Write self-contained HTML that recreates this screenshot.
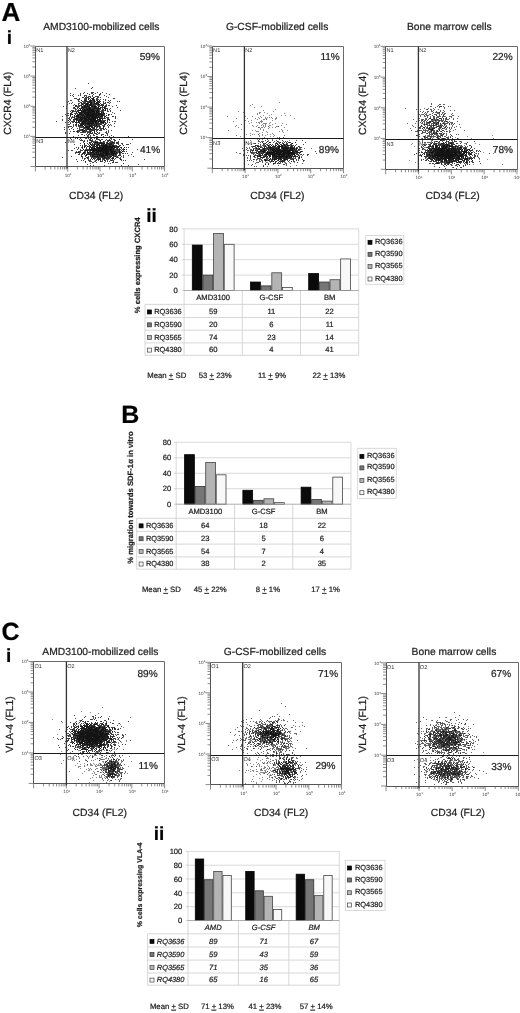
<!DOCTYPE html>
<html><head><meta charset="utf-8"><style>
html,body{margin:0;padding:0;background:#fff;}
body{width:520px;height:1013px;overflow:hidden;}
svg{display:block;font-family:"Liberation Sans", sans-serif;will-change:transform;}
text:not(.n){stroke:#1e1e1e;stroke-width:0.22px;}
</style></head><body>
<svg width="520" height="1013" viewBox="0 0 520 1013" text-rendering="geometricPrecision">
<rect width="520" height="1013" fill="#fff"/>
<g fill="#1e1e1e">
<text x="1.50" y="21.00" font-size="26" font-weight="bold" fill="#000">A</text>
<text x="6.80" y="44.00" font-size="19" font-weight="bold" fill="#000">i</text>
<path d="M35.40 166.50v5M35.40 166.50h-5M45.12 166.50v3M35.40 157.43h-3M50.81 166.50v3M35.40 152.13h-3M54.85 166.50v3M35.40 148.36h-3M57.98 166.50v3M35.40 145.44h-3M60.53 166.50v3M35.40 143.06h-3M62.70 166.50v3M35.40 141.04h-3M64.57 166.50v3M35.40 139.29h-3M66.22 166.50v3M35.40 137.75h-3M67.70 166.50v5M35.40 136.38h-5M77.42 166.50v3M35.40 127.31h-3M83.11 166.50v3M35.40 122.00h-3M87.15 166.50v3M35.40 118.24h-3M90.28 166.50v3M35.40 115.32h-3M92.83 166.50v3M35.40 112.93h-3M95.00 166.50v3M35.40 110.92h-3M96.87 166.50v3M35.40 109.17h-3M98.52 166.50v3M35.40 107.63h-3M100.00 166.50v5M35.40 106.25h-5M109.72 166.50v3M35.40 97.18h-3M115.41 166.50v3M35.40 91.88h-3M119.45 166.50v3M35.40 88.11h-3M122.58 166.50v3M35.40 85.19h-3M125.13 166.50v3M35.40 82.81h-3M127.30 166.50v3M35.40 80.79h-3M129.17 166.50v3M35.40 79.04h-3M130.82 166.50v3M35.40 77.50h-3M132.30 166.50v5M35.40 76.12h-5M142.02 166.50v3M35.40 67.06h-3M147.71 166.50v3M35.40 61.75h-3M151.75 166.50v3M35.40 57.99h-3M154.88 166.50v3M35.40 55.07h-3M157.43 166.50v3M35.40 52.68h-3M159.60 166.50v3M35.40 50.67h-3M161.47 166.50v3M35.40 48.92h-3M163.12 166.50v3M35.40 47.38h-3M164.60 166.50v5M35.40 46.00h-5" stroke="#666" stroke-width="0.75"/>
<g shape-rendering="crispEdges" transform="translate(0,0.5)" ><path d="M75 88h1M93 92h1M91 93h1M106 93h1M73 94h1M89 94h1M100 94h1M109 94h1M72 95h1M80 95h1M85 95h1M86 95h1M84 96h1M86 96h1M106 96h1M82 97h1M83 97h1M90 97h1M93 97h1M97 97h1M100 97h1M76 98h1M88 98h1M92 98h1M93 98h1M114 98h1M78 99h1M86 99h1M88 99h1M92 99h1M93 99h1M96 99h1M97 99h1M81 100h1M84 100h1M85 100h1M90 100h1M91 100h1M92 100h1M93 100h1M94 100h1M96 100h1M99 100h1M105 100h1M89 101h1M90 101h1M94 101h1M95 101h1M98 101h1M99 101h1M100 101h1M109 101h1M67 102h1M72 102h1M81 102h1M84 102h1M89 102h1M90 102h1M91 102h1M92 102h1M94 102h1M105 102h1M108 102h1M71 103h1M82 103h1M85 103h1M86 103h1M87 103h1M88 103h1M91 103h1M94 103h1M95 103h1M97 103h1M98 103h1M109 103h1M78 104h1M81 104h1M82 104h1M85 104h1M86 104h1M87 104h1M88 104h1M89 104h1M90 104h1M92 104h1M93 104h1M96 104h1M98 104h1M99 104h1M75 105h1M76 105h1M79 105h1M84 105h1M87 105h1M89 105h1M90 105h1M91 105h1M92 105h1M93 105h1M94 105h1M97 105h1M99 105h1M101 105h1M103 105h1M105 105h1M109 105h1M75 106h1M76 106h1M78 106h1M79 106h1M82 106h1M84 106h1M87 106h1M89 106h1M91 106h1M92 106h1M93 106h1M94 106h1M95 106h1M98 106h1M102 106h1M105 106h1M74 107h1M78 107h1M81 107h1M82 107h1M83 107h1M87 107h1M88 107h1M90 107h1M92 107h1M93 107h1M94 107h1M95 107h1M98 107h1M100 107h1M101 107h1M102 107h1M104 107h1M66 108h1M81 108h1M83 108h1M88 108h1M89 108h1M90 108h1M92 108h1M93 108h1M94 108h1M95 108h1M96 108h1M98 108h1M99 108h1M102 108h1M104 108h1M105 108h1M76 109h1M80 109h1M84 109h1M85 109h1M86 109h1M87 109h1M88 109h1M89 109h1M90 109h1M91 109h1M92 109h1M93 109h1M95 109h1M96 109h1M97 109h1M98 109h1M99 109h1M102 109h1M103 109h1M105 109h1M107 109h1M71 110h1M72 110h1M79 110h1M81 110h1M83 110h1M84 110h1M85 110h1M86 110h1M87 110h1M89 110h1M91 110h1M92 110h1M93 110h1M94 110h1M95 110h1M96 110h1M98 110h1M99 110h1M101 110h1M102 110h1M105 110h1M110 110h1M72 111h1M78 111h1M81 111h1M82 111h1M83 111h1M84 111h1M85 111h1M87 111h1M88 111h1M89 111h1M92 111h1M93 111h1M94 111h1M96 111h1M97 111h1M98 111h1M101 111h1M72 112h1M76 112h1M78 112h1M79 112h1M80 112h1M82 112h1M83 112h1M84 112h1M85 112h1M87 112h1M88 112h1M89 112h1M90 112h1M91 112h1M93 112h1M94 112h1M96 112h1M97 112h1M98 112h1M102 112h1M112 112h1M67 113h1M70 113h1M75 113h1M79 113h1M80 113h1M81 113h1M83 113h1M84 113h1M85 113h1M87 113h1M88 113h1M90 113h1M91 113h1M92 113h1M93 113h1M94 113h1M95 113h1M96 113h1M99 113h1M100 113h1M101 113h1M103 113h1M65 114h1M70 114h1M79 114h1M80 114h1M81 114h1M82 114h1M83 114h1M85 114h1M86 114h1M87 114h1M88 114h1M89 114h1M90 114h1M91 114h1M92 114h1M93 114h1M94 114h1M97 114h1M99 114h1M100 114h1M101 114h1M108 114h1M68 115h1M70 115h1M76 115h1M77 115h1M78 115h1M80 115h1M81 115h1M82 115h1M83 115h1M84 115h1M86 115h1M87 115h1M88 115h1M89 115h1M90 115h1M91 115h1M92 115h1M93 115h1M96 115h1M97 115h1M98 115h1M99 115h1M100 115h1M101 115h1M102 115h1M103 115h1M106 115h1M108 115h1M62 116h1M70 116h1M75 116h1M76 116h1M77 116h1M78 116h1M82 116h1M83 116h1M84 116h1M85 116h1M86 116h1M87 116h1M88 116h1M89 116h1M90 116h1M92 116h1M93 116h1M94 116h1M95 116h1M96 116h1M98 116h1M100 116h1M101 116h1M102 116h1M105 116h1M112 116h1M113 116h1M69 117h1M74 117h1M77 117h1M78 117h1M79 117h1M80 117h1M81 117h1M83 117h1M85 117h1M86 117h1M87 117h1M88 117h1M89 117h1M91 117h1M92 117h1M93 117h1M94 117h1M95 117h1M96 117h1M97 117h1M98 117h1M99 117h1M104 117h1M115 117h1M68 118h1M69 118h1M71 118h1M74 118h1M75 118h1M82 118h1M83 118h1M84 118h1M85 118h1M86 118h1M87 118h1M88 118h1M89 118h1M91 118h1M92 118h1M93 118h1M94 118h1M95 118h1M96 118h1M99 118h1M100 118h1M101 118h1M102 118h1M107 118h1M108 118h1M115 118h1M69 119h1M70 119h1M73 119h1M75 119h1M77 119h1M79 119h1M80 119h1M81 119h1M83 119h1M85 119h1M86 119h1M87 119h1M88 119h1M89 119h1M90 119h1M91 119h1M93 119h1M94 119h1M95 119h1M98 119h1M99 119h1M102 119h1M108 119h1M109 119h1M68 120h1M77 120h1M78 120h1M80 120h1M81 120h1M83 120h1M84 120h1M85 120h1M86 120h1M87 120h1M88 120h1M90 120h1M91 120h1M92 120h1M94 120h1M95 120h1M96 120h1M97 120h1M98 120h1M99 120h1M100 120h1M102 120h1M105 120h1M107 120h1M109 120h1M69 121h1M73 121h1M74 121h1M80 121h1M82 121h1M83 121h1M84 121h1M85 121h1M86 121h1M88 121h1M89 121h1M91 121h1M92 121h1M93 121h1M94 121h1M95 121h1M96 121h1M98 121h1M99 121h1M100 121h1M101 121h1M102 121h1M104 121h1M112 121h1M114 121h1M75 122h1M76 122h1M79 122h1M82 122h1M83 122h1M84 122h1M85 122h1M87 122h1M88 122h1M89 122h1M91 122h1M92 122h1M93 122h1M94 122h1M95 122h1M97 122h1M100 122h1M101 122h1M103 122h1M105 122h1M107 122h1M109 122h1M80 123h1M82 123h1M83 123h1M84 123h1M88 123h1M89 123h1M90 123h1M91 123h1M92 123h1M95 123h1M96 123h1M99 123h1M101 123h1M105 123h1M69 124h1M76 124h1M80 124h1M81 124h1M82 124h1M83 124h1M85 124h1M86 124h1M87 124h1M88 124h1M89 124h1M91 124h1M92 124h1M93 124h1M94 124h1M96 124h1M98 124h1M99 124h1M100 124h1M104 124h1M110 124h1M76 125h1M79 125h1M80 125h1M81 125h1M82 125h1M84 125h1M86 125h1M89 125h1M90 125h1M91 125h1M93 125h1M94 125h1M96 125h1M102 125h1M109 125h1M68 126h1M69 126h1M79 126h1M82 126h1M83 126h1M85 126h1M87 126h1M88 126h1M89 126h1M92 126h1M94 126h1M99 126h1M103 126h1M104 126h1M108 126h1M68 127h1M72 127h1M80 127h1M81 127h1M85 127h1M86 127h1M87 127h1M89 127h1M91 127h1M93 127h1M94 127h1M97 127h1M103 127h1M108 127h1M71 128h1M77 128h1M87 128h1M88 128h1M89 128h1M90 128h1M93 128h1M94 128h1M103 128h1M105 128h1M80 129h1M82 129h1M83 129h1M85 129h1M87 129h1M88 129h1M89 129h1M90 129h1M91 129h1M92 129h1M95 129h1M98 129h1M103 129h1M106 129h1M79 130h1M81 130h1M82 130h1M83 130h1M84 130h1M85 130h1M93 130h1M96 130h1M100 130h1M108 130h1M70 131h1M73 131h1M77 131h1M83 131h1M84 131h1M90 131h1M94 131h1M108 131h1M78 132h1M81 132h1M87 132h1M90 132h1M92 132h1M94 132h1M97 132h1M99 132h1M69 133h1M90 133h1M91 133h1M99 133h1M106 133h1M81 134h1M82 134h1M88 134h1M89 134h1M96 134h1M97 134h1M102 134h1M87 135h1M88 135h1M94 135h1M101 135h1M88 136h1M90 136h1M109 136h1M128 136h1M90 137h1M95 137h1M98 137h1M108 137h1M70 138h1M75 138h1M77 138h1M80 138h1M88 138h1M91 138h1M94 138h1M96 138h1M110 138h1M111 138h1M71 139h1M79 139h1M81 139h1M90 139h1M97 139h1M111 139h1M114 139h1M119 139h1M87 140h1M90 140h1M95 140h1M100 140h1M108 140h1M109 140h1M83 141h1M87 141h1M91 141h1M94 141h1M100 141h1M103 141h1M108 141h1M111 141h1M90 142h1M94 142h1M95 142h1M96 142h1M97 142h1M98 142h1M100 142h1M101 142h1M102 142h1M103 142h1M104 142h1M107 142h1M109 142h1M110 142h1M112 142h1M113 142h1M116 142h1M117 142h1M118 142h1M84 143h1M92 143h1M94 143h1M100 143h1M101 143h1M102 143h1M104 143h1M107 143h1M108 143h1M110 143h1M112 143h1M113 143h1M118 143h1M74 144h1M84 144h1M88 144h1M90 144h1M91 144h1M92 144h1M97 144h1M98 144h1M101 144h1M103 144h1M105 144h1M106 144h1M109 144h1M110 144h1M111 144h1M113 144h1M118 144h1M126 144h1M128 144h1M80 145h1M82 145h1M84 145h1M91 145h1M92 145h1M94 145h1M97 145h1M99 145h1M101 145h1M102 145h1M104 145h1M105 145h1M106 145h1M107 145h1M109 145h1M110 145h1M112 145h1M113 145h1M116 145h1M82 146h1M84 146h1M85 146h1M87 146h1M88 146h1M92 146h1M93 146h1M95 146h1M97 146h1M99 146h1M102 146h1M103 146h1M104 146h1M105 146h1M106 146h1M108 146h1M109 146h1M110 146h1M111 146h1M112 146h1M114 146h1M115 146h1M116 146h1M117 146h1M118 146h1M81 147h1M82 147h1M91 147h1M92 147h1M94 147h1M96 147h1M97 147h1M98 147h1M99 147h1M100 147h1M101 147h1M102 147h1M103 147h1M104 147h1M105 147h1M106 147h1M107 147h1M108 147h1M109 147h1M110 147h1M111 147h1M112 147h1M114 147h1M115 147h1M118 147h1M124 147h1M74 148h1M91 148h1M92 148h1M93 148h1M95 148h1M97 148h1M98 148h1M99 148h1M100 148h1M101 148h1M102 148h1M103 148h1M104 148h1M105 148h1M106 148h1M107 148h1M108 148h1M109 148h1M110 148h1M111 148h1M112 148h1M113 148h1M116 148h1M117 148h1M83 149h1M85 149h1M86 149h1M87 149h1M89 149h1M90 149h1M91 149h1M92 149h1M93 149h1M94 149h1M95 149h1M96 149h1M97 149h1M98 149h1M100 149h1M101 149h1M102 149h1M103 149h1M104 149h1M105 149h1M106 149h1M107 149h1M108 149h1M110 149h1M111 149h1M113 149h1M114 149h1M116 149h1M124 149h1M126 149h1M68 150h1M80 150h1M81 150h1M84 150h1M85 150h1M86 150h1M91 150h1M93 150h1M94 150h1M95 150h1M96 150h1M97 150h1M98 150h1M99 150h1M100 150h1M101 150h1M102 150h1M103 150h1M104 150h1M105 150h1M106 150h1M107 150h1M108 150h1M109 150h1M110 150h1M111 150h1M113 150h1M114 150h1M119 150h1M121 150h1M78 151h1M79 151h1M87 151h1M92 151h1M93 151h1M94 151h1M95 151h1M96 151h1M97 151h1M98 151h1M99 151h1M100 151h1M101 151h1M102 151h1M103 151h1M104 151h1M105 151h1M106 151h1M107 151h1M108 151h1M110 151h1M111 151h1M112 151h1M114 151h1M115 151h1M117 151h1M119 151h1M122 151h1M126 151h1M75 152h1M76 152h1M77 152h1M78 152h1M84 152h1M85 152h1M87 152h1M88 152h1M90 152h1M91 152h1M92 152h1M93 152h1M95 152h1M96 152h1M97 152h1M98 152h1M100 152h1M102 152h1M103 152h1M105 152h1M106 152h1M107 152h1M110 152h1M111 152h1M112 152h1M113 152h1M116 152h1M119 152h1M121 152h1M75 153h1M79 153h1M82 153h1M84 153h1M85 153h1M88 153h1M91 153h1M93 153h1M94 153h1M96 153h1M98 153h1M99 153h1M100 153h1M101 153h1M102 153h1M103 153h1M104 153h1M105 153h1M106 153h1M107 153h1M108 153h1M113 153h1M114 153h1M116 153h1M119 153h1M122 153h1M123 153h1M127 153h1M87 154h1M88 154h1M93 154h1M94 154h1M95 154h1M96 154h1M97 154h1M98 154h1M99 154h1M100 154h1M101 154h1M102 154h1M103 154h1M104 154h1M105 154h1M106 154h1M107 154h1M108 154h1M109 154h1M111 154h1M112 154h1M113 154h1M115 154h1M119 154h1M86 155h1M90 155h1M91 155h1M94 155h1M95 155h1M97 155h1M99 155h1M100 155h1M101 155h1M102 155h1M103 155h1M104 155h1M105 155h1M106 155h1M107 155h1M110 155h1M112 155h1M113 155h1M115 155h1M128 155h1M71 156h1M82 156h1M90 156h1M91 156h1M92 156h1M93 156h1M94 156h1M95 156h1M97 156h1M98 156h1M99 156h1M100 156h1M101 156h1M102 156h1M103 156h1M104 156h1M106 156h1M107 156h1M109 156h1M110 156h1M111 156h1M113 156h1M116 156h1M121 156h1M87 157h1M92 157h1M94 157h1M96 157h1M99 157h1M101 157h1M102 157h1M103 157h1M104 157h1M106 157h1M112 157h1M113 157h1M118 157h1M84 158h1M91 158h1M93 158h1M94 158h1M97 158h1M98 158h1M100 158h1M103 158h1M104 158h1M106 158h1M107 158h1M109 158h1M112 158h1M113 158h1M115 158h1M76 159h1M84 159h1M88 159h1M92 159h1M96 159h1M98 159h1M99 159h1M100 159h1M103 159h1M104 159h1M107 159h1M120 159h1M144 159h1M88 160h1M104 160h1M113 160h1M121 160h1M125 160h1M89 161h1M91 161h1M100 161h1M101 161h1M112 162h1M116 162h1M123 163h1M87 164h1M93 165h1M104 165h1M121 165h1" stroke="#111" stroke-opacity="0.78" stroke-width="1"/><path d="M91 88h1M91 92h1M92 92h1M102 92h1M80 93h1M83 93h1M95 93h1M99 94h1M92 95h1M104 95h1M73 96h1M88 96h1M89 96h1M90 96h1M97 96h1M86 97h1M87 97h1M90 97h1M93 97h1M94 97h1M75 98h1M79 98h1M84 98h1M85 98h1M86 98h1M89 98h1M93 98h1M79 99h1M85 99h1M88 99h1M92 99h1M93 99h1M100 99h1M78 100h1M85 100h1M86 100h1M90 100h1M93 100h1M97 100h1M110 100h1M78 101h1M79 101h1M82 101h1M85 101h1M86 101h1M87 101h1M88 101h1M89 101h1M91 101h1M92 101h1M93 101h1M97 101h1M98 101h1M103 101h1M119 101h1M80 102h1M83 102h1M87 102h1M89 102h1M90 102h1M91 102h1M96 102h1M97 102h1M99 102h1M103 102h1M107 102h1M108 102h1M79 103h1M81 103h1M83 103h1M84 103h1M86 103h1M87 103h1M88 103h1M90 103h1M91 103h1M92 103h1M96 103h1M97 103h1M98 103h1M100 103h1M103 103h1M104 103h1M82 104h1M83 104h1M86 104h1M87 104h1M89 104h1M90 104h1M91 104h1M93 104h1M95 104h1M96 104h1M98 104h1M99 104h1M101 104h1M102 104h1M103 104h1M106 104h1M73 105h1M75 105h1M81 105h1M84 105h1M85 105h1M86 105h1M88 105h1M89 105h1M90 105h1M91 105h1M94 105h1M100 105h1M102 105h1M103 105h1M108 105h1M63 106h1M66 106h1M75 106h1M81 106h1M82 106h1M83 106h1M84 106h1M85 106h1M86 106h1M87 106h1M88 106h1M89 106h1M91 106h1M92 106h1M93 106h1M95 106h1M96 106h1M98 106h1M99 106h1M102 106h1M104 106h1M105 106h1M74 107h1M82 107h1M84 107h1M85 107h1M86 107h1M88 107h1M89 107h1M91 107h1M92 107h1M94 107h1M95 107h1M96 107h1M97 107h1M98 107h1M100 107h1M103 107h1M105 107h1M117 107h1M66 108h1M73 108h1M75 108h1M77 108h1M79 108h1M81 108h1M83 108h1M84 108h1M86 108h1M87 108h1M88 108h1M89 108h1M90 108h1M91 108h1M93 108h1M94 108h1M96 108h1M97 108h1M98 108h1M100 108h1M104 108h1M105 108h1M107 108h1M75 109h1M80 109h1M82 109h1M83 109h1M84 109h1M85 109h1M86 109h1M87 109h1M88 109h1M89 109h1M90 109h1M92 109h1M93 109h1M94 109h1M97 109h1M109 109h1M75 110h1M78 110h1M79 110h1M80 110h1M81 110h1M83 110h1M84 110h1M85 110h1M87 110h1M88 110h1M89 110h1M90 110h1M91 110h1M92 110h1M93 110h1M94 110h1M95 110h1M96 110h1M97 110h1M98 110h1M102 110h1M103 110h1M104 110h1M107 110h1M72 111h1M74 111h1M76 111h1M81 111h1M82 111h1M83 111h1M84 111h1M85 111h1M87 111h1M88 111h1M89 111h1M90 111h1M91 111h1M92 111h1M93 111h1M94 111h1M95 111h1M96 111h1M97 111h1M98 111h1M99 111h1M100 111h1M102 111h1M103 111h1M107 111h1M78 112h1M80 112h1M81 112h1M83 112h1M84 112h1M85 112h1M86 112h1M87 112h1M88 112h1M89 112h1M90 112h1M91 112h1M92 112h1M94 112h1M95 112h1M96 112h1M97 112h1M98 112h1M101 112h1M103 112h1M74 113h1M79 113h1M80 113h1M81 113h1M82 113h1M84 113h1M86 113h1M87 113h1M88 113h1M89 113h1M90 113h1M91 113h1M93 113h1M95 113h1M97 113h1M98 113h1M99 113h1M101 113h1M102 113h1M103 113h1M104 113h1M70 114h1M71 114h1M72 114h1M75 114h1M78 114h1M79 114h1M80 114h1M81 114h1M83 114h1M85 114h1M86 114h1M87 114h1M88 114h1M89 114h1M90 114h1M91 114h1M92 114h1M93 114h1M94 114h1M95 114h1M96 114h1M97 114h1M98 114h1M100 114h1M101 114h1M102 114h1M103 114h1M109 114h1M74 115h1M76 115h1M77 115h1M79 115h1M81 115h1M82 115h1M85 115h1M87 115h1M88 115h1M89 115h1M90 115h1M91 115h1M92 115h1M93 115h1M94 115h1M95 115h1M96 115h1M97 115h1M99 115h1M102 115h1M103 115h1M106 115h1M74 116h1M77 116h1M78 116h1M80 116h1M81 116h1M84 116h1M86 116h1M87 116h1M88 116h1M90 116h1M91 116h1M92 116h1M93 116h1M94 116h1M95 116h1M96 116h1M97 116h1M98 116h1M99 116h1M100 116h1M101 116h1M102 116h1M105 116h1M112 116h1M72 117h1M73 117h1M74 117h1M76 117h1M78 117h1M79 117h1M80 117h1M81 117h1M82 117h1M83 117h1M84 117h1M85 117h1M86 117h1M87 117h1M88 117h1M89 117h1M90 117h1M91 117h1M92 117h1M93 117h1M94 117h1M95 117h1M96 117h1M98 117h1M99 117h1M102 117h1M104 117h1M106 117h1M76 118h1M77 118h1M78 118h1M79 118h1M80 118h1M81 118h1M84 118h1M85 118h1M86 118h1M88 118h1M90 118h1M91 118h1M92 118h1M93 118h1M95 118h1M97 118h1M102 118h1M104 118h1M62 119h1M73 119h1M74 119h1M76 119h1M78 119h1M81 119h1M82 119h1M84 119h1M85 119h1M86 119h1M87 119h1M89 119h1M90 119h1M91 119h1M92 119h1M93 119h1M94 119h1M95 119h1M97 119h1M99 119h1M100 119h1M62 120h1M70 120h1M73 120h1M74 120h1M76 120h1M78 120h1M79 120h1M80 120h1M81 120h1M83 120h1M85 120h1M86 120h1M87 120h1M88 120h1M90 120h1M91 120h1M92 120h1M93 120h1M94 120h1M95 120h1M96 120h1M100 120h1M104 120h1M105 120h1M56 121h1M71 121h1M72 121h1M78 121h1M79 121h1M80 121h1M81 121h1M82 121h1M83 121h1M84 121h1M86 121h1M87 121h1M88 121h1M89 121h1M90 121h1M91 121h1M92 121h1M93 121h1M94 121h1M95 121h1M96 121h1M98 121h1M99 121h1M100 121h1M101 121h1M103 121h1M72 122h1M73 122h1M76 122h1M78 122h1M82 122h1M83 122h1M85 122h1M87 122h1M90 122h1M92 122h1M93 122h1M95 122h1M96 122h1M98 122h1M100 122h1M102 122h1M103 122h1M104 122h1M70 123h1M79 123h1M81 123h1M82 123h1M83 123h1M85 123h1M86 123h1M87 123h1M88 123h1M89 123h1M90 123h1M91 123h1M92 123h1M93 123h1M95 123h1M97 123h1M102 123h1M103 123h1M106 123h1M73 124h1M76 124h1M78 124h1M80 124h1M81 124h1M82 124h1M83 124h1M85 124h1M88 124h1M89 124h1M90 124h1M91 124h1M96 124h1M97 124h1M98 124h1M100 124h1M105 124h1M75 125h1M78 125h1M80 125h1M82 125h1M84 125h1M87 125h1M88 125h1M89 125h1M91 125h1M93 125h1M94 125h1M96 125h1M97 125h1M98 125h1M99 125h1M107 125h1M70 126h1M73 126h1M78 126h1M81 126h1M85 126h1M86 126h1M87 126h1M88 126h1M89 126h1M90 126h1M91 126h1M92 126h1M95 126h1M96 126h1M97 126h1M98 126h1M99 126h1M103 126h1M84 127h1M85 127h1M86 127h1M88 127h1M92 127h1M94 127h1M96 127h1M99 127h1M100 127h1M103 127h1M79 128h1M84 128h1M85 128h1M86 128h1M88 128h1M92 128h1M94 128h1M96 128h1M102 128h1M103 128h1M79 129h1M81 129h1M82 129h1M86 129h1M88 129h1M91 129h1M93 129h1M95 129h1M77 130h1M78 130h1M80 130h1M82 130h1M84 130h1M86 130h1M89 130h1M92 130h1M94 130h1M101 130h1M111 130h1M73 131h1M74 131h1M77 131h1M82 131h1M83 131h1M85 131h1M87 131h1M90 131h1M96 131h1M77 132h1M83 132h1M84 132h1M85 132h1M88 132h1M89 132h1M90 132h1M94 132h1M97 132h1M105 132h1M108 132h1M89 133h1M91 133h1M92 133h1M95 133h1M98 133h1M107 133h1M86 134h1M93 134h1M103 134h1M107 134h1M90 135h1M93 135h1M101 135h1M105 135h1M111 135h1M87 136h1M96 136h1M81 137h1M92 137h1M108 137h1M118 137h1M77 138h1M86 138h1M96 138h1M98 139h1M102 139h1M113 139h1M119 139h1M132 139h1M80 140h1M81 140h1M89 140h1M90 140h1M92 140h1M99 140h1M100 140h1M107 140h1M108 140h1M110 140h1M84 141h1M91 141h1M96 141h1M97 141h1M107 141h1M114 141h1M118 141h1M65 142h1M89 142h1M91 142h1M93 142h1M95 142h1M96 142h1M97 142h1M99 142h1M80 143h1M84 143h1M87 143h1M92 143h1M94 143h1M95 143h1M97 143h1M98 143h1M99 143h1M100 143h1M101 143h1M103 143h1M104 143h1M108 143h1M111 143h1M114 143h1M117 143h1M122 143h1M90 144h1M93 144h1M94 144h1M96 144h1M98 144h1M99 144h1M103 144h1M105 144h1M107 144h1M109 144h1M111 144h1M86 145h1M89 145h1M93 145h1M94 145h1M96 145h1M99 145h1M100 145h1M101 145h1M102 145h1M103 145h1M104 145h1M105 145h1M106 145h1M107 145h1M108 145h1M109 145h1M112 145h1M113 145h1M90 146h1M93 146h1M94 146h1M95 146h1M96 146h1M97 146h1M99 146h1M100 146h1M101 146h1M102 146h1M103 146h1M104 146h1M105 146h1M106 146h1M107 146h1M108 146h1M109 146h1M110 146h1M111 146h1M112 146h1M113 146h1M114 146h1M116 146h1M118 146h1M119 146h1M76 147h1M78 147h1M84 147h1M86 147h1M89 147h1M90 147h1M93 147h1M94 147h1M96 147h1M97 147h1M98 147h1M99 147h1M100 147h1M101 147h1M102 147h1M103 147h1M105 147h1M106 147h1M107 147h1M108 147h1M109 147h1M111 147h1M112 147h1M113 147h1M114 147h1M116 147h1M117 147h1M118 147h1M121 147h1M124 147h1M128 147h1M82 148h1M86 148h1M89 148h1M92 148h1M93 148h1M94 148h1M95 148h1M97 148h1M99 148h1M100 148h1M101 148h1M102 148h1M103 148h1M104 148h1M105 148h1M106 148h1M107 148h1M109 148h1M111 148h1M112 148h1M113 148h1M119 148h1M121 148h1M123 148h1M80 149h1M88 149h1M91 149h1M93 149h1M94 149h1M95 149h1M96 149h1M97 149h1M99 149h1M100 149h1M101 149h1M102 149h1M103 149h1M104 149h1M105 149h1M106 149h1M107 149h1M108 149h1M109 149h1M110 149h1M111 149h1M112 149h1M115 149h1M117 149h1M119 149h1M120 149h1M124 149h1M71 150h1M86 150h1M87 150h1M88 150h1M90 150h1M91 150h1M92 150h1M93 150h1M95 150h1M96 150h1M97 150h1M98 150h1M99 150h1M100 150h1M101 150h1M102 150h1M103 150h1M105 150h1M106 150h1M107 150h1M108 150h1M109 150h1M110 150h1M112 150h1M113 150h1M118 150h1M119 150h1M121 150h1M80 151h1M84 151h1M87 151h1M89 151h1M90 151h1M92 151h1M93 151h1M94 151h1M97 151h1M98 151h1M99 151h1M100 151h1M101 151h1M102 151h1M103 151h1M104 151h1M105 151h1M106 151h1M107 151h1M108 151h1M109 151h1M110 151h1M111 151h1M112 151h1M113 151h1M114 151h1M119 151h1M120 151h1M123 151h1M76 152h1M78 152h1M80 152h1M83 152h1M89 152h1M90 152h1M91 152h1M92 152h1M96 152h1M97 152h1M98 152h1M100 152h1M102 152h1M103 152h1M104 152h1M105 152h1M106 152h1M107 152h1M108 152h1M109 152h1M111 152h1M112 152h1M114 152h1M116 152h1M119 152h1M132 152h1M83 153h1M87 153h1M88 153h1M90 153h1M91 153h1M92 153h1M93 153h1M94 153h1M96 153h1M97 153h1M98 153h1M100 153h1M101 153h1M102 153h1M103 153h1M104 153h1M105 153h1M106 153h1M107 153h1M108 153h1M109 153h1M111 153h1M112 153h1M113 153h1M114 153h1M115 153h1M125 153h1M79 154h1M84 154h1M86 154h1M89 154h1M90 154h1M91 154h1M92 154h1M93 154h1M94 154h1M95 154h1M96 154h1M97 154h1M98 154h1M99 154h1M100 154h1M101 154h1M102 154h1M103 154h1M105 154h1M106 154h1M107 154h1M108 154h1M109 154h1M110 154h1M111 154h1M112 154h1M115 154h1M116 154h1M120 154h1M131 154h1M86 155h1M90 155h1M92 155h1M93 155h1M97 155h1M98 155h1M99 155h1M100 155h1M101 155h1M102 155h1M103 155h1M105 155h1M106 155h1M107 155h1M109 155h1M113 155h1M116 155h1M118 155h1M120 155h1M81 156h1M85 156h1M88 156h1M92 156h1M93 156h1M95 156h1M96 156h1M98 156h1M101 156h1M103 156h1M104 156h1M107 156h1M108 156h1M110 156h1M114 156h1M115 156h1M117 156h1M82 157h1M86 157h1M88 157h1M96 157h1M98 157h1M100 157h1M102 157h1M104 157h1M105 157h1M107 157h1M108 157h1M110 157h1M116 157h1M117 157h1M85 158h1M88 158h1M103 158h1M104 158h1M105 158h1M106 158h1M108 158h1M111 158h1M112 158h1M113 158h1M119 158h1M120 158h1M98 159h1M99 159h1M100 159h1M106 159h1M108 159h1M112 159h1M83 160h1M89 160h1M90 160h1M100 160h1M104 160h1M107 160h1M111 160h1M123 160h1M85 161h1M107 161h1M109 161h1M113 161h1M85 162h1M92 162h1M93 162h1M96 162h1M112 162h1M115 162h1M108 163h1M110 163h1M138 164h1M90 165h1M128 165h1" stroke="#111" stroke-opacity="0.78" stroke-width="1"/><path d="M88 83h1M92 87h1M84 92h1M97 92h1M70 93h1M87 93h1M92 93h1M100 93h1M80 94h1M89 94h1M93 94h1M70 95h1M78 95h1M84 95h1M99 95h1M92 96h1M95 96h1M96 96h1M98 96h1M82 97h1M85 97h1M88 97h1M98 97h1M108 97h1M74 98h1M86 98h1M91 98h1M92 98h1M96 98h1M97 98h1M113 98h1M77 99h1M84 99h1M88 99h1M90 99h1M93 99h1M94 99h1M98 99h1M103 99h1M105 99h1M70 100h1M71 100h1M81 100h1M84 100h1M89 100h1M90 100h1M91 100h1M94 100h1M97 100h1M99 100h1M108 100h1M68 101h1M83 101h1M84 101h1M86 101h1M87 101h1M90 101h1M94 101h1M97 101h1M98 101h1M117 101h1M85 102h1M88 102h1M90 102h1M91 102h1M93 102h1M94 102h1M96 102h1M97 102h1M98 102h1M99 102h1M110 102h1M69 103h1M78 103h1M81 103h1M84 103h1M86 103h1M90 103h1M91 103h1M93 103h1M94 103h1M95 103h1M96 103h1M105 103h1M67 104h1M74 104h1M82 104h1M85 104h1M86 104h1M87 104h1M90 104h1M91 104h1M94 104h1M97 104h1M99 104h1M101 104h1M76 105h1M78 105h1M80 105h1M81 105h1M83 105h1M84 105h1M85 105h1M87 105h1M90 105h1M92 105h1M95 105h1M98 105h1M101 105h1M106 105h1M116 105h1M77 106h1M82 106h1M85 106h1M86 106h1M87 106h1M88 106h1M91 106h1M92 106h1M94 106h1M95 106h1M96 106h1M98 106h1M102 106h1M106 106h1M112 106h1M73 107h1M77 107h1M82 107h1M83 107h1M84 107h1M85 107h1M86 107h1M89 107h1M90 107h1M94 107h1M104 107h1M74 108h1M79 108h1M80 108h1M81 108h1M82 108h1M83 108h1M85 108h1M86 108h1M87 108h1M89 108h1M90 108h1M93 108h1M94 108h1M95 108h1M96 108h1M97 108h1M98 108h1M99 108h1M100 108h1M104 108h1M106 108h1M110 108h1M78 109h1M80 109h1M82 109h1M84 109h1M87 109h1M88 109h1M89 109h1M90 109h1M91 109h1M92 109h1M93 109h1M97 109h1M98 109h1M100 109h1M103 109h1M105 109h1M73 110h1M77 110h1M78 110h1M79 110h1M80 110h1M82 110h1M83 110h1M84 110h1M85 110h1M86 110h1M88 110h1M89 110h1M90 110h1M91 110h1M92 110h1M93 110h1M97 110h1M105 110h1M120 110h1M70 111h1M73 111h1M75 111h1M77 111h1M81 111h1M83 111h1M84 111h1M85 111h1M86 111h1M88 111h1M89 111h1M90 111h1M91 111h1M92 111h1M93 111h1M94 111h1M96 111h1M97 111h1M98 111h1M108 111h1M110 111h1M71 112h1M76 112h1M79 112h1M81 112h1M82 112h1M84 112h1M85 112h1M86 112h1M87 112h1M88 112h1M89 112h1M90 112h1M92 112h1M93 112h1M94 112h1M96 112h1M97 112h1M99 112h1M101 112h1M103 112h1M68 113h1M70 113h1M71 113h1M76 113h1M77 113h1M81 113h1M84 113h1M85 113h1M86 113h1M87 113h1M88 113h1M89 113h1M92 113h1M93 113h1M94 113h1M95 113h1M96 113h1M97 113h1M98 113h1M100 113h1M104 113h1M106 113h1M114 113h1M72 114h1M77 114h1M78 114h1M79 114h1M80 114h1M81 114h1M82 114h1M83 114h1M84 114h1M85 114h1M86 114h1M87 114h1M88 114h1M89 114h1M90 114h1M91 114h1M92 114h1M93 114h1M94 114h1M95 114h1M96 114h1M97 114h1M98 114h1M99 114h1M100 114h1M102 114h1M104 114h1M108 114h1M111 114h1M66 115h1M67 115h1M70 115h1M74 115h1M76 115h1M78 115h1M82 115h1M83 115h1M84 115h1M86 115h1M87 115h1M88 115h1M89 115h1M90 115h1M91 115h1M92 115h1M93 115h1M94 115h1M95 115h1M96 115h1M98 115h1M101 115h1M104 115h1M108 115h1M72 116h1M76 116h1M77 116h1M78 116h1M79 116h1M80 116h1M82 116h1M84 116h1M85 116h1M86 116h1M87 116h1M89 116h1M90 116h1M91 116h1M92 116h1M93 116h1M95 116h1M96 116h1M98 116h1M100 116h1M101 116h1M104 116h1M115 116h1M71 117h1M78 117h1M79 117h1M80 117h1M81 117h1M82 117h1M84 117h1M87 117h1M88 117h1M89 117h1M91 117h1M92 117h1M93 117h1M94 117h1M95 117h1M96 117h1M97 117h1M98 117h1M99 117h1M100 117h1M101 117h1M104 117h1M107 117h1M108 117h1M76 118h1M77 118h1M80 118h1M81 118h1M82 118h1M83 118h1M84 118h1M85 118h1M86 118h1M88 118h1M89 118h1M90 118h1M92 118h1M93 118h1M94 118h1M95 118h1M97 118h1M99 118h1M100 118h1M101 118h1M103 118h1M105 118h1M73 119h1M75 119h1M76 119h1M77 119h1M79 119h1M80 119h1M82 119h1M84 119h1M85 119h1M86 119h1M87 119h1M88 119h1M89 119h1M90 119h1M91 119h1M92 119h1M93 119h1M94 119h1M95 119h1M97 119h1M98 119h1M100 119h1M102 119h1M107 119h1M108 119h1M68 120h1M76 120h1M79 120h1M82 120h1M84 120h1M86 120h1M87 120h1M88 120h1M89 120h1M90 120h1M91 120h1M92 120h1M93 120h1M94 120h1M96 120h1M97 120h1M99 120h1M101 120h1M103 120h1M107 120h1M74 121h1M76 121h1M78 121h1M82 121h1M83 121h1M84 121h1M85 121h1M86 121h1M88 121h1M89 121h1M90 121h1M92 121h1M93 121h1M94 121h1M95 121h1M96 121h1M97 121h1M98 121h1M100 121h1M101 121h1M103 121h1M104 121h1M107 121h1M115 121h1M65 122h1M68 122h1M70 122h1M75 122h1M77 122h1M78 122h1M79 122h1M81 122h1M82 122h1M84 122h1M85 122h1M86 122h1M87 122h1M88 122h1M89 122h1M90 122h1M91 122h1M93 122h1M95 122h1M96 122h1M98 122h1M101 122h1M102 122h1M103 122h1M109 122h1M76 123h1M81 123h1M83 123h1M85 123h1M86 123h1M87 123h1M88 123h1M89 123h1M90 123h1M92 123h1M93 123h1M94 123h1M96 123h1M97 123h1M98 123h1M99 123h1M100 123h1M103 123h1M105 123h1M114 123h1M68 124h1M75 124h1M83 124h1M84 124h1M85 124h1M87 124h1M89 124h1M91 124h1M92 124h1M94 124h1M95 124h1M96 124h1M101 124h1M104 124h1M108 124h1M73 125h1M78 125h1M81 125h1M82 125h1M84 125h1M85 125h1M89 125h1M90 125h1M92 125h1M93 125h1M95 125h1M96 125h1M103 125h1M104 125h1M111 125h1M71 126h1M76 126h1M80 126h1M83 126h1M86 126h1M87 126h1M88 126h1M90 126h1M91 126h1M94 126h1M95 126h1M97 126h1M99 126h1M100 126h1M114 126h1M64 127h1M79 127h1M82 127h1M83 127h1M84 127h1M86 127h1M87 127h1M88 127h1M89 127h1M91 127h1M92 127h1M94 127h1M103 127h1M83 128h1M84 128h1M87 128h1M88 128h1M90 128h1M93 128h1M99 128h1M100 128h1M101 128h1M64 129h1M69 129h1M73 129h1M82 129h1M87 129h1M89 129h1M90 129h1M94 129h1M96 129h1M97 129h1M100 129h1M101 129h1M104 129h1M82 130h1M86 130h1M90 130h1M91 130h1M92 130h1M94 130h1M97 130h1M99 130h1M76 131h1M78 131h1M79 131h1M83 131h1M86 131h1M88 131h1M89 131h1M91 131h1M94 131h1M106 131h1M65 132h1M80 132h1M82 132h1M97 132h1M106 132h1M65 133h1M87 133h1M94 133h1M96 133h1M101 134h1M78 135h1M84 135h1M107 135h1M73 136h1M97 136h1M103 136h1M113 136h1M65 137h1M100 137h1M120 137h1M85 138h1M90 138h1M97 138h1M89 139h1M92 139h1M96 139h1M99 139h1M101 139h1M106 139h1M109 139h1M82 140h1M84 140h1M90 140h1M91 140h1M105 140h1M109 140h1M114 140h1M115 140h1M92 141h1M93 141h1M95 141h1M103 141h1M104 141h1M110 141h1M112 141h1M83 142h1M89 142h1M95 142h1M97 142h1M100 142h1M101 142h1M106 142h1M107 142h1M111 142h1M112 142h1M113 142h1M114 142h1M117 142h1M89 143h1M90 143h1M96 143h1M97 143h1M99 143h1M100 143h1M102 143h1M103 143h1M104 143h1M106 143h1M107 143h1M109 143h1M110 143h1M111 143h1M116 143h1M121 143h1M130 143h1M84 144h1M90 144h1M94 144h1M95 144h1M97 144h1M98 144h1M101 144h1M102 144h1M103 144h1M104 144h1M106 144h1M108 144h1M110 144h1M112 144h1M122 144h1M127 144h1M85 145h1M89 145h1M91 145h1M94 145h1M96 145h1M97 145h1M98 145h1M99 145h1M101 145h1M102 145h1M103 145h1M104 145h1M105 145h1M106 145h1M110 145h1M111 145h1M113 145h1M114 145h1M115 145h1M119 145h1M120 145h1M123 145h1M84 146h1M87 146h1M89 146h1M90 146h1M93 146h1M95 146h1M97 146h1M99 146h1M102 146h1M103 146h1M104 146h1M105 146h1M106 146h1M107 146h1M109 146h1M110 146h1M111 146h1M112 146h1M113 146h1M114 146h1M117 146h1M82 147h1M84 147h1M89 147h1M91 147h1M92 147h1M94 147h1M96 147h1M97 147h1M98 147h1M99 147h1M100 147h1M101 147h1M102 147h1M103 147h1M104 147h1M105 147h1M106 147h1M107 147h1M108 147h1M109 147h1M110 147h1M115 147h1M120 147h1M121 147h1M126 147h1M78 148h1M89 148h1M91 148h1M94 148h1M96 148h1M97 148h1M98 148h1M99 148h1M100 148h1M101 148h1M102 148h1M103 148h1M104 148h1M105 148h1M106 148h1M108 148h1M110 148h1M111 148h1M112 148h1M113 148h1M114 148h1M117 148h1M77 149h1M83 149h1M89 149h1M90 149h1M92 149h1M93 149h1M94 149h1M96 149h1M97 149h1M98 149h1M99 149h1M100 149h1M101 149h1M102 149h1M103 149h1M104 149h1M105 149h1M106 149h1M107 149h1M108 149h1M109 149h1M110 149h1M111 149h1M113 149h1M117 149h1M118 149h1M119 149h1M122 149h1M123 149h1M124 149h1M137 149h1M72 150h1M82 150h1M85 150h1M87 150h1M89 150h1M90 150h1M91 150h1M92 150h1M93 150h1M94 150h1M95 150h1M96 150h1M98 150h1M99 150h1M100 150h1M101 150h1M102 150h1M103 150h1M104 150h1M105 150h1M106 150h1M107 150h1M109 150h1M110 150h1M111 150h1M112 150h1M113 150h1M115 150h1M116 150h1M117 150h1M123 150h1M76 151h1M85 151h1M93 151h1M94 151h1M96 151h1M97 151h1M98 151h1M99 151h1M100 151h1M101 151h1M102 151h1M103 151h1M104 151h1M105 151h1M106 151h1M107 151h1M108 151h1M111 151h1M112 151h1M113 151h1M115 151h1M116 151h1M118 151h1M119 151h1M122 151h1M124 151h1M79 152h1M83 152h1M84 152h1M87 152h1M88 152h1M90 152h1M91 152h1M92 152h1M93 152h1M94 152h1M95 152h1M96 152h1M98 152h1M99 152h1M100 152h1M101 152h1M102 152h1M103 152h1M104 152h1M105 152h1M106 152h1M107 152h1M108 152h1M110 152h1M111 152h1M112 152h1M113 152h1M114 152h1M115 152h1M116 152h1M117 152h1M118 152h1M120 152h1M121 152h1M82 153h1M83 153h1M89 153h1M90 153h1M93 153h1M94 153h1M95 153h1M96 153h1M98 153h1M100 153h1M101 153h1M102 153h1M104 153h1M105 153h1M106 153h1M107 153h1M109 153h1M110 153h1M111 153h1M112 153h1M114 153h1M115 153h1M116 153h1M117 153h1M119 153h1M120 153h1M78 154h1M81 154h1M82 154h1M86 154h1M87 154h1M89 154h1M90 154h1M92 154h1M94 154h1M95 154h1M96 154h1M97 154h1M98 154h1M99 154h1M102 154h1M105 154h1M106 154h1M107 154h1M108 154h1M109 154h1M110 154h1M113 154h1M114 154h1M81 155h1M85 155h1M90 155h1M92 155h1M93 155h1M96 155h1M97 155h1M99 155h1M100 155h1M101 155h1M102 155h1M103 155h1M104 155h1M106 155h1M107 155h1M108 155h1M111 155h1M112 155h1M113 155h1M114 155h1M118 155h1M119 155h1M123 155h1M81 156h1M94 156h1M95 156h1M96 156h1M97 156h1M99 156h1M101 156h1M102 156h1M103 156h1M105 156h1M107 156h1M109 156h1M111 156h1M115 156h1M123 156h1M133 156h1M62 157h1M87 157h1M91 157h1M93 157h1M95 157h1M96 157h1M97 157h1M98 157h1M104 157h1M105 157h1M108 157h1M109 157h1M110 157h1M113 157h1M117 157h1M120 157h1M123 157h1M82 158h1M87 158h1M91 158h1M93 158h1M95 158h1M97 158h1M98 158h1M99 158h1M100 158h1M102 158h1M103 158h1M106 158h1M107 158h1M109 158h1M112 158h1M90 159h1M94 159h1M97 159h1M98 159h1M102 159h1M110 159h1M114 159h1M120 159h1M121 159h1M81 160h1M95 160h1M96 160h1M98 160h1M102 160h1M105 160h1M110 160h1M111 160h1M112 160h1M77 161h1M85 161h1M90 161h1M94 161h1M95 161h1M100 161h1M102 161h1M105 161h1M104 162h1M113 162h1M117 162h1M90 163h1" stroke="#111" stroke-opacity="0.78" stroke-width="1"/></g>
<path d="M35.5 46.5H164.5V166.5" fill="none" stroke="#6a6a6a" stroke-width="1"/>
<path d="M35.5 46.5V166.5H164.5" fill="none" stroke="#555" stroke-width="1"/>
<path d="M67.00 46.50L67.00 168.50" stroke="#333" stroke-width="1.3"/>
<path d="M35.50 137.50L164.50 137.50" stroke="#1a1a1a" stroke-width="1.2"/>
<text x="36.20" y="52.00" font-size="5.6" fill="#333" class="n">N1</text>
<text x="67.80" y="52.00" font-size="5.6" fill="#333" class="n">N2</text>
<text x="36.20" y="143.30" font-size="5.6" fill="#333" class="n">N3</text>
<text x="67.80" y="143.30" font-size="5.6" fill="#333" class="n">N4</text>
<text class="n" x="64.70" y="176.50" font-size="4.6" fill="#444">10<tspan font-size="3" dy="-1.8">1</tspan></text>
<text class="n" x="23.40" y="138.07" font-size="4.6" fill="#444">10<tspan font-size="3" dy="-1.8">1</tspan></text>
<text class="n" x="97.00" y="176.50" font-size="4.6" fill="#444">10<tspan font-size="3" dy="-1.8">2</tspan></text>
<text class="n" x="23.40" y="107.95" font-size="4.6" fill="#444">10<tspan font-size="3" dy="-1.8">2</tspan></text>
<text class="n" x="129.30" y="176.50" font-size="4.6" fill="#444">10<tspan font-size="3" dy="-1.8">3</tspan></text>
<text class="n" x="23.40" y="77.83" font-size="4.6" fill="#444">10<tspan font-size="3" dy="-1.8">3</tspan></text>
<text class="n" x="161.60" y="176.50" font-size="4.6" fill="#444">10<tspan font-size="3" dy="-1.8">4</tspan></text>
<text class="n" x="23.40" y="47.70" font-size="4.6" fill="#444">10<tspan font-size="3" dy="-1.8">4</tspan></text>
<text x="43.20" y="30.30" font-size="10.3">AMD3100-mobilized cells</text>
<text transform="translate(11.40,103.30) rotate(-90)" font-size="10.4" text-anchor="middle">CXCR4 (FL4)</text>
<text x="69.00" y="199.00" font-size="10.4">CD34 (FL2)</text>
<text x="139.70" y="60.00" font-size="10.1">59%</text>
<text x="140.00" y="152.50" font-size="10.1">41%</text>
<path d="M212.30 168.20v5M212.30 168.20h-5M222.17 168.20v3M212.30 159.00h-3M227.95 168.20v3M212.30 153.62h-3M232.05 168.20v3M212.30 149.81h-3M235.23 168.20v3M212.30 146.85h-3M237.82 168.20v3M212.30 144.43h-3M240.02 168.20v3M212.30 142.38h-3M241.92 168.20v3M212.30 140.61h-3M243.60 168.20v3M212.30 139.05h-3M245.10 168.20v5M212.30 137.65h-5M254.97 168.20v3M212.30 128.45h-3M260.75 168.20v3M212.30 123.07h-3M264.85 168.20v3M212.30 119.26h-3M268.03 168.20v3M212.30 116.30h-3M270.62 168.20v3M212.30 113.88h-3M272.82 168.20v3M212.30 111.83h-3M274.72 168.20v3M212.30 110.06h-3M276.40 168.20v3M212.30 108.50h-3M277.90 168.20v5M212.30 107.10h-5M287.77 168.20v3M212.30 97.90h-3M293.55 168.20v3M212.30 92.52h-3M297.65 168.20v3M212.30 88.71h-3M300.83 168.20v3M212.30 85.75h-3M303.42 168.20v3M212.30 83.33h-3M305.62 168.20v3M212.30 81.28h-3M307.52 168.20v3M212.30 79.51h-3M309.20 168.20v3M212.30 77.95h-3M310.70 168.20v5M212.30 76.55h-5M320.57 168.20v3M212.30 67.35h-3M326.35 168.20v3M212.30 61.97h-3M330.45 168.20v3M212.30 58.16h-3M333.63 168.20v3M212.30 55.20h-3M336.22 168.20v3M212.30 52.78h-3M338.42 168.20v3M212.30 50.73h-3M340.32 168.20v3M212.30 48.96h-3M342.00 168.20v3M212.30 47.40h-3M343.50 168.20v5M212.30 46.00h-5" stroke="#666" stroke-width="0.75"/>
<g shape-rendering="crispEdges" transform="translate(0,0.5)" ><path d="M281 138h1M279 139h1M276 140h1M282 140h1M269 142h1M273 142h1M279 142h1M280 142h1M284 142h1M288 142h1M295 142h1M277 143h1M287 143h1M291 143h1M292 143h1M270 144h1M275 144h1M277 144h1M283 144h1M287 144h1M290 144h1M296 144h1M271 145h1M273 145h1M275 145h1M278 145h1M279 145h1M282 145h1M284 145h1M285 145h1M287 145h1M288 145h1M291 145h1M295 145h1M270 146h1M272 146h1M274 146h1M275 146h1M279 146h1M280 146h1M282 146h1M286 146h1M290 146h1M291 146h1M298 146h1M264 147h1M269 147h1M270 147h1M271 147h1M275 147h1M276 147h1M277 147h1M278 147h1M279 147h1M281 147h1M282 147h1M284 147h1M285 147h1M286 147h1M287 147h1M290 147h1M291 147h1M297 147h1M301 147h1M264 148h1M265 148h1M270 148h1M271 148h1M272 148h1M274 148h1M275 148h1M276 148h1M278 148h1M279 148h1M283 148h1M284 148h1M285 148h1M286 148h1M287 148h1M288 148h1M290 148h1M291 148h1M292 148h1M293 148h1M296 148h1M297 148h1M268 149h1M271 149h1M272 149h1M273 149h1M274 149h1M275 149h1M276 149h1M277 149h1M278 149h1M279 149h1M280 149h1M282 149h1M283 149h1M284 149h1M285 149h1M286 149h1M287 149h1M288 149h1M290 149h1M291 149h1M292 149h1M294 149h1M296 149h1M298 149h1M300 149h1M265 150h1M270 150h1M272 150h1M274 150h1M275 150h1M276 150h1M277 150h1M278 150h1M279 150h1M280 150h1M281 150h1M282 150h1M283 150h1M284 150h1M285 150h1M286 150h1M287 150h1M288 150h1M289 150h1M290 150h1M292 150h1M293 150h1M296 150h1M263 151h1M265 151h1M268 151h1M273 151h1M274 151h1M275 151h1M276 151h1M277 151h1M278 151h1M279 151h1M280 151h1M281 151h1M282 151h1M286 151h1M287 151h1M288 151h1M289 151h1M292 151h1M293 151h1M295 151h1M296 151h1M300 151h1M252 152h1M268 152h1M270 152h1M271 152h1M272 152h1M274 152h1M276 152h1M277 152h1M279 152h1M280 152h1M283 152h1M284 152h1M285 152h1M287 152h1M288 152h1M289 152h1M290 152h1M291 152h1M292 152h1M293 152h1M295 152h1M296 152h1M297 152h1M298 152h1M299 152h1M300 152h1M261 153h1M268 153h1M270 153h1M271 153h1M274 153h1M275 153h1M276 153h1M277 153h1M278 153h1M280 153h1M282 153h1M283 153h1M284 153h1M285 153h1M286 153h1M287 153h1M288 153h1M289 153h1M291 153h1M292 153h1M293 153h1M294 153h1M296 153h1M299 153h1M268 154h1M271 154h1M274 154h1M275 154h1M277 154h1M278 154h1M279 154h1M280 154h1M281 154h1M282 154h1M283 154h1M284 154h1M286 154h1M288 154h1M289 154h1M290 154h1M292 154h1M293 154h1M294 154h1M297 154h1M265 155h1M269 155h1M270 155h1M274 155h1M276 155h1M277 155h1M278 155h1M279 155h1M281 155h1M282 155h1M283 155h1M284 155h1M287 155h1M288 155h1M289 155h1M290 155h1M291 155h1M294 155h1M295 155h1M298 155h1M272 156h1M275 156h1M276 156h1M277 156h1M278 156h1M280 156h1M281 156h1M282 156h1M283 156h1M285 156h1M286 156h1M287 156h1M290 156h1M291 156h1M294 156h1M295 156h1M296 156h1M297 156h1M272 157h1M275 157h1M279 157h1M280 157h1M283 157h1M286 157h1M287 157h1M288 157h1M289 157h1M270 158h1M272 158h1M273 158h1M274 158h1M275 158h1M276 158h1M277 158h1M279 158h1M280 158h1M281 158h1M282 158h1M283 158h1M286 158h1M288 158h1M274 159h1M275 159h1M276 159h1M278 159h1M280 159h1M281 159h1M283 159h1M284 159h1M285 159h1M286 159h1M290 159h1M292 159h1M293 159h1M296 159h1M302 159h1M265 160h1M268 160h1M278 160h1M282 160h1M283 160h1M284 160h1M298 160h1M303 160h1M273 161h1M281 161h1M283 161h1M291 161h1M297 162h1M273 163h1M290 163h1" stroke="#111" stroke-opacity="0.78" stroke-width="1"/><path d="M283 137h1M296 140h1M302 140h1M274 141h1M277 141h1M269 142h1M280 142h1M286 142h1M289 142h1M295 142h1M276 143h1M279 143h1M282 143h1M283 143h1M292 143h1M267 144h1M280 144h1M281 144h1M286 144h1M267 145h1M268 145h1M271 145h1M281 145h1M282 145h1M283 145h1M284 145h1M287 145h1M288 145h1M289 145h1M291 145h1M292 145h1M293 145h1M268 146h1M273 146h1M274 146h1M275 146h1M277 146h1M278 146h1M279 146h1M280 146h1M282 146h1M283 146h1M285 146h1M286 146h1M291 146h1M294 146h1M299 146h1M260 147h1M266 147h1M268 147h1M269 147h1M283 147h1M284 147h1M285 147h1M288 147h1M290 147h1M294 147h1M296 147h1M300 147h1M263 148h1M267 148h1M273 148h1M277 148h1M279 148h1M281 148h1M282 148h1M283 148h1M285 148h1M286 148h1M287 148h1M288 148h1M289 148h1M290 148h1M291 148h1M292 148h1M294 148h1M258 149h1M263 149h1M271 149h1M272 149h1M273 149h1M274 149h1M276 149h1M277 149h1M278 149h1M280 149h1M283 149h1M285 149h1M286 149h1M289 149h1M290 149h1M291 149h1M292 149h1M293 149h1M296 149h1M264 150h1M268 150h1M272 150h1M273 150h1M275 150h1M278 150h1M279 150h1M281 150h1M282 150h1M283 150h1M285 150h1M286 150h1M287 150h1M288 150h1M289 150h1M290 150h1M291 150h1M292 150h1M293 150h1M294 150h1M297 150h1M270 151h1M274 151h1M276 151h1M279 151h1M280 151h1M281 151h1M282 151h1M283 151h1M284 151h1M285 151h1M287 151h1M288 151h1M289 151h1M290 151h1M292 151h1M294 151h1M295 151h1M296 151h1M301 151h1M302 151h1M264 152h1M269 152h1M271 152h1M272 152h1M273 152h1M275 152h1M276 152h1M277 152h1M278 152h1M279 152h1M280 152h1M281 152h1M282 152h1M283 152h1M284 152h1M285 152h1M286 152h1M287 152h1M288 152h1M289 152h1M290 152h1M291 152h1M292 152h1M294 152h1M296 152h1M298 152h1M257 153h1M269 153h1M272 153h1M273 153h1M275 153h1M276 153h1M277 153h1M278 153h1M279 153h1M280 153h1M282 153h1M283 153h1M285 153h1M286 153h1M287 153h1M288 153h1M289 153h1M290 153h1M291 153h1M293 153h1M294 153h1M295 153h1M297 153h1M299 153h1M266 154h1M270 154h1M274 154h1M275 154h1M276 154h1M277 154h1M278 154h1M279 154h1M280 154h1M281 154h1M282 154h1M283 154h1M285 154h1M288 154h1M289 154h1M291 154h1M292 154h1M293 154h1M294 154h1M307 154h1M308 154h1M269 155h1M272 155h1M273 155h1M275 155h1M276 155h1M278 155h1M279 155h1M281 155h1M282 155h1M283 155h1M284 155h1M285 155h1M286 155h1M287 155h1M288 155h1M289 155h1M290 155h1M292 155h1M298 155h1M274 156h1M275 156h1M276 156h1M279 156h1M280 156h1M281 156h1M282 156h1M283 156h1M284 156h1M285 156h1M286 156h1M287 156h1M288 156h1M289 156h1M293 156h1M294 156h1M297 156h1M273 157h1M274 157h1M276 157h1M277 157h1M278 157h1M279 157h1M280 157h1M281 157h1M282 157h1M283 157h1M286 157h1M289 157h1M290 157h1M291 157h1M293 157h1M295 157h1M299 157h1M301 157h1M272 158h1M274 158h1M280 158h1M283 158h1M284 158h1M285 158h1M288 158h1M290 158h1M292 158h1M298 158h1M299 158h1M264 159h1M265 159h1M266 159h1M269 159h1M275 159h1M278 159h1M280 159h1M281 159h1M285 159h1M287 159h1M293 159h1M266 160h1M282 160h1M287 160h1M271 161h1M275 161h1M276 161h1M280 161h1M282 161h1M283 161h1M293 161h1M294 161h1M278 162h1M282 162h1M268 163h1M273 163h1M302 163h1M283 164h1M286 165h1" stroke="#111" stroke-opacity="0.78" stroke-width="1"/><path d="M279 137h1M277 141h1M285 141h1M287 141h1M289 142h1M290 142h1M275 143h1M276 143h1M283 143h1M286 143h1M292 143h1M263 144h1M272 144h1M277 144h1M283 144h1M284 144h1M286 144h1M291 144h1M303 144h1M275 145h1M279 145h1M281 145h1M282 145h1M284 145h1M285 145h1M287 145h1M288 145h1M264 146h1M272 146h1M277 146h1M278 146h1M281 146h1M282 146h1M284 146h1M285 146h1M287 146h1M292 146h1M298 146h1M270 147h1M271 147h1M273 147h1M278 147h1M279 147h1M281 147h1M283 147h1M284 147h1M285 147h1M286 147h1M287 147h1M289 147h1M291 147h1M292 147h1M299 147h1M259 148h1M263 148h1M266 148h1M268 148h1M271 148h1M273 148h1M278 148h1M281 148h1M282 148h1M283 148h1M284 148h1M285 148h1M286 148h1M287 148h1M288 148h1M290 148h1M291 148h1M292 148h1M293 148h1M294 148h1M296 148h1M259 149h1M268 149h1M270 149h1M272 149h1M273 149h1M274 149h1M276 149h1M277 149h1M279 149h1M280 149h1M283 149h1M284 149h1M285 149h1M287 149h1M289 149h1M291 149h1M294 149h1M295 149h1M299 149h1M261 150h1M262 150h1M264 150h1M268 150h1M272 150h1M273 150h1M275 150h1M276 150h1M277 150h1M278 150h1M279 150h1M280 150h1M281 150h1M282 150h1M283 150h1M284 150h1M285 150h1M286 150h1M287 150h1M288 150h1M289 150h1M290 150h1M291 150h1M292 150h1M293 150h1M295 150h1M298 150h1M262 151h1M264 151h1M272 151h1M273 151h1M274 151h1M275 151h1M276 151h1M277 151h1M278 151h1M280 151h1M282 151h1M283 151h1M284 151h1M285 151h1M286 151h1M287 151h1M288 151h1M289 151h1M293 151h1M295 151h1M296 151h1M297 151h1M301 151h1M315 151h1M261 152h1M267 152h1M269 152h1M270 152h1M272 152h1M273 152h1M274 152h1M277 152h1M278 152h1M279 152h1M280 152h1M281 152h1M283 152h1M284 152h1M285 152h1M286 152h1M287 152h1M288 152h1M291 152h1M292 152h1M293 152h1M297 152h1M300 152h1M269 153h1M270 153h1M274 153h1M275 153h1M276 153h1M277 153h1M279 153h1M280 153h1M281 153h1M282 153h1M283 153h1M284 153h1M286 153h1M287 153h1M288 153h1M289 153h1M290 153h1M291 153h1M292 153h1M293 153h1M294 153h1M262 154h1M269 154h1M270 154h1M271 154h1M272 154h1M273 154h1M274 154h1M278 154h1M279 154h1M280 154h1M281 154h1M282 154h1M283 154h1M284 154h1M285 154h1M286 154h1M287 154h1M288 154h1M291 154h1M292 154h1M296 154h1M297 154h1M298 154h1M300 154h1M301 154h1M303 154h1M268 155h1M270 155h1M273 155h1M274 155h1M279 155h1M280 155h1M281 155h1M282 155h1M283 155h1M284 155h1M286 155h1M288 155h1M289 155h1M290 155h1M294 155h1M307 155h1M259 156h1M269 156h1M270 156h1M272 156h1M273 156h1M275 156h1M278 156h1M279 156h1M280 156h1M281 156h1M282 156h1M284 156h1M286 156h1M287 156h1M288 156h1M289 156h1M291 156h1M292 156h1M294 156h1M297 156h1M299 156h1M264 157h1M266 157h1M269 157h1M274 157h1M280 157h1M284 157h1M285 157h1M286 157h1M287 157h1M289 157h1M291 157h1M298 157h1M299 157h1M272 158h1M275 158h1M278 158h1M279 158h1M286 158h1M287 158h1M289 158h1M291 158h1M292 158h1M295 158h1M267 159h1M272 159h1M276 159h1M279 159h1M285 159h1M291 159h1M272 160h1M277 160h1M278 160h1M280 160h1M282 160h1M284 160h1M289 160h1M293 160h1M296 160h1M279 161h1M281 161h1M284 161h1M288 161h1M291 161h1M275 162h1M280 162h1M297 162h1M274 163h1M279 163h1M286 163h1M284 164h1" stroke="#111" stroke-opacity="0.78" stroke-width="1"/><path d="M262 139h1M258 141h1M261 141h1M267 141h1M270 142h1M263 143h1M265 143h1M251 144h1M260 144h1M266 144h1M255 145h1M257 145h1M262 145h1M263 145h1M265 145h1M268 145h1M255 146h1M257 146h1M258 146h1M265 146h1M270 146h1M279 146h1M249 147h1M258 147h1M264 147h1M274 147h1M278 147h1M256 148h1M257 148h1M263 148h1M267 148h1M270 148h1M273 148h1M276 148h1M258 149h1M259 149h1M260 149h1M262 149h1M264 149h1M267 149h1M270 149h1M273 149h1M244 150h1M250 150h1M253 150h1M257 150h1M265 150h1M269 150h1M270 150h1M271 150h1M272 150h1M244 151h1M250 151h1M252 151h1M256 151h1M258 151h1M261 151h1M262 151h1M267 151h1M273 151h1M251 152h1M253 152h1M256 152h1M258 152h1M259 152h1M260 152h1M264 152h1M267 152h1M268 152h1M269 152h1M270 152h1M272 152h1M273 152h1M274 152h1M251 153h1M252 153h1M256 153h1M260 153h1M261 153h1M262 153h1M266 153h1M267 153h1M269 153h1M273 153h1M284 153h1M253 154h1M260 154h1M265 154h1M266 154h1M267 154h1M270 154h1M273 154h1M255 155h1M257 155h1M259 155h1M260 155h1M266 155h1M270 155h1M272 155h1M273 155h1M274 155h1M253 156h1M254 156h1M257 156h1M260 156h1M263 156h1M265 156h1M266 156h1M269 156h1M276 156h1M250 157h1M257 157h1M261 157h1M263 157h1M266 157h1M276 157h1M281 157h1M257 158h1M258 158h1M260 158h1M270 158h1M274 158h1M278 158h1M253 159h1M260 159h1M269 159h1M270 159h1M247 160h1M259 160h1M261 160h1M262 160h1M264 160h1M267 160h1M269 160h1M269 161h1M272 161h1M256 162h1M257 162h1M258 162h1M266 162h1M252 164h1M265 164h1M268 164h1M254 166h1" stroke="#111" stroke-opacity="0.7" stroke-width="1"/><path d="M267 139h1M258 140h1M265 140h1M262 141h1M262 142h1M270 142h1M254 143h1M255 143h1M264 144h1M270 144h1M257 145h1M260 145h1M268 145h1M269 145h1M276 145h1M251 146h1M254 146h1M257 146h1M258 146h1M259 146h1M260 146h1M272 146h1M252 147h1M256 147h1M264 147h1M274 147h1M242 148h1M247 148h1M253 148h1M255 148h1M256 148h1M258 148h1M264 148h1M272 148h1M273 148h1M251 149h1M253 149h1M256 149h1M257 149h1M261 149h1M264 149h1M265 149h1M266 149h1M268 149h1M269 149h1M272 149h1M247 150h1M255 150h1M257 150h1M260 150h1M261 150h1M263 150h1M264 150h1M274 150h1M275 150h1M250 151h1M263 151h1M264 151h1M270 151h1M271 151h1M273 151h1M277 151h1M244 152h1M250 152h1M256 152h1M258 152h1M259 152h1M262 152h1M265 152h1M267 152h1M268 152h1M269 152h1M277 152h1M240 153h1M253 153h1M263 153h1M265 153h1M266 153h1M268 153h1M271 153h1M272 153h1M277 153h1M279 153h1M243 154h1M259 154h1M267 154h1M271 154h1M272 154h1M248 155h1M254 155h1M256 155h1M258 155h1M260 155h1M261 155h1M265 155h1M266 155h1M269 155h1M270 155h1M273 155h1M254 156h1M259 156h1M264 156h1M267 156h1M270 156h1M247 157h1M260 157h1M261 157h1M262 157h1M263 157h1M250 158h1M258 158h1M262 158h1M268 158h1M254 159h1M256 159h1M257 159h1M265 159h1M269 159h1M271 159h1M273 159h1M274 159h1M265 160h1M266 160h1M268 160h1M274 160h1M253 161h1M260 161h1M262 161h1M270 161h1M271 161h1M273 161h1M270 162h1M275 162h1M255 163h1M265 163h1M251 165h1M256 166h1" stroke="#111" stroke-opacity="0.7" stroke-width="1"/><path d="M277 138h1M259 139h1M272 140h1M259 141h1M263 141h1M267 141h1M246 142h1M260 142h1M258 143h1M263 143h1M265 143h1M268 143h1M255 145h1M256 145h1M258 145h1M264 145h1M265 145h1M252 146h1M253 146h1M254 146h1M261 146h1M269 146h1M273 146h1M275 146h1M255 147h1M260 147h1M261 147h1M267 147h1M268 147h1M271 147h1M288 147h1M256 148h1M259 148h1M262 148h1M263 148h1M265 148h1M267 148h1M269 148h1M275 148h1M246 149h1M250 149h1M253 149h1M259 149h1M262 149h1M281 149h1M243 150h1M248 150h1M251 150h1M252 150h1M253 150h1M255 150h1M256 150h1M257 150h1M260 150h1M263 150h1M266 150h1M268 150h1M270 150h1M275 150h1M277 150h1M258 151h1M259 151h1M260 151h1M261 151h1M262 151h1M263 151h1M267 151h1M269 151h1M271 151h1M277 151h1M236 152h1M247 152h1M251 152h1M254 152h1M255 152h1M256 152h1M263 152h1M264 152h1M266 152h1M267 152h1M270 152h1M272 152h1M254 153h1M257 153h1M258 153h1M259 153h1M272 153h1M253 154h1M258 154h1M259 154h1M262 154h1M264 154h1M267 154h1M268 154h1M272 154h1M246 155h1M250 155h1M255 155h1M257 155h1M259 155h1M260 155h1M261 155h1M264 155h1M266 155h1M269 155h1M272 155h1M275 155h1M257 156h1M258 156h1M259 156h1M260 156h1M267 156h1M269 156h1M270 156h1M274 156h1M277 156h1M282 156h1M254 157h1M255 157h1M267 157h1M272 157h1M275 157h1M259 158h1M266 158h1M259 159h1M264 159h1M269 159h1M244 160h1M249 160h1M251 160h1M265 160h1M266 160h1M259 161h1M265 161h1M262 162h1M274 163h1M277 163h1M279 163h1M265 164h1M268 164h1M263 165h1M263 166h1" stroke="#111" stroke-opacity="0.7" stroke-width="1"/><path d="M236 135h1M284 135h1M278 141h1M266 142h1M278 142h1M282 142h1M305 142h1M253 143h1M285 144h1M266 146h1M281 146h1M288 146h1M294 146h1M246 147h1M262 147h1M268 147h1M272 147h1M278 147h1M283 147h1M292 147h1M293 147h1M294 147h1M263 148h1M275 148h1M295 148h1M271 149h1M298 149h1M284 150h1M283 151h1M263 152h1M266 152h1M270 152h1M274 152h1M280 152h1M281 152h1M284 152h1M294 152h1M239 153h1M261 153h1M262 153h1M267 153h1M268 153h1M276 153h1M264 154h1M265 154h1M266 154h1M274 154h1M283 154h1M260 155h1M262 155h1M263 155h1M273 155h1M278 155h1M279 155h1M283 155h1M284 155h1M302 155h1M258 156h1M263 156h1M272 156h1M274 156h1M281 156h1M284 156h1M295 156h1M278 157h1M281 157h1M291 157h1M247 158h1M267 158h1M276 158h1M277 158h1M279 158h1M284 158h1M293 158h1M250 159h1M272 159h1M273 159h1M274 159h1M284 159h1M271 160h1M274 160h1M303 161h1M267 162h1M284 162h1M275 163h1M273 164h1M278 165h1" stroke="#111" stroke-opacity="0.6" stroke-width="1"/><path d="M289 140h1M283 141h1M269 142h1M270 142h1M264 143h1M269 144h1M278 144h1M276 145h1M285 145h1M265 146h1M272 147h1M276 147h1M282 147h1M293 147h1M274 148h1M278 148h1M282 148h1M287 148h1M270 149h1M284 149h1M298 149h1M266 150h1M273 150h1M283 150h1M286 150h1M290 150h1M295 150h1M257 151h1M259 151h1M260 151h1M267 151h1M273 151h1M275 151h1M281 151h1M287 151h1M293 151h1M263 152h1M264 152h1M271 152h1M276 152h1M278 152h1M283 152h1M285 152h1M290 152h1M259 153h1M266 153h1M267 153h1M272 153h1M274 153h1M277 153h1M290 153h1M316 153h1M265 154h1M271 154h1M274 154h1M277 154h1M279 154h1M286 154h1M287 154h1M294 154h1M243 155h1M272 155h1M284 155h1M292 155h1M299 155h1M250 156h1M257 156h1M269 156h1M273 156h1M276 156h1M279 156h1M280 156h1M281 156h1M282 156h1M283 156h1M293 156h1M272 157h1M290 157h1M280 158h1M285 158h1M294 158h1M253 159h1M261 159h1M284 159h1M287 159h1M298 159h1M271 160h1M278 160h1M282 160h1M285 160h1M303 160h1M304 160h1M285 162h1M289 162h1M294 162h1M285 163h1M268 164h1M286 164h1M296 165h1M263 166h1M267 166h1" stroke="#111" stroke-opacity="0.6" stroke-width="1"/><path d="M264 137h1M272 139h1M276 142h1M255 143h1M284 144h1M284 145h1M286 145h1M290 145h1M253 146h1M263 146h1M268 146h1M278 146h1M279 147h1M282 147h1M249 148h1M254 148h1M256 148h1M269 148h1M277 148h1M299 148h1M300 148h1M304 148h1M311 148h1M255 149h1M263 149h1M274 149h1M277 149h1M301 149h1M264 150h1M283 150h1M299 150h1M260 151h1M264 151h1M275 151h1M276 151h1M282 151h1M284 151h1M287 151h1M297 151h1M263 152h1M271 152h1M278 152h1M281 152h1M283 152h1M290 152h1M270 153h1M273 153h1M277 153h1M280 153h1M284 153h1M287 153h1M255 154h1M264 154h1M272 154h1M276 154h1M277 154h1M288 154h1M294 154h1M266 155h1M274 155h1M279 155h1M281 155h1M284 155h1M286 155h1M250 156h1M264 156h1M265 156h1M267 156h1M273 156h1M277 156h1M279 156h1M280 156h1M285 156h1M289 156h1M299 156h1M301 156h1M262 157h1M279 157h1M281 157h1M284 157h1M285 157h1M290 157h1M270 158h1M272 158h1M287 158h1M286 159h1M256 160h1M268 160h1M281 160h1M276 161h1M279 161h1M282 161h1M277 163h1M278 163h1M280 163h1M248 164h1M290 166h1" stroke="#111" stroke-opacity="0.6" stroke-width="1"/><path d="M254 107h1M263 110h1M238 111h1M273 111h1M259 112h1M257 113h1M257 114h1M263 115h1M269 115h1M227 116h1M247 118h1M255 118h1M275 118h1M276 118h1M294 118h1M263 119h1M264 119h1M275 119h1M245 120h1M233 121h1M248 121h1M260 121h1M259 123h1M263 123h1M275 123h1M286 124h1M252 125h1M261 125h1M269 125h1M270 125h1M235 126h1M268 126h1M277 126h1M238 127h1M258 127h1M272 127h1M284 127h1M260 129h1M252 130h1M255 130h1M287 130h1M256 131h1M257 131h1M266 131h1M282 131h1M267 132h1M244 133h1M250 133h1M246 134h1M258 134h1M259 136h1M270 136h1M255 138h1M271 138h1M268 141h1M262 142h1" stroke="#111" stroke-opacity="0.5" stroke-width="1"/><path d="M279 102h1M250 105h1M243 112h1M260 112h1M264 112h1M267 113h1M271 114h1M258 117h1M261 117h1M265 117h1M267 117h1M269 117h1M271 117h1M276 117h1M236 118h1M266 118h1M266 119h1M256 122h1M261 122h1M270 122h1M266 123h1M262 124h1M265 124h1M272 124h1M257 125h1M281 125h1M256 126h1M263 126h1M278 126h1M258 127h1M264 127h1M269 127h1M275 127h1M228 130h1M263 130h1M282 130h1M252 134h1M254 134h1M262 134h1M267 134h1M262 135h1M273 136h1M277 137h1M251 138h1M266 138h1M250 140h1M268 140h1M266 142h1M252 150h1" stroke="#111" stroke-opacity="0.5" stroke-width="1"/><path d="M252 104h1M261 106h1M275 109h1M259 113h1M284 113h1M281 115h1M285 115h1M290 115h1M245 116h1M252 116h1M260 116h1M259 118h1M265 118h1M272 118h1M244 119h1M257 119h1M266 119h1M251 120h1M261 120h1M272 120h1M261 121h1M262 121h1M251 122h1M258 122h1M259 122h1M249 123h1M264 123h1M265 123h1M269 123h1M282 123h1M241 124h1M236 125h1M263 125h1M265 125h1M253 126h1M265 126h1M268 126h1M276 126h1M278 126h1M259 127h1M261 127h1M262 127h1M260 128h1M268 128h1M241 129h1M263 129h1M281 129h1M258 131h1M279 131h1M262 132h1M283 132h1M259 133h1M272 133h1M258 134h1M270 134h1M273 134h1M250 135h1M259 135h1M265 135h1M274 135h1M240 136h1M257 139h1" stroke="#111" stroke-opacity="0.5" stroke-width="1"/></g>
<path d="M212.5 46.5H343.5V168.5" fill="none" stroke="#6a6a6a" stroke-width="1"/>
<path d="M212.5 46.5V168.5H343.5" fill="none" stroke="#555" stroke-width="1"/>
<path d="M244.40 46.50L244.40 170.50" stroke="#333" stroke-width="1.3"/>
<path d="M212.50 138.50L343.50 138.50" stroke="#1a1a1a" stroke-width="1.2"/>
<text x="213.10" y="52.00" font-size="5.6" fill="#333" class="n">N1</text>
<text x="245.20" y="52.00" font-size="5.6" fill="#333" class="n">N2</text>
<text x="213.10" y="144.80" font-size="5.6" fill="#333" class="n">N3</text>
<text x="245.20" y="144.80" font-size="5.6" fill="#333" class="n">N4</text>
<text class="n" x="242.10" y="178.20" font-size="4.6" fill="#444">10<tspan font-size="3" dy="-1.8">1</tspan></text>
<text class="n" x="200.30" y="139.35" font-size="4.6" fill="#444">10<tspan font-size="3" dy="-1.8">1</tspan></text>
<text class="n" x="274.90" y="178.20" font-size="4.6" fill="#444">10<tspan font-size="3" dy="-1.8">2</tspan></text>
<text class="n" x="200.30" y="108.80" font-size="4.6" fill="#444">10<tspan font-size="3" dy="-1.8">2</tspan></text>
<text class="n" x="307.70" y="178.20" font-size="4.6" fill="#444">10<tspan font-size="3" dy="-1.8">3</tspan></text>
<text class="n" x="200.30" y="78.25" font-size="4.6" fill="#444">10<tspan font-size="3" dy="-1.8">3</tspan></text>
<text class="n" x="340.50" y="178.20" font-size="4.6" fill="#444">10<tspan font-size="3" dy="-1.8">4</tspan></text>
<text class="n" x="200.30" y="47.70" font-size="4.6" fill="#444">10<tspan font-size="3" dy="-1.8">4</tspan></text>
<text x="225.90" y="30.30" font-size="10.3">G-CSF-mobilized cells</text>
<text transform="translate(187.10,103.30) rotate(-90)" font-size="10.4" text-anchor="middle">CXCR4 (FL4)</text>
<text x="250.30" y="199.00" font-size="10.4">CD34 (FL2)</text>
<text x="320.40" y="60.20" font-size="10.1">11%</text>
<text x="318.80" y="153.00" font-size="10.1">89%</text>
<path d="M385.70 169.30v5M385.70 169.30h-5M395.58 169.30v3M385.70 160.05h-3M401.36 169.30v3M385.70 154.64h-3M405.46 169.30v3M385.70 150.80h-3M408.64 169.30v3M385.70 147.82h-3M411.24 169.30v3M385.70 145.39h-3M413.44 169.30v3M385.70 143.33h-3M415.34 169.30v3M385.70 141.55h-3M417.02 169.30v3M385.70 139.98h-3M418.52 169.30v5M385.70 138.58h-5M428.41 169.30v3M385.70 129.33h-3M434.19 169.30v3M385.70 123.92h-3M438.29 169.30v3M385.70 120.08h-3M441.47 169.30v3M385.70 117.10h-3M444.07 169.30v3M385.70 114.67h-3M446.27 169.30v3M385.70 112.61h-3M448.17 169.30v3M385.70 110.83h-3M449.85 169.30v3M385.70 109.26h-3M451.35 169.30v5M385.70 107.85h-5M461.23 169.30v3M385.70 98.60h-3M467.01 169.30v3M385.70 93.19h-3M471.11 169.30v3M385.70 89.35h-3M474.29 169.30v3M385.70 86.37h-3M476.89 169.30v3M385.70 83.94h-3M479.09 169.30v3M385.70 81.88h-3M480.99 169.30v3M385.70 80.10h-3M482.67 169.30v3M385.70 78.53h-3M484.18 169.30v5M385.70 77.12h-5M494.06 169.30v3M385.70 67.88h-3M499.84 169.30v3M385.70 62.47h-3M503.94 169.30v3M385.70 58.63h-3M507.12 169.30v3M385.70 55.65h-3M509.72 169.30v3M385.70 53.22h-3M511.92 169.30v3M385.70 51.16h-3M513.82 169.30v3M385.70 49.38h-3M515.50 169.30v3M385.70 47.81h-3M517.00 169.30v5M385.70 46.40h-5" stroke="#666" stroke-width="0.75"/>
<g shape-rendering="crispEdges" transform="translate(0,0.5)" ><path d="M435 141h1M454 141h1M456 141h1M474 141h1M445 142h1M452 142h1M467 142h1M442 143h1M444 143h1M446 143h1M450 143h1M451 143h1M452 143h1M460 143h1M428 144h1M436 144h1M438 144h1M443 144h1M445 144h1M446 144h1M447 144h1M452 144h1M454 144h1M435 145h1M436 145h1M440 145h1M441 145h1M442 145h1M443 145h1M444 145h1M447 145h1M448 145h1M455 145h1M430 146h1M432 146h1M433 146h1M435 146h1M437 146h1M439 146h1M442 146h1M443 146h1M444 146h1M445 146h1M446 146h1M447 146h1M449 146h1M450 146h1M451 146h1M453 146h1M454 146h1M455 146h1M426 147h1M428 147h1M431 147h1M433 147h1M435 147h1M437 147h1M438 147h1M439 147h1M442 147h1M443 147h1M444 147h1M445 147h1M446 147h1M449 147h1M452 147h1M453 147h1M454 147h1M457 147h1M458 147h1M459 147h1M461 147h1M465 147h1M466 147h1M471 147h1M428 148h1M430 148h1M432 148h1M433 148h1M434 148h1M437 148h1M438 148h1M440 148h1M442 148h1M444 148h1M448 148h1M449 148h1M450 148h1M451 148h1M452 148h1M453 148h1M454 148h1M455 148h1M456 148h1M457 148h1M458 148h1M459 148h1M460 148h1M463 148h1M465 148h1M470 148h1M422 149h1M427 149h1M429 149h1M431 149h1M433 149h1M434 149h1M435 149h1M436 149h1M437 149h1M438 149h1M439 149h1M440 149h1M441 149h1M442 149h1M443 149h1M444 149h1M446 149h1M447 149h1M448 149h1M449 149h1M451 149h1M452 149h1M453 149h1M454 149h1M459 149h1M460 149h1M462 149h1M464 149h1M466 149h1M468 149h1M469 149h1M425 150h1M428 150h1M430 150h1M431 150h1M432 150h1M435 150h1M436 150h1M438 150h1M439 150h1M440 150h1M441 150h1M442 150h1M443 150h1M444 150h1M445 150h1M446 150h1M447 150h1M448 150h1M449 150h1M450 150h1M451 150h1M453 150h1M454 150h1M455 150h1M456 150h1M457 150h1M459 150h1M461 150h1M462 150h1M464 150h1M466 150h1M467 150h1M471 150h1M472 150h1M479 150h1M430 151h1M432 151h1M433 151h1M435 151h1M436 151h1M437 151h1M438 151h1M440 151h1M441 151h1M442 151h1M443 151h1M444 151h1M446 151h1M447 151h1M448 151h1M449 151h1M450 151h1M451 151h1M452 151h1M454 151h1M455 151h1M456 151h1M457 151h1M458 151h1M460 151h1M464 151h1M466 151h1M468 151h1M480 151h1M421 152h1M422 152h1M426 152h1M427 152h1M428 152h1M429 152h1M430 152h1M431 152h1M432 152h1M433 152h1M435 152h1M436 152h1M437 152h1M438 152h1M439 152h1M440 152h1M441 152h1M442 152h1M444 152h1M445 152h1M446 152h1M447 152h1M448 152h1M449 152h1M450 152h1M451 152h1M452 152h1M453 152h1M454 152h1M455 152h1M456 152h1M457 152h1M458 152h1M459 152h1M460 152h1M461 152h1M463 152h1M464 152h1M465 152h1M466 152h1M467 152h1M471 152h1M472 152h1M423 153h1M426 153h1M429 153h1M431 153h1M432 153h1M435 153h1M436 153h1M437 153h1M438 153h1M439 153h1M440 153h1M441 153h1M442 153h1M443 153h1M444 153h1M445 153h1M446 153h1M447 153h1M448 153h1M449 153h1M450 153h1M451 153h1M452 153h1M453 153h1M454 153h1M455 153h1M458 153h1M460 153h1M461 153h1M464 153h1M468 153h1M469 153h1M470 153h1M478 153h1M424 154h1M427 154h1M428 154h1M429 154h1M431 154h1M434 154h1M435 154h1M436 154h1M437 154h1M438 154h1M439 154h1M440 154h1M441 154h1M442 154h1M443 154h1M444 154h1M445 154h1M446 154h1M447 154h1M448 154h1M449 154h1M450 154h1M451 154h1M452 154h1M453 154h1M454 154h1M455 154h1M456 154h1M457 154h1M461 154h1M462 154h1M463 154h1M469 154h1M470 154h1M471 154h1M474 154h1M419 155h1M421 155h1M426 155h1M428 155h1M429 155h1M430 155h1M431 155h1M432 155h1M433 155h1M434 155h1M435 155h1M436 155h1M437 155h1M438 155h1M439 155h1M440 155h1M441 155h1M442 155h1M443 155h1M444 155h1M445 155h1M446 155h1M447 155h1M448 155h1M449 155h1M450 155h1M451 155h1M452 155h1M453 155h1M454 155h1M455 155h1M456 155h1M457 155h1M458 155h1M461 155h1M462 155h1M464 155h1M465 155h1M466 155h1M472 155h1M426 156h1M427 156h1M430 156h1M431 156h1M433 156h1M435 156h1M437 156h1M438 156h1M439 156h1M440 156h1M441 156h1M442 156h1M443 156h1M444 156h1M445 156h1M446 156h1M447 156h1M448 156h1M449 156h1M450 156h1M452 156h1M453 156h1M454 156h1M455 156h1M458 156h1M459 156h1M460 156h1M461 156h1M463 156h1M465 156h1M467 156h1M470 156h1M477 156h1M426 157h1M429 157h1M433 157h1M435 157h1M437 157h1M438 157h1M440 157h1M442 157h1M443 157h1M444 157h1M445 157h1M446 157h1M447 157h1M448 157h1M449 157h1M450 157h1M451 157h1M452 157h1M454 157h1M457 157h1M461 157h1M462 157h1M463 157h1M465 157h1M471 157h1M474 157h1M425 158h1M429 158h1M430 158h1M432 158h1M433 158h1M434 158h1M435 158h1M436 158h1M437 158h1M438 158h1M439 158h1M441 158h1M442 158h1M443 158h1M445 158h1M446 158h1M448 158h1M449 158h1M450 158h1M451 158h1M452 158h1M453 158h1M457 158h1M458 158h1M459 158h1M463 158h1M465 158h1M466 158h1M467 158h1M469 158h1M470 158h1M472 158h1M474 158h1M423 159h1M431 159h1M432 159h1M434 159h1M436 159h1M438 159h1M439 159h1M440 159h1M441 159h1M442 159h1M444 159h1M445 159h1M446 159h1M448 159h1M449 159h1M450 159h1M451 159h1M452 159h1M455 159h1M456 159h1M459 159h1M460 159h1M461 159h1M462 159h1M466 159h1M467 159h1M426 160h1M435 160h1M438 160h1M439 160h1M440 160h1M441 160h1M442 160h1M444 160h1M445 160h1M446 160h1M448 160h1M449 160h1M451 160h1M453 160h1M455 160h1M456 160h1M457 160h1M458 160h1M462 160h1M464 160h1M467 160h1M468 160h1M431 161h1M436 161h1M438 161h1M441 161h1M446 161h1M452 161h1M454 161h1M456 161h1M458 161h1M459 161h1M460 161h1M463 161h1M466 161h1M469 161h1M479 161h1M436 162h1M437 162h1M439 162h1M440 162h1M445 162h1M447 162h1M448 162h1M449 162h1M450 162h1M451 162h1M459 162h1M461 162h1M465 162h1M429 163h1M436 163h1M441 163h1M446 163h1M447 163h1M449 163h1M466 163h1M480 163h1M441 164h1M445 164h1M448 164h1M450 164h1M456 164h1M458 164h1M467 164h1M443 165h1M446 165h1M455 165h1M459 165h1M463 165h1M457 166h1M463 166h1M439 167h1M461 167h1M445 168h1M456 168h1" stroke="#111" stroke-opacity="0.78" stroke-width="1"/><path d="M451 140h1M454 140h1M446 141h1M455 141h1M443 142h1M449 142h1M453 142h1M461 142h1M436 143h1M441 143h1M449 143h1M450 143h1M451 143h1M453 143h1M456 143h1M423 144h1M424 144h1M426 144h1M430 144h1M433 144h1M434 144h1M435 144h1M439 144h1M440 144h1M441 144h1M446 144h1M451 144h1M466 144h1M424 145h1M425 145h1M433 145h1M437 145h1M438 145h1M443 145h1M446 145h1M447 145h1M448 145h1M449 145h1M451 145h1M452 145h1M458 145h1M470 145h1M421 146h1M430 146h1M431 146h1M435 146h1M436 146h1M437 146h1M441 146h1M443 146h1M444 146h1M445 146h1M446 146h1M447 146h1M448 146h1M449 146h1M450 146h1M451 146h1M452 146h1M453 146h1M457 146h1M458 146h1M460 146h1M462 146h1M471 146h1M421 147h1M427 147h1M432 147h1M433 147h1M435 147h1M436 147h1M438 147h1M442 147h1M443 147h1M445 147h1M451 147h1M455 147h1M460 147h1M422 148h1M423 148h1M429 148h1M431 148h1M432 148h1M433 148h1M434 148h1M435 148h1M436 148h1M437 148h1M439 148h1M440 148h1M441 148h1M442 148h1M443 148h1M444 148h1M445 148h1M446 148h1M448 148h1M449 148h1M450 148h1M453 148h1M457 148h1M460 148h1M461 148h1M463 148h1M464 148h1M466 148h1M424 149h1M429 149h1M430 149h1M431 149h1M432 149h1M435 149h1M436 149h1M437 149h1M438 149h1M440 149h1M441 149h1M443 149h1M444 149h1M446 149h1M447 149h1M448 149h1M449 149h1M451 149h1M452 149h1M453 149h1M454 149h1M455 149h1M456 149h1M457 149h1M458 149h1M460 149h1M462 149h1M464 149h1M465 149h1M468 149h1M472 149h1M426 150h1M427 150h1M431 150h1M433 150h1M434 150h1M435 150h1M437 150h1M438 150h1M439 150h1M440 150h1M441 150h1M442 150h1M443 150h1M444 150h1M445 150h1M446 150h1M447 150h1M448 150h1M449 150h1M450 150h1M451 150h1M452 150h1M453 150h1M455 150h1M456 150h1M458 150h1M459 150h1M466 150h1M469 150h1M470 150h1M471 150h1M428 151h1M431 151h1M432 151h1M434 151h1M437 151h1M438 151h1M439 151h1M440 151h1M441 151h1M442 151h1M443 151h1M444 151h1M445 151h1M446 151h1M447 151h1M448 151h1M449 151h1M450 151h1M452 151h1M453 151h1M454 151h1M455 151h1M456 151h1M459 151h1M461 151h1M462 151h1M463 151h1M464 151h1M465 151h1M466 151h1M476 151h1M431 152h1M432 152h1M433 152h1M434 152h1M435 152h1M436 152h1M437 152h1M438 152h1M439 152h1M440 152h1M441 152h1M442 152h1M443 152h1M444 152h1M445 152h1M446 152h1M447 152h1M449 152h1M451 152h1M452 152h1M453 152h1M454 152h1M455 152h1M456 152h1M457 152h1M458 152h1M459 152h1M461 152h1M465 152h1M466 152h1M424 153h1M427 153h1M431 153h1M432 153h1M433 153h1M434 153h1M435 153h1M436 153h1M437 153h1M439 153h1M440 153h1M441 153h1M442 153h1M443 153h1M444 153h1M445 153h1M446 153h1M447 153h1M448 153h1M449 153h1M450 153h1M451 153h1M452 153h1M454 153h1M455 153h1M456 153h1M458 153h1M459 153h1M460 153h1M463 153h1M464 153h1M466 153h1M471 153h1M476 153h1M489 153h1M424 154h1M426 154h1M428 154h1M429 154h1M430 154h1M432 154h1M434 154h1M435 154h1M436 154h1M437 154h1M438 154h1M439 154h1M440 154h1M441 154h1M442 154h1M443 154h1M445 154h1M446 154h1M447 154h1M448 154h1M449 154h1M450 154h1M451 154h1M452 154h1M453 154h1M454 154h1M455 154h1M456 154h1M457 154h1M459 154h1M460 154h1M461 154h1M462 154h1M463 154h1M465 154h1M470 154h1M471 154h1M474 154h1M420 155h1M421 155h1M427 155h1M429 155h1M430 155h1M431 155h1M433 155h1M434 155h1M435 155h1M436 155h1M437 155h1M438 155h1M439 155h1M440 155h1M441 155h1M442 155h1M443 155h1M444 155h1M445 155h1M446 155h1M447 155h1M448 155h1M449 155h1M450 155h1M451 155h1M452 155h1M453 155h1M454 155h1M456 155h1M457 155h1M458 155h1M459 155h1M460 155h1M461 155h1M475 155h1M425 156h1M429 156h1M430 156h1M432 156h1M433 156h1M434 156h1M435 156h1M436 156h1M437 156h1M439 156h1M440 156h1M441 156h1M442 156h1M444 156h1M445 156h1M446 156h1M447 156h1M448 156h1M449 156h1M450 156h1M451 156h1M452 156h1M453 156h1M454 156h1M455 156h1M456 156h1M457 156h1M458 156h1M459 156h1M460 156h1M461 156h1M462 156h1M466 156h1M474 156h1M475 156h1M428 157h1M429 157h1M430 157h1M431 157h1M432 157h1M433 157h1M434 157h1M435 157h1M436 157h1M437 157h1M440 157h1M441 157h1M442 157h1M444 157h1M445 157h1M446 157h1M447 157h1M448 157h1M449 157h1M450 157h1M451 157h1M452 157h1M454 157h1M455 157h1M456 157h1M457 157h1M458 157h1M459 157h1M461 157h1M467 157h1M470 157h1M478 157h1M427 158h1M428 158h1M429 158h1M430 158h1M433 158h1M434 158h1M437 158h1M438 158h1M439 158h1M440 158h1M442 158h1M443 158h1M444 158h1M445 158h1M446 158h1M447 158h1M448 158h1M449 158h1M450 158h1M452 158h1M453 158h1M454 158h1M456 158h1M457 158h1M458 158h1M459 158h1M460 158h1M462 158h1M463 158h1M464 158h1M465 158h1M466 158h1M467 158h1M470 158h1M471 158h1M472 158h1M427 159h1M430 159h1M438 159h1M440 159h1M442 159h1M443 159h1M445 159h1M446 159h1M448 159h1M449 159h1M450 159h1M452 159h1M453 159h1M455 159h1M456 159h1M458 159h1M464 159h1M465 159h1M421 160h1M425 160h1M428 160h1M431 160h1M433 160h1M436 160h1M437 160h1M438 160h1M439 160h1M442 160h1M444 160h1M445 160h1M447 160h1M450 160h1M454 160h1M455 160h1M472 160h1M430 161h1M433 161h1M435 161h1M442 161h1M444 161h1M446 161h1M447 161h1M448 161h1M449 161h1M450 161h1M451 161h1M452 161h1M453 161h1M455 161h1M456 161h1M458 161h1M461 161h1M471 161h1M472 161h1M437 162h1M441 162h1M442 162h1M443 162h1M444 162h1M446 162h1M449 162h1M457 162h1M458 162h1M459 162h1M460 162h1M463 162h1M466 162h1M467 162h1M469 162h1M473 162h1M430 163h1M433 163h1M435 163h1M436 163h1M437 163h1M438 163h1M441 163h1M444 163h1M448 163h1M452 163h1M454 163h1M460 163h1M434 164h1M447 164h1M451 164h1M457 164h1M469 164h1M444 166h1M460 167h1" stroke="#111" stroke-opacity="0.78" stroke-width="1"/><path d="M447 137h1M457 138h1M436 141h1M439 141h1M448 141h1M434 142h1M448 142h1M450 142h1M451 142h1M431 143h1M434 143h1M441 143h1M442 143h1M443 143h1M448 143h1M457 143h1M429 144h1M434 144h1M440 144h1M444 144h1M446 144h1M447 144h1M448 144h1M449 144h1M451 144h1M453 144h1M454 144h1M429 145h1M430 145h1M432 145h1M435 145h1M436 145h1M439 145h1M442 145h1M444 145h1M445 145h1M446 145h1M447 145h1M449 145h1M450 145h1M451 145h1M456 145h1M459 145h1M461 145h1M469 145h1M423 146h1M428 146h1M429 146h1M430 146h1M432 146h1M433 146h1M436 146h1M439 146h1M441 146h1M442 146h1M443 146h1M444 146h1M446 146h1M449 146h1M452 146h1M455 146h1M456 146h1M457 146h1M461 146h1M465 146h1M467 146h1M436 147h1M438 147h1M439 147h1M441 147h1M443 147h1M444 147h1M445 147h1M446 147h1M447 147h1M448 147h1M452 147h1M453 147h1M455 147h1M459 147h1M460 147h1M461 147h1M464 147h1M471 147h1M419 148h1M428 148h1M429 148h1M432 148h1M433 148h1M434 148h1M435 148h1M436 148h1M438 148h1M439 148h1M440 148h1M441 148h1M442 148h1M443 148h1M444 148h1M445 148h1M446 148h1M447 148h1M448 148h1M449 148h1M450 148h1M451 148h1M452 148h1M453 148h1M454 148h1M455 148h1M457 148h1M459 148h1M461 148h1M465 148h1M474 148h1M429 149h1M430 149h1M434 149h1M435 149h1M437 149h1M438 149h1M439 149h1M440 149h1M441 149h1M442 149h1M443 149h1M445 149h1M446 149h1M447 149h1M448 149h1M450 149h1M451 149h1M453 149h1M454 149h1M455 149h1M456 149h1M457 149h1M458 149h1M460 149h1M461 149h1M464 149h1M467 149h1M469 149h1M428 150h1M429 150h1M430 150h1M431 150h1M433 150h1M434 150h1M435 150h1M436 150h1M437 150h1M439 150h1M440 150h1M441 150h1M442 150h1M443 150h1M444 150h1M446 150h1M447 150h1M448 150h1M449 150h1M450 150h1M451 150h1M452 150h1M454 150h1M455 150h1M456 150h1M458 150h1M461 150h1M464 150h1M465 150h1M467 150h1M469 150h1M476 150h1M425 151h1M427 151h1M429 151h1M430 151h1M432 151h1M433 151h1M434 151h1M435 151h1M436 151h1M437 151h1M438 151h1M439 151h1M440 151h1M441 151h1M442 151h1M443 151h1M444 151h1M445 151h1M446 151h1M447 151h1M448 151h1M449 151h1M451 151h1M452 151h1M453 151h1M454 151h1M455 151h1M456 151h1M457 151h1M458 151h1M459 151h1M462 151h1M463 151h1M464 151h1M465 151h1M466 151h1M470 151h1M478 151h1M419 152h1M424 152h1M425 152h1M426 152h1M429 152h1M430 152h1M431 152h1M432 152h1M433 152h1M435 152h1M437 152h1M438 152h1M439 152h1M440 152h1M441 152h1M442 152h1M443 152h1M444 152h1M445 152h1M446 152h1M447 152h1M448 152h1M449 152h1M450 152h1M451 152h1M452 152h1M453 152h1M454 152h1M455 152h1M456 152h1M457 152h1M458 152h1M459 152h1M463 152h1M464 152h1M466 152h1M468 152h1M469 152h1M471 152h1M474 152h1M416 153h1M429 153h1M430 153h1M431 153h1M434 153h1M435 153h1M437 153h1M438 153h1M439 153h1M440 153h1M441 153h1M442 153h1M444 153h1M445 153h1M446 153h1M447 153h1M448 153h1M449 153h1M450 153h1M451 153h1M452 153h1M454 153h1M455 153h1M456 153h1M457 153h1M458 153h1M459 153h1M460 153h1M462 153h1M463 153h1M464 153h1M466 153h1M469 153h1M414 154h1M420 154h1M422 154h1M429 154h1M432 154h1M433 154h1M434 154h1M435 154h1M436 154h1M437 154h1M438 154h1M439 154h1M441 154h1M442 154h1M443 154h1M444 154h1M445 154h1M446 154h1M447 154h1M448 154h1M449 154h1M450 154h1M451 154h1M452 154h1M453 154h1M454 154h1M455 154h1M456 154h1M457 154h1M458 154h1M459 154h1M460 154h1M461 154h1M463 154h1M465 154h1M466 154h1M468 154h1M470 154h1M471 154h1M427 155h1M429 155h1M430 155h1M431 155h1M432 155h1M433 155h1M435 155h1M436 155h1M437 155h1M438 155h1M439 155h1M440 155h1M441 155h1M442 155h1M443 155h1M444 155h1M445 155h1M446 155h1M447 155h1M448 155h1M449 155h1M450 155h1M451 155h1M452 155h1M453 155h1M455 155h1M457 155h1M459 155h1M460 155h1M461 155h1M462 155h1M463 155h1M465 155h1M466 155h1M469 155h1M474 155h1M477 155h1M421 156h1M424 156h1M427 156h1M428 156h1M432 156h1M433 156h1M434 156h1M435 156h1M437 156h1M438 156h1M439 156h1M440 156h1M442 156h1M443 156h1M444 156h1M445 156h1M446 156h1M448 156h1M449 156h1M450 156h1M451 156h1M452 156h1M453 156h1M454 156h1M456 156h1M458 156h1M459 156h1M461 156h1M462 156h1M463 156h1M466 156h1M425 157h1M432 157h1M435 157h1M436 157h1M437 157h1M438 157h1M439 157h1M440 157h1M441 157h1M442 157h1M444 157h1M446 157h1M447 157h1M448 157h1M449 157h1M450 157h1M451 157h1M452 157h1M453 157h1M454 157h1M456 157h1M457 157h1M458 157h1M459 157h1M463 157h1M465 157h1M469 157h1M473 157h1M428 158h1M431 158h1M433 158h1M434 158h1M436 158h1M437 158h1M439 158h1M440 158h1M441 158h1M442 158h1M443 158h1M444 158h1M445 158h1M447 158h1M448 158h1M449 158h1M450 158h1M451 158h1M452 158h1M453 158h1M454 158h1M455 158h1M456 158h1M458 158h1M461 158h1M463 158h1M465 158h1M467 158h1M468 158h1M469 158h1M472 158h1M479 158h1M421 159h1M426 159h1M431 159h1M432 159h1M434 159h1M435 159h1M436 159h1M437 159h1M438 159h1M439 159h1M440 159h1M442 159h1M444 159h1M445 159h1M448 159h1M452 159h1M453 159h1M455 159h1M456 159h1M457 159h1M458 159h1M459 159h1M460 159h1M461 159h1M464 159h1M465 159h1M466 159h1M467 159h1M469 159h1M471 159h1M432 160h1M435 160h1M436 160h1M438 160h1M439 160h1M444 160h1M445 160h1M446 160h1M448 160h1M449 160h1M451 160h1M452 160h1M453 160h1M455 160h1M457 160h1M458 160h1M462 160h1M463 160h1M464 160h1M466 160h1M472 160h1M433 161h1M434 161h1M440 161h1M441 161h1M442 161h1M444 161h1M445 161h1M446 161h1M449 161h1M452 161h1M453 161h1M454 161h1M460 161h1M461 161h1M464 161h1M466 161h1M467 161h1M437 162h1M438 162h1M446 162h1M447 162h1M448 162h1M449 162h1M452 162h1M456 162h1M457 162h1M465 162h1M466 162h1M467 162h1M472 162h1M432 163h1M437 163h1M438 163h1M439 163h1M445 163h1M448 163h1M464 163h1M467 163h1M444 164h1M458 164h1M465 164h1M451 165h1M456 165h1M459 165h1M465 165h1M434 166h1M453 167h1" stroke="#111" stroke-opacity="0.78" stroke-width="1"/><path d="M439 104h1M437 106h1M439 106h1M440 106h1M448 106h1M450 106h1M435 107h1M444 107h1M428 108h1M427 109h1M430 109h1M438 109h1M450 110h1M454 110h1M423 111h1M427 111h1M428 111h1M436 111h1M440 111h1M422 112h1M433 112h1M435 112h1M439 112h1M443 112h1M432 113h1M442 113h1M452 113h1M419 114h1M422 114h1M423 114h1M426 114h1M434 114h1M436 114h1M443 114h1M444 114h1M420 115h1M426 115h1M428 115h1M432 115h1M436 115h1M443 115h1M430 116h1M434 116h1M442 116h1M450 116h1M451 116h1M434 117h1M436 117h1M438 117h1M442 117h1M419 118h1M426 118h1M430 118h1M434 118h1M439 118h1M441 118h1M446 118h1M426 119h1M431 119h1M432 119h1M435 119h1M436 119h1M441 119h1M443 119h1M422 120h1M425 120h1M433 120h1M435 120h1M436 120h1M439 120h1M441 120h1M416 121h1M421 121h1M424 121h1M429 121h1M430 121h1M432 121h1M433 121h1M436 121h1M438 121h1M446 121h1M447 121h1M420 122h1M427 122h1M428 122h1M429 122h1M430 122h1M433 122h1M434 122h1M436 122h1M437 122h1M438 122h1M447 122h1M450 122h1M451 122h1M452 122h1M407 123h1M428 123h1M436 123h1M438 123h1M440 123h1M443 123h1M447 123h1M449 123h1M451 123h1M423 124h1M424 124h1M426 124h1M433 124h1M435 124h1M436 124h1M438 124h1M444 124h1M421 125h1M424 125h1M428 125h1M434 125h1M440 125h1M442 125h1M418 126h1M431 126h1M433 126h1M436 126h1M437 126h1M438 126h1M441 126h1M415 127h1M423 127h1M426 127h1M429 127h1M430 127h1M432 127h1M436 127h1M440 127h1M441 127h1M444 127h1M445 127h1M447 127h1M419 128h1M422 128h1M428 128h1M432 128h1M433 128h1M438 128h1M439 128h1M442 128h1M446 128h1M449 128h1M425 129h1M429 129h1M430 129h1M432 129h1M433 129h1M439 129h1M441 129h1M446 129h1M455 129h1M419 130h1M426 130h1M431 130h1M439 130h1M415 131h1M422 131h1M430 131h1M431 131h1M433 131h1M434 131h1M437 131h1M450 131h1M424 132h1M433 132h1M434 132h1M435 132h1M436 132h1M421 133h1M422 133h1M426 133h1M427 133h1M429 133h1M431 133h1M433 133h1M434 133h1M436 133h1M437 133h1M441 133h1M444 133h1M446 133h1M429 134h1M432 134h1M434 134h1M442 134h1M443 134h1M450 134h1M456 134h1M417 135h1M429 135h1M436 135h1M441 135h1M451 135h1M419 136h1M424 136h1M425 136h1M428 136h1M437 136h1M439 136h1M440 136h1M442 136h1M424 137h1M426 137h1M430 137h1M437 137h1M440 137h1M425 138h1M427 138h1M428 138h1M429 138h1M432 138h1M438 138h1M441 138h1M442 138h1M443 138h1M444 138h1M452 138h1M414 139h1M420 139h1M424 139h1M429 139h1M430 139h1M436 139h1M444 139h1M445 139h1M448 139h1M432 140h1M440 140h1M442 140h1M443 140h1M444 140h1M449 140h1M422 141h1M431 141h1M422 142h1M425 142h1M429 142h1M443 142h1M451 142h1M435 143h1M436 143h1M443 143h1M442 144h1M445 144h1M442 147h1M446 147h1M433 148h1M439 150h1M452 150h1M416 153h1M439 153h1M443 153h1" stroke="#111" stroke-opacity="0.68" stroke-width="1"/><path d="M431 103h1M444 104h1M438 105h1M431 106h1M405 108h1M444 108h1M416 109h1M427 109h1M433 110h1M440 110h1M443 110h1M431 111h1M432 111h1M436 112h1M437 112h1M442 112h1M424 113h1M437 113h1M444 113h1M445 113h1M418 114h1M421 114h1M425 114h1M429 114h1M430 114h1M435 114h1M451 114h1M427 115h1M439 115h1M443 115h1M452 115h1M453 115h1M420 116h1M425 116h1M427 116h1M433 116h1M438 116h1M443 116h1M445 116h1M449 116h1M458 116h1M430 117h1M437 117h1M446 117h1M425 118h1M429 118h1M430 118h1M439 118h1M440 118h1M443 118h1M446 118h1M453 118h1M457 118h1M413 119h1M422 119h1M423 119h1M425 119h1M431 119h1M432 119h1M433 119h1M437 119h1M441 119h1M453 119h1M421 120h1M422 120h1M427 120h1M434 120h1M435 120h1M438 120h1M423 121h1M426 121h1M429 121h1M430 121h1M431 121h1M439 121h1M442 121h1M449 121h1M457 121h1M422 122h1M424 122h1M426 122h1M427 122h1M434 122h1M435 122h1M437 122h1M438 122h1M443 122h1M444 122h1M448 122h1M415 123h1M424 123h1M427 123h1M432 123h1M434 123h1M435 123h1M436 123h1M437 123h1M438 123h1M440 123h1M444 123h1M446 123h1M452 123h1M454 123h1M426 124h1M429 124h1M431 124h1M440 124h1M441 124h1M449 124h1M451 124h1M421 125h1M427 125h1M429 125h1M433 125h1M438 125h1M439 125h1M444 125h1M420 126h1M422 126h1M427 126h1M431 126h1M437 126h1M438 126h1M440 126h1M441 126h1M443 126h1M446 126h1M419 127h1M420 127h1M423 127h1M424 127h1M427 127h1M429 127h1M431 127h1M433 127h1M434 127h1M439 127h1M440 127h1M445 127h1M454 127h1M460 127h1M418 128h1M420 128h1M422 128h1M429 128h1M431 128h1M432 128h1M434 128h1M440 128h1M442 128h1M423 129h1M428 129h1M429 129h1M430 129h1M431 129h1M432 129h1M438 129h1M450 129h1M411 130h1M419 130h1M420 130h1M424 130h1M425 130h1M430 130h1M432 130h1M433 130h1M434 130h1M436 130h1M437 130h1M439 130h1M442 130h1M443 130h1M464 130h1M418 131h1M427 131h1M429 131h1M434 131h1M436 131h1M437 131h1M441 131h1M444 131h1M446 131h1M447 131h1M449 131h1M423 132h1M425 132h1M433 132h1M436 132h1M442 132h1M433 133h1M434 133h1M437 133h1M439 133h1M440 133h1M419 134h1M430 134h1M431 134h1M432 134h1M437 134h1M441 134h1M416 135h1M442 135h1M446 135h1M423 136h1M424 136h1M427 136h1M430 136h1M431 136h1M433 136h1M435 136h1M437 136h1M444 136h1M445 136h1M450 136h1M452 136h1M427 137h1M433 137h1M436 137h1M437 137h1M440 137h1M448 137h1M430 138h1M437 138h1M442 138h1M443 138h1M447 138h1M448 138h1M424 139h1M431 139h1M434 139h1M438 139h1M446 139h1M453 139h1M440 140h1M441 140h1M446 140h1M434 141h1M437 141h1M442 141h1M448 141h1M424 142h1M428 142h1M438 142h1M445 142h1M430 143h1M431 143h1M438 143h1M439 143h1M443 144h1M430 145h1M444 145h1M428 146h1M450 146h1M432 148h1M438 150h1M428 151h1M432 151h1M426 153h1M446 153h1M442 154h1M437 156h1" stroke="#111" stroke-opacity="0.68" stroke-width="1"/><path d="M431 104h1M440 104h1M443 104h1M430 106h1M440 106h1M441 106h1M443 106h1M439 107h1M424 108h1M433 108h1M420 109h1M426 109h1M431 109h1M434 109h1M431 110h1M420 111h1M444 111h1M425 112h1M427 112h1M438 112h1M439 112h1M418 113h1M426 113h1M438 113h1M439 113h1M439 114h1M441 114h1M424 115h1M436 115h1M424 116h1M433 116h1M437 116h1M439 116h1M440 116h1M444 116h1M427 117h1M433 117h1M451 117h1M429 118h1M433 118h1M434 118h1M436 118h1M440 118h1M443 118h1M445 118h1M449 118h1M421 119h1M428 119h1M434 119h1M437 119h1M438 119h1M445 119h1M446 119h1M447 119h1M448 119h1M419 120h1M424 120h1M431 120h1M432 120h1M435 120h1M437 120h1M439 120h1M440 120h1M442 120h1M443 120h1M445 120h1M432 121h1M435 121h1M441 121h1M442 121h1M444 121h1M445 121h1M446 121h1M428 122h1M429 122h1M430 122h1M433 122h1M421 123h1M422 123h1M426 123h1M429 123h1M431 123h1M433 123h1M434 123h1M436 123h1M438 123h1M442 123h1M443 123h1M445 123h1M449 123h1M424 124h1M425 124h1M427 124h1M433 124h1M436 124h1M437 124h1M444 124h1M445 124h1M449 124h1M453 124h1M459 124h1M412 125h1M421 125h1M429 125h1M430 125h1M431 125h1M432 125h1M433 125h1M434 125h1M435 125h1M436 125h1M440 125h1M441 125h1M442 125h1M446 125h1M452 125h1M413 126h1M421 126h1M425 126h1M430 126h1M431 126h1M433 126h1M437 126h1M439 126h1M445 126h1M456 126h1M419 127h1M424 127h1M427 127h1M435 127h1M436 127h1M439 127h1M449 127h1M451 127h1M410 128h1M424 128h1M426 128h1M427 128h1M428 128h1M429 128h1M430 128h1M432 128h1M433 128h1M434 128h1M443 128h1M444 128h1M451 128h1M429 129h1M431 129h1M432 129h1M439 129h1M445 129h1M417 130h1M421 130h1M423 130h1M427 130h1M428 130h1M431 130h1M432 130h1M437 130h1M442 130h1M443 130h1M449 130h1M453 130h1M416 131h1M417 131h1M422 131h1M425 131h1M431 131h1M438 131h1M440 131h1M441 131h1M446 131h1M422 132h1M428 132h1M429 132h1M430 132h1M431 132h1M436 132h1M449 132h1M427 133h1M429 133h1M432 133h1M435 133h1M436 133h1M439 133h1M441 133h1M443 133h1M435 134h1M436 134h1M440 134h1M443 134h1M446 134h1M458 134h1M416 135h1M425 135h1M428 135h1M431 135h1M433 135h1M437 135h1M438 135h1M440 135h1M441 135h1M451 135h1M429 136h1M430 136h1M432 136h1M434 136h1M438 136h1M439 136h1M424 137h1M425 137h1M426 137h1M431 137h1M438 137h1M446 137h1M450 137h1M422 138h1M430 138h1M438 138h1M439 138h1M445 138h1M437 139h1M445 139h1M422 140h1M440 140h1M443 140h1M452 140h1M419 141h1M436 141h1M452 141h1M427 142h1M432 142h1M438 142h1M439 142h1M431 143h1M433 143h1M435 143h1M436 145h1M427 147h1M429 147h1M440 148h1M419 150h1M428 153h1M455 154h1" stroke="#111" stroke-opacity="0.68" stroke-width="1"/><path d="M427 135h1M492 135h1M448 136h1M450 137h1M421 138h1M458 138h1M471 138h1M448 139h1M459 139h1M431 140h1M441 140h1M439 141h1M447 141h1M459 141h1M460 141h1M431 142h1M437 143h1M446 143h1M464 143h1M466 143h1M479 144h1M437 145h1M437 146h1M449 146h1M457 147h1M441 148h1M444 148h1M460 148h1M422 149h1M436 149h1M437 149h1M444 149h1M428 150h1M451 152h1M452 152h1M460 152h1M483 152h1M452 153h1M458 153h1M468 153h1M464 154h1M451 155h1M460 155h1M444 156h1M445 156h1M452 156h1M429 157h1M432 157h1M437 157h1M449 158h1M454 158h1M463 158h1M469 158h1M437 159h1M450 159h1M452 159h1M471 159h1M428 160h1M429 161h1M451 161h1M415 162h1M451 162h1" stroke="#111" stroke-opacity="0.5" stroke-width="1"/><path d="M452 126h1M467 136h1M424 138h1M444 138h1M452 138h1M493 138h1M440 140h1M437 141h1M461 141h1M430 142h1M446 142h1M440 143h1M475 143h1M411 144h1M442 144h1M442 145h1M444 145h1M452 145h1M464 145h1M447 146h1M449 146h1M422 147h1M424 147h1M462 147h1M450 148h1M446 149h1M458 149h1M459 149h1M426 150h1M447 150h1M477 150h1M418 151h1M421 151h1M473 151h1M442 152h1M452 152h1M454 152h1M465 152h1M475 153h1M462 154h1M438 155h1M439 155h1M455 155h1M469 155h1M457 156h1M462 156h1M431 157h1M448 157h1M429 158h1M458 158h1M459 158h1M446 159h1M487 159h1M441 160h1M430 161h1M443 161h1M450 161h1M441 163h1M445 164h1M448 164h1M452 165h1M452 167h1" stroke="#111" stroke-opacity="0.5" stroke-width="1"/><path d="M442 135h1M455 137h1M448 138h1M454 139h1M446 141h1M460 141h1M432 142h1M445 142h1M452 142h1M412 143h1M450 143h1M465 143h1M466 143h1M438 144h1M432 145h1M460 145h1M414 146h1M436 146h1M425 147h1M436 147h1M447 147h1M455 147h1M456 147h1M463 147h1M453 148h1M423 149h1M425 149h1M446 151h1M447 151h1M452 151h1M461 151h1M422 152h1M448 152h1M452 152h1M455 152h1M469 152h1M431 153h1M444 153h1M452 153h1M493 153h1M427 154h1M442 154h1M478 154h1M458 155h1M462 155h1M424 156h1M435 156h1M438 156h1M451 156h1M459 157h1M468 157h1M446 158h1M455 158h1M451 159h1M452 159h1M456 159h1M458 159h1M461 159h1M468 159h1M479 159h1M409 160h1M450 160h1M437 162h1M456 162h1M442 164h1M473 164h1M502 164h1" stroke="#111" stroke-opacity="0.5" stroke-width="1"/></g>
<path d="M385.5 46.5H517.5V169.5" fill="none" stroke="#6a6a6a" stroke-width="1"/>
<path d="M385.5 46.5V169.5H517.5" fill="none" stroke="#555" stroke-width="1"/>
<path d="M418.40 46.50L418.40 171.50" stroke="#333" stroke-width="1.3"/>
<path d="M385.50 139.50L517.50 139.50" stroke="#1a1a1a" stroke-width="1.2"/>
<text x="386.50" y="52.40" font-size="5.6" fill="#333" class="n">N1</text>
<text x="419.20" y="52.40" font-size="5.6" fill="#333" class="n">N2</text>
<text x="386.50" y="145.70" font-size="5.6" fill="#333" class="n">N3</text>
<text x="419.20" y="145.70" font-size="5.6" fill="#333" class="n">N4</text>
<text class="n" x="415.52" y="179.30" font-size="4.6" fill="#444">10<tspan font-size="3" dy="-1.8">1</tspan></text>
<text class="n" x="373.70" y="140.28" font-size="4.6" fill="#444">10<tspan font-size="3" dy="-1.8">1</tspan></text>
<text class="n" x="448.35" y="179.30" font-size="4.6" fill="#444">10<tspan font-size="3" dy="-1.8">2</tspan></text>
<text class="n" x="373.70" y="109.55" font-size="4.6" fill="#444">10<tspan font-size="3" dy="-1.8">2</tspan></text>
<text class="n" x="481.18" y="179.30" font-size="4.6" fill="#444">10<tspan font-size="3" dy="-1.8">3</tspan></text>
<text class="n" x="373.70" y="78.83" font-size="4.6" fill="#444">10<tspan font-size="3" dy="-1.8">3</tspan></text>
<text class="n" x="514.00" y="179.30" font-size="4.6" fill="#444">10<tspan font-size="3" dy="-1.8">4</tspan></text>
<text class="n" x="373.70" y="48.10" font-size="4.6" fill="#444">10<tspan font-size="3" dy="-1.8">4</tspan></text>
<text x="406.90" y="30.30" font-size="10.3">Bone marrow cells</text>
<text transform="translate(365.60,103.60) rotate(-90)" font-size="10.4" text-anchor="middle">CXCR4 (FL4)</text>
<text x="425.40" y="199.00" font-size="10.4">CD34 (FL2)</text>
<text x="492.50" y="60.20" font-size="10.1">22%</text>
<text x="492.80" y="152.60" font-size="10.1">78%</text>
<text x="146.20" y="221.50" font-size="19" font-weight="bold" fill="#000">ii</text>
<path d="M184.10 275.10H358.70M184.10 259.70H358.70M184.10 244.30H358.70M184.10 228.90H358.70" stroke="#d9d9d9" stroke-width="1"/>
<path d="M184.10 228.90V290.50M358.70 228.90V290.50" stroke="#cfcfcf" stroke-width="0.8"/>
<text x="177.80" y="293.20" font-size="7.6" text-anchor="end">0</text>
<path d="M182.10 290.50H184.10" stroke="#bbb" stroke-width="0.7"/>
<text x="177.80" y="277.80" font-size="7.6" text-anchor="end">20</text>
<path d="M182.10 275.10H184.10" stroke="#bbb" stroke-width="0.7"/>
<text x="177.80" y="262.40" font-size="7.6" text-anchor="end">40</text>
<path d="M182.10 259.70H184.10" stroke="#bbb" stroke-width="0.7"/>
<text x="177.80" y="247.00" font-size="7.6" text-anchor="end">60</text>
<path d="M182.10 244.30H184.10" stroke="#bbb" stroke-width="0.7"/>
<text x="177.80" y="231.60" font-size="7.6" text-anchor="end">80</text>
<path d="M182.10 228.90H184.10" stroke="#bbb" stroke-width="0.7"/>
<rect x="192.30" y="245.07" width="9.85" height="45.43" fill="#0a0a0a" stroke="#000" stroke-width="0.8"/>
<rect x="202.95" y="275.10" width="9.85" height="15.40" fill="#767676" stroke="#333" stroke-width="0.8"/>
<rect x="213.60" y="233.52" width="9.85" height="56.98" fill="#b4b4b4" stroke="#444" stroke-width="0.8"/>
<rect x="224.25" y="244.30" width="9.85" height="46.20" fill="#f8f8f8" stroke="#444" stroke-width="0.8"/>
<rect x="250.50" y="282.03" width="9.85" height="8.47" fill="#0a0a0a" stroke="#000" stroke-width="0.8"/>
<rect x="261.15" y="285.88" width="9.85" height="4.62" fill="#767676" stroke="#333" stroke-width="0.8"/>
<rect x="271.80" y="272.79" width="9.85" height="17.71" fill="#b4b4b4" stroke="#444" stroke-width="0.8"/>
<rect x="282.45" y="287.42" width="9.85" height="3.08" fill="#f8f8f8" stroke="#444" stroke-width="0.8"/>
<rect x="308.70" y="273.56" width="9.85" height="16.94" fill="#0a0a0a" stroke="#000" stroke-width="0.8"/>
<rect x="319.35" y="282.03" width="9.85" height="8.47" fill="#767676" stroke="#333" stroke-width="0.8"/>
<rect x="330.00" y="279.72" width="9.85" height="10.78" fill="#b4b4b4" stroke="#444" stroke-width="0.8"/>
<rect x="340.65" y="258.93" width="9.85" height="31.57" fill="#f8f8f8" stroke="#444" stroke-width="0.8"/>
<text transform="translate(140.40,265.30) rotate(-90)" font-size="7.6" text-anchor="middle" font-weight="bold">% cells expressing CXCR4</text>
<rect x="365.80" y="235.40" width="38.00" height="48.90" fill="none" stroke="#d0d0d0" stroke-width="0.8"/>
<rect x="368.00" y="240.30" width="4.00" height="4.00" fill="#0a0a0a" stroke="#000" stroke-width="0.7"/>
<text x="375.00" y="243.80" font-size="7.4">RQ3636</text>
<rect x="368.00" y="252.30" width="4.00" height="4.00" fill="#767676" stroke="#333" stroke-width="0.7"/>
<text x="375.00" y="255.80" font-size="7.4">RQ3590</text>
<rect x="368.00" y="264.60" width="4.00" height="4.00" fill="#b4b4b4" stroke="#444" stroke-width="0.7"/>
<text x="375.00" y="268.10" font-size="7.4">RQ3565</text>
<rect x="368.00" y="277.00" width="4.00" height="4.00" fill="#f8f8f8" stroke="#444" stroke-width="0.7"/>
<text x="375.00" y="280.50" font-size="7.4">RQ4380</text>
<path d="M145.00 304.40H358.70M145.00 317.50H358.70M145.00 330.20H358.70M145.00 342.90H358.70M145.00 355.30H358.70M145.00 304.40V355.30M184.10 290.50V355.30M242.30 290.50V355.30M300.50 290.50V355.30M358.70 290.50V355.30" stroke="#cdcdcd" stroke-width="0.8"/>
<path d="M184.10 290.50H358.70" stroke="#999" stroke-width="0.8"/>
<text x="213.20" y="300.00" font-size="7.6" text-anchor="middle">AMD3100</text>
<text x="271.40" y="300.00" font-size="7.6" text-anchor="middle">G-CSF</text>
<text x="329.60" y="300.00" font-size="7.6" text-anchor="middle">BM</text>
<rect x="147.40" y="309.95" width="4.00" height="4.00" fill="#0a0a0a" stroke="#000" stroke-width="0.7"/>
<text x="154.20" y="314.05" font-size="7.4">RQ3636</text>
<text x="213.20" y="314.05" font-size="7.6" text-anchor="middle">59</text>
<text x="271.40" y="314.05" font-size="7.6" text-anchor="middle">11</text>
<text x="329.60" y="314.05" font-size="7.6" text-anchor="middle">22</text>
<rect x="147.40" y="322.85" width="4.00" height="4.00" fill="#767676" stroke="#333" stroke-width="0.7"/>
<text x="154.20" y="326.95" font-size="7.4">RQ3590</text>
<text x="213.20" y="326.95" font-size="7.6" text-anchor="middle">20</text>
<text x="271.40" y="326.95" font-size="7.6" text-anchor="middle">6</text>
<text x="329.60" y="326.95" font-size="7.6" text-anchor="middle">11</text>
<rect x="147.40" y="335.55" width="4.00" height="4.00" fill="#b4b4b4" stroke="#444" stroke-width="0.7"/>
<text x="154.20" y="339.65" font-size="7.4">RQ3565</text>
<text x="213.20" y="339.65" font-size="7.6" text-anchor="middle">74</text>
<text x="271.40" y="339.65" font-size="7.6" text-anchor="middle">23</text>
<text x="329.60" y="339.65" font-size="7.6" text-anchor="middle">14</text>
<rect x="147.40" y="348.10" width="4.00" height="4.00" fill="#f8f8f8" stroke="#444" stroke-width="0.7"/>
<text x="154.20" y="352.20" font-size="7.4">RQ4380</text>
<text x="213.20" y="352.20" font-size="7.6" text-anchor="middle">60</text>
<text x="271.40" y="352.20" font-size="7.6" text-anchor="middle">4</text>
<text x="329.60" y="352.20" font-size="7.6" text-anchor="middle">41</text>
<text x="147.30" y="378.00" font-size="7.75">Mean <tspan text-decoration="underline">+</tspan> SD</text>
<text x="215.20" y="378.00" font-size="7.75" text-anchor="middle">53 <tspan text-decoration="underline">+</tspan> 23%</text>
<text x="272.10" y="378.00" font-size="7.75" text-anchor="middle">11 <tspan text-decoration="underline">+</tspan> 9%</text>
<text x="329.00" y="378.00" font-size="7.75" text-anchor="middle">22 <tspan text-decoration="underline">+</tspan> 13%</text>
<text x="121.30" y="422.80" font-size="25" font-weight="bold" fill="#000">B</text>
<path d="M176.20 488.73H351.00M176.20 473.25H351.00M176.20 457.77H351.00M176.20 442.30H351.00" stroke="#d9d9d9" stroke-width="1"/>
<path d="M176.20 442.30V504.20M351.00 442.30V504.20" stroke="#cfcfcf" stroke-width="0.8"/>
<text x="171.20" y="506.90" font-size="7.6" text-anchor="end">0</text>
<path d="M174.20 504.20H176.20" stroke="#bbb" stroke-width="0.7"/>
<text x="171.20" y="491.43" font-size="7.6" text-anchor="end">20</text>
<path d="M174.20 488.73H176.20" stroke="#bbb" stroke-width="0.7"/>
<text x="171.20" y="475.95" font-size="7.6" text-anchor="end">40</text>
<path d="M174.20 473.25H176.20" stroke="#bbb" stroke-width="0.7"/>
<text x="171.20" y="460.47" font-size="7.6" text-anchor="end">60</text>
<path d="M174.20 457.77H176.20" stroke="#bbb" stroke-width="0.7"/>
<text x="171.20" y="445.00" font-size="7.6" text-anchor="end">80</text>
<path d="M174.20 442.30H176.20" stroke="#bbb" stroke-width="0.7"/>
<rect x="184.60" y="454.68" width="9.75" height="49.52" fill="#0a0a0a" stroke="#000" stroke-width="0.8"/>
<rect x="195.15" y="486.40" width="9.75" height="17.80" fill="#767676" stroke="#333" stroke-width="0.8"/>
<rect x="205.70" y="462.42" width="9.75" height="41.78" fill="#b4b4b4" stroke="#444" stroke-width="0.8"/>
<rect x="216.25" y="474.80" width="9.75" height="29.40" fill="#f8f8f8" stroke="#444" stroke-width="0.8"/>
<rect x="242.87" y="490.27" width="9.75" height="13.93" fill="#0a0a0a" stroke="#000" stroke-width="0.8"/>
<rect x="253.42" y="500.33" width="9.75" height="3.87" fill="#767676" stroke="#333" stroke-width="0.8"/>
<rect x="263.97" y="498.78" width="9.75" height="5.42" fill="#b4b4b4" stroke="#444" stroke-width="0.8"/>
<rect x="274.52" y="502.65" width="9.75" height="1.55" fill="#f8f8f8" stroke="#444" stroke-width="0.8"/>
<rect x="301.13" y="487.18" width="9.75" height="17.02" fill="#0a0a0a" stroke="#000" stroke-width="0.8"/>
<rect x="311.68" y="499.56" width="9.75" height="4.64" fill="#767676" stroke="#333" stroke-width="0.8"/>
<rect x="322.23" y="501.11" width="9.75" height="3.09" fill="#b4b4b4" stroke="#444" stroke-width="0.8"/>
<rect x="332.78" y="477.12" width="9.75" height="27.08" fill="#f8f8f8" stroke="#444" stroke-width="0.8"/>
<text transform="translate(132.60,497.60) rotate(-90)" font-size="7.7" text-anchor="middle" font-weight="bold">% migration towards SDF-1α in vitro</text>
<rect x="357.70" y="448.30" width="38.50" height="50.00" fill="none" stroke="#d0d0d0" stroke-width="0.8"/>
<rect x="359.90" y="454.40" width="4.00" height="4.00" fill="#0a0a0a" stroke="#000" stroke-width="0.7"/>
<text x="367.00" y="457.90" font-size="7.4">RQ3636</text>
<rect x="359.90" y="465.90" width="4.00" height="4.00" fill="#767676" stroke="#333" stroke-width="0.7"/>
<text x="367.00" y="469.40" font-size="7.4">RQ3590</text>
<rect x="359.90" y="478.40" width="4.00" height="4.00" fill="#b4b4b4" stroke="#444" stroke-width="0.7"/>
<text x="367.00" y="481.90" font-size="7.4">RQ3565</text>
<rect x="359.90" y="490.70" width="4.00" height="4.00" fill="#f8f8f8" stroke="#444" stroke-width="0.7"/>
<text x="367.00" y="494.20" font-size="7.4">RQ4380</text>
<path d="M136.70 518.30H351.00M136.70 531.40H351.00M136.70 544.10H351.00M136.70 556.90H351.00M136.70 569.20H351.00M136.70 518.30V569.20M176.20 504.20V569.20M234.47 504.20V569.20M292.73 504.20V569.20M351.00 504.20V569.20" stroke="#cdcdcd" stroke-width="0.8"/>
<path d="M176.20 504.20H351.00" stroke="#999" stroke-width="0.8"/>
<text x="205.33" y="513.70" font-size="7.6" text-anchor="middle">AMD3100</text>
<text x="263.60" y="513.70" font-size="7.6" text-anchor="middle">G-CSF</text>
<text x="321.87" y="513.70" font-size="7.6" text-anchor="middle">BM</text>
<rect x="139.10" y="523.85" width="4.00" height="4.00" fill="#0a0a0a" stroke="#000" stroke-width="0.7"/>
<text x="145.90" y="527.95" font-size="7.4">RQ3636</text>
<text x="205.33" y="527.95" font-size="7.6" text-anchor="middle">64</text>
<text x="263.60" y="527.95" font-size="7.6" text-anchor="middle">18</text>
<text x="321.87" y="527.95" font-size="7.6" text-anchor="middle">22</text>
<rect x="139.10" y="536.75" width="4.00" height="4.00" fill="#767676" stroke="#333" stroke-width="0.7"/>
<text x="145.90" y="540.85" font-size="7.4">RQ3590</text>
<text x="205.33" y="540.85" font-size="7.6" text-anchor="middle">23</text>
<text x="263.60" y="540.85" font-size="7.6" text-anchor="middle">5</text>
<text x="321.87" y="540.85" font-size="7.6" text-anchor="middle">6</text>
<rect x="139.10" y="549.50" width="4.00" height="4.00" fill="#b4b4b4" stroke="#444" stroke-width="0.7"/>
<text x="145.90" y="553.60" font-size="7.4">RQ3565</text>
<text x="205.33" y="553.60" font-size="7.6" text-anchor="middle">54</text>
<text x="263.60" y="553.60" font-size="7.6" text-anchor="middle">7</text>
<text x="321.87" y="553.60" font-size="7.6" text-anchor="middle">4</text>
<rect x="139.10" y="562.05" width="4.00" height="4.00" fill="#f8f8f8" stroke="#444" stroke-width="0.7"/>
<text x="145.90" y="566.15" font-size="7.4">RQ4380</text>
<text x="205.33" y="566.15" font-size="7.6" text-anchor="middle">38</text>
<text x="263.60" y="566.15" font-size="7.6" text-anchor="middle">2</text>
<text x="321.87" y="566.15" font-size="7.6" text-anchor="middle">35</text>
<text x="141.90" y="592.00" font-size="7.75">Mean <tspan text-decoration="underline">+</tspan> SD</text>
<text x="210.20" y="592.00" font-size="7.75" text-anchor="middle">45 <tspan text-decoration="underline">+</tspan> 22%</text>
<text x="267.90" y="592.00" font-size="7.75" text-anchor="middle">8 <tspan text-decoration="underline">+</tspan> 1%</text>
<text x="325.60" y="592.00" font-size="7.75" text-anchor="middle">17 <tspan text-decoration="underline">+</tspan> 1%</text>
<text x="1.50" y="640.40" font-size="25" font-weight="bold" fill="#000">C</text>
<text x="6.00" y="662.00" font-size="19" font-weight="bold" fill="#000">i</text>
<path d="M33.60 783.40v5M33.60 783.40h-5M43.46 783.40v3M33.60 774.23h-3M49.23 783.40v3M33.60 768.86h-3M53.32 783.40v3M33.60 765.05h-3M56.49 783.40v3M33.60 762.10h-3M59.08 783.40v3M33.60 759.69h-3M61.28 783.40v3M33.60 757.65h-3M63.18 783.40v3M33.60 755.88h-3M64.85 783.40v3M33.60 754.32h-3M66.35 783.40v5M33.60 752.92h-5M76.21 783.40v3M33.60 743.75h-3M81.98 783.40v3M33.60 738.38h-3M86.07 783.40v3M33.60 734.58h-3M89.24 783.40v3M33.60 731.62h-3M91.83 783.40v3M33.60 729.21h-3M94.03 783.40v3M33.60 727.17h-3M95.93 783.40v3M33.60 725.40h-3M97.60 783.40v3M33.60 723.84h-3M99.10 783.40v5M33.60 722.45h-5M108.96 783.40v3M33.60 713.28h-3M114.73 783.40v3M33.60 707.91h-3M118.82 783.40v3M33.60 704.10h-3M121.99 783.40v3M33.60 701.15h-3M124.58 783.40v3M33.60 698.74h-3M126.78 783.40v3M33.60 696.70h-3M128.68 783.40v3M33.60 694.93h-3M130.35 783.40v3M33.60 693.37h-3M131.85 783.40v5M33.60 691.98h-5M141.71 783.40v3M33.60 682.80h-3M147.48 783.40v3M33.60 677.43h-3M151.57 783.40v3M33.60 673.63h-3M154.74 783.40v3M33.60 670.67h-3M157.33 783.40v3M33.60 668.26h-3M159.53 783.40v3M33.60 666.22h-3M161.43 783.40v3M33.60 664.45h-3M163.10 783.40v3M33.60 662.89h-3M164.60 783.40v5M33.60 661.50h-5" stroke="#666" stroke-width="0.75"/>
<g shape-rendering="crispEdges" transform="translate(0,0.5)" ><path d="M95 715h1M92 716h1M93 717h1M75 718h1M108 718h1M82 719h1M90 719h1M92 719h1M108 719h1M80 720h1M105 720h1M61 721h1M76 721h1M85 721h1M88 721h1M100 721h1M75 722h1M85 722h1M91 722h1M110 722h1M74 723h1M86 723h1M87 723h1M89 723h1M96 723h1M97 723h1M101 723h1M102 723h1M106 723h1M113 723h1M73 724h1M80 724h1M87 724h1M88 724h1M90 724h1M95 724h1M96 724h1M97 724h1M102 724h1M103 724h1M85 725h1M86 725h1M87 725h1M89 725h1M91 725h1M97 725h1M98 725h1M100 725h1M108 725h1M68 726h1M71 726h1M76 726h1M85 726h1M86 726h1M87 726h1M88 726h1M93 726h1M94 726h1M98 726h1M100 726h1M101 726h1M103 726h1M104 726h1M107 726h1M121 726h1M67 727h1M74 727h1M78 727h1M82 727h1M83 727h1M84 727h1M86 727h1M87 727h1M88 727h1M89 727h1M90 727h1M91 727h1M93 727h1M95 727h1M96 727h1M97 727h1M99 727h1M102 727h1M103 727h1M104 727h1M105 727h1M106 727h1M109 727h1M113 727h1M81 728h1M82 728h1M83 728h1M86 728h1M87 728h1M88 728h1M89 728h1M90 728h1M91 728h1M92 728h1M93 728h1M95 728h1M96 728h1M98 728h1M99 728h1M100 728h1M102 728h1M103 728h1M104 728h1M105 728h1M112 728h1M114 728h1M76 729h1M78 729h1M83 729h1M84 729h1M85 729h1M86 729h1M88 729h1M89 729h1M90 729h1M91 729h1M92 729h1M93 729h1M94 729h1M95 729h1M97 729h1M98 729h1M99 729h1M100 729h1M101 729h1M102 729h1M103 729h1M104 729h1M105 729h1M107 729h1M112 729h1M118 729h1M74 730h1M75 730h1M78 730h1M80 730h1M81 730h1M83 730h1M84 730h1M85 730h1M86 730h1M87 730h1M88 730h1M89 730h1M90 730h1M93 730h1M94 730h1M95 730h1M96 730h1M97 730h1M98 730h1M100 730h1M101 730h1M102 730h1M104 730h1M105 730h1M108 730h1M71 731h1M74 731h1M77 731h1M79 731h1M80 731h1M82 731h1M83 731h1M84 731h1M86 731h1M87 731h1M88 731h1M89 731h1M90 731h1M91 731h1M92 731h1M93 731h1M94 731h1M95 731h1M96 731h1M97 731h1M98 731h1M99 731h1M100 731h1M101 731h1M103 731h1M105 731h1M106 731h1M107 731h1M108 731h1M110 731h1M73 732h1M74 732h1M75 732h1M78 732h1M79 732h1M80 732h1M83 732h1M85 732h1M86 732h1M87 732h1M88 732h1M89 732h1M90 732h1M91 732h1M92 732h1M94 732h1M95 732h1M96 732h1M97 732h1M98 732h1M99 732h1M100 732h1M101 732h1M102 732h1M103 732h1M104 732h1M107 732h1M109 732h1M110 732h1M115 732h1M118 732h1M66 733h1M72 733h1M74 733h1M75 733h1M76 733h1M78 733h1M80 733h1M81 733h1M82 733h1M83 733h1M84 733h1M85 733h1M86 733h1M87 733h1M88 733h1M89 733h1M90 733h1M91 733h1M92 733h1M94 733h1M95 733h1M96 733h1M98 733h1M99 733h1M101 733h1M102 733h1M103 733h1M105 733h1M106 733h1M107 733h1M111 733h1M69 734h1M74 734h1M75 734h1M77 734h1M78 734h1M79 734h1M80 734h1M81 734h1M82 734h1M83 734h1M84 734h1M86 734h1M87 734h1M88 734h1M89 734h1M90 734h1M91 734h1M92 734h1M93 734h1M94 734h1M95 734h1M96 734h1M97 734h1M99 734h1M100 734h1M101 734h1M102 734h1M103 734h1M104 734h1M105 734h1M106 734h1M107 734h1M108 734h1M112 734h1M68 735h1M69 735h1M73 735h1M74 735h1M76 735h1M77 735h1M78 735h1M80 735h1M81 735h1M83 735h1M85 735h1M86 735h1M87 735h1M88 735h1M89 735h1M90 735h1M91 735h1M92 735h1M93 735h1M94 735h1M95 735h1M96 735h1M97 735h1M98 735h1M99 735h1M100 735h1M101 735h1M102 735h1M103 735h1M104 735h1M106 735h1M110 735h1M116 735h1M73 736h1M77 736h1M79 736h1M80 736h1M81 736h1M82 736h1M83 736h1M84 736h1M85 736h1M86 736h1M87 736h1M88 736h1M89 736h1M90 736h1M91 736h1M92 736h1M93 736h1M94 736h1M95 736h1M96 736h1M97 736h1M98 736h1M99 736h1M100 736h1M101 736h1M102 736h1M103 736h1M104 736h1M105 736h1M106 736h1M107 736h1M108 736h1M111 736h1M113 736h1M63 737h1M71 737h1M76 737h1M79 737h1M80 737h1M81 737h1M82 737h1M83 737h1M84 737h1M85 737h1M86 737h1M87 737h1M88 737h1M89 737h1M90 737h1M91 737h1M92 737h1M93 737h1M94 737h1M95 737h1M96 737h1M97 737h1M98 737h1M99 737h1M100 737h1M101 737h1M102 737h1M106 737h1M107 737h1M108 737h1M117 737h1M122 737h1M62 738h1M68 738h1M69 738h1M71 738h1M74 738h1M77 738h1M78 738h1M79 738h1M80 738h1M81 738h1M82 738h1M83 738h1M85 738h1M86 738h1M87 738h1M88 738h1M90 738h1M91 738h1M92 738h1M93 738h1M94 738h1M95 738h1M96 738h1M97 738h1M98 738h1M99 738h1M101 738h1M102 738h1M103 738h1M104 738h1M105 738h1M107 738h1M109 738h1M111 738h1M114 738h1M115 738h1M121 738h1M60 739h1M72 739h1M74 739h1M78 739h1M79 739h1M80 739h1M81 739h1M82 739h1M83 739h1M85 739h1M86 739h1M88 739h1M89 739h1M90 739h1M91 739h1M92 739h1M93 739h1M95 739h1M96 739h1M97 739h1M98 739h1M99 739h1M100 739h1M101 739h1M102 739h1M103 739h1M104 739h1M105 739h1M106 739h1M110 739h1M111 739h1M118 739h1M67 740h1M71 740h1M74 740h1M79 740h1M80 740h1M81 740h1M83 740h1M84 740h1M86 740h1M87 740h1M88 740h1M89 740h1M90 740h1M91 740h1M92 740h1M93 740h1M94 740h1M95 740h1M96 740h1M97 740h1M98 740h1M100 740h1M101 740h1M103 740h1M105 740h1M106 740h1M108 740h1M66 741h1M76 741h1M77 741h1M78 741h1M81 741h1M82 741h1M83 741h1M84 741h1M86 741h1M87 741h1M88 741h1M89 741h1M90 741h1M92 741h1M93 741h1M94 741h1M95 741h1M96 741h1M97 741h1M98 741h1M99 741h1M100 741h1M101 741h1M102 741h1M104 741h1M106 741h1M109 741h1M111 741h1M114 741h1M115 741h1M120 741h1M72 742h1M73 742h1M77 742h1M78 742h1M80 742h1M81 742h1M82 742h1M84 742h1M85 742h1M86 742h1M87 742h1M88 742h1M89 742h1M90 742h1M92 742h1M93 742h1M94 742h1M95 742h1M96 742h1M97 742h1M99 742h1M100 742h1M101 742h1M102 742h1M104 742h1M107 742h1M108 742h1M109 742h1M110 742h1M113 742h1M72 743h1M74 743h1M77 743h1M79 743h1M81 743h1M82 743h1M83 743h1M84 743h1M86 743h1M87 743h1M89 743h1M92 743h1M94 743h1M95 743h1M97 743h1M98 743h1M100 743h1M101 743h1M103 743h1M104 743h1M106 743h1M76 744h1M78 744h1M80 744h1M82 744h1M84 744h1M86 744h1M88 744h1M89 744h1M90 744h1M91 744h1M92 744h1M93 744h1M94 744h1M95 744h1M96 744h1M97 744h1M100 744h1M101 744h1M102 744h1M104 744h1M107 744h1M108 744h1M113 744h1M114 744h1M122 744h1M80 745h1M82 745h1M83 745h1M87 745h1M89 745h1M91 745h1M92 745h1M94 745h1M96 745h1M97 745h1M98 745h1M99 745h1M100 745h1M105 745h1M110 745h1M75 746h1M78 746h1M82 746h1M83 746h1M87 746h1M91 746h1M92 746h1M93 746h1M97 746h1M98 746h1M99 746h1M100 746h1M104 746h1M111 746h1M77 747h1M84 747h1M85 747h1M86 747h1M88 747h1M89 747h1M92 747h1M99 747h1M103 747h1M104 747h1M107 747h1M74 748h1M79 748h1M82 748h1M84 748h1M100 748h1M103 748h1M81 749h1M82 749h1M87 749h1M91 749h1M94 749h1M96 749h1M103 749h1M67 750h1M80 750h1M99 750h1M111 750h1M87 752h1M107 752h1M70 753h1M85 753h1M86 753h1M102 755h1M87 756h1M92 756h1M109 756h1M92 757h1M99 758h1M86 760h1" stroke="#111" stroke-opacity="0.78" stroke-width="1"/><path d="M74 715h1M84 717h1M93 718h1M95 718h1M94 719h1M81 720h1M96 720h1M113 720h1M83 721h1M87 721h1M101 721h1M128 721h1M70 722h1M79 722h1M84 722h1M85 722h1M95 722h1M97 722h1M106 722h1M81 723h1M83 723h1M86 723h1M89 723h1M95 723h1M96 723h1M100 723h1M112 723h1M74 724h1M86 724h1M87 724h1M91 724h1M94 724h1M95 724h1M99 724h1M103 724h1M105 724h1M81 725h1M83 725h1M84 725h1M89 725h1M90 725h1M94 725h1M98 725h1M101 725h1M103 725h1M104 725h1M105 725h1M106 725h1M107 725h1M77 726h1M78 726h1M80 726h1M81 726h1M82 726h1M84 726h1M85 726h1M87 726h1M88 726h1M89 726h1M90 726h1M91 726h1M92 726h1M93 726h1M94 726h1M95 726h1M99 726h1M102 726h1M104 726h1M107 726h1M108 726h1M75 727h1M76 727h1M83 727h1M86 727h1M88 727h1M89 727h1M91 727h1M92 727h1M93 727h1M94 727h1M96 727h1M97 727h1M98 727h1M99 727h1M100 727h1M102 727h1M103 727h1M104 727h1M106 727h1M108 727h1M109 727h1M112 727h1M114 727h1M69 728h1M73 728h1M77 728h1M80 728h1M84 728h1M85 728h1M86 728h1M88 728h1M89 728h1M91 728h1M92 728h1M94 728h1M95 728h1M96 728h1M97 728h1M98 728h1M99 728h1M101 728h1M102 728h1M103 728h1M104 728h1M109 728h1M114 728h1M72 729h1M73 729h1M76 729h1M78 729h1M81 729h1M83 729h1M84 729h1M85 729h1M87 729h1M88 729h1M89 729h1M90 729h1M91 729h1M92 729h1M93 729h1M94 729h1M95 729h1M96 729h1M98 729h1M101 729h1M103 729h1M105 729h1M106 729h1M109 729h1M110 729h1M114 729h1M117 729h1M118 729h1M72 730h1M82 730h1M83 730h1M86 730h1M88 730h1M89 730h1M90 730h1M91 730h1M92 730h1M93 730h1M94 730h1M95 730h1M96 730h1M97 730h1M98 730h1M101 730h1M102 730h1M103 730h1M104 730h1M106 730h1M107 730h1M110 730h1M72 731h1M74 731h1M75 731h1M77 731h1M79 731h1M80 731h1M81 731h1M82 731h1M83 731h1M84 731h1M85 731h1M87 731h1M88 731h1M90 731h1M91 731h1M92 731h1M93 731h1M94 731h1M95 731h1M96 731h1M97 731h1M98 731h1M99 731h1M105 731h1M106 731h1M107 731h1M109 731h1M112 731h1M70 732h1M73 732h1M75 732h1M77 732h1M78 732h1M79 732h1M80 732h1M81 732h1M82 732h1M83 732h1M84 732h1M85 732h1M86 732h1M87 732h1M88 732h1M90 732h1M91 732h1M92 732h1M93 732h1M95 732h1M96 732h1M97 732h1M98 732h1M99 732h1M100 732h1M101 732h1M102 732h1M103 732h1M105 732h1M106 732h1M108 732h1M110 732h1M72 733h1M74 733h1M75 733h1M76 733h1M77 733h1M78 733h1M80 733h1M81 733h1M82 733h1M83 733h1M84 733h1M85 733h1M86 733h1M87 733h1M88 733h1M89 733h1M90 733h1M91 733h1M92 733h1M93 733h1M94 733h1M96 733h1M97 733h1M98 733h1M100 733h1M101 733h1M102 733h1M103 733h1M104 733h1M105 733h1M106 733h1M108 733h1M73 734h1M76 734h1M80 734h1M81 734h1M82 734h1M83 734h1M84 734h1M86 734h1M87 734h1M89 734h1M90 734h1M91 734h1M92 734h1M93 734h1M94 734h1M95 734h1M96 734h1M97 734h1M98 734h1M99 734h1M100 734h1M101 734h1M102 734h1M104 734h1M105 734h1M108 734h1M109 734h1M115 734h1M117 734h1M118 734h1M122 734h1M125 734h1M67 735h1M74 735h1M75 735h1M76 735h1M77 735h1M78 735h1M79 735h1M80 735h1M81 735h1M82 735h1M84 735h1M85 735h1M86 735h1M87 735h1M88 735h1M89 735h1M90 735h1M91 735h1M92 735h1M93 735h1M94 735h1M95 735h1M96 735h1M97 735h1M98 735h1M99 735h1M100 735h1M101 735h1M102 735h1M104 735h1M105 735h1M107 735h1M113 735h1M62 736h1M70 736h1M73 736h1M77 736h1M78 736h1M79 736h1M80 736h1M81 736h1M82 736h1M83 736h1M84 736h1M85 736h1M86 736h1M87 736h1M88 736h1M89 736h1M90 736h1M91 736h1M92 736h1M93 736h1M94 736h1M95 736h1M96 736h1M97 736h1M98 736h1M99 736h1M100 736h1M101 736h1M103 736h1M104 736h1M105 736h1M108 736h1M110 736h1M113 736h1M72 737h1M73 737h1M74 737h1M75 737h1M77 737h1M78 737h1M79 737h1M80 737h1M81 737h1M83 737h1M84 737h1M85 737h1M86 737h1M87 737h1M88 737h1M89 737h1M91 737h1M93 737h1M94 737h1M95 737h1M96 737h1M98 737h1M99 737h1M100 737h1M102 737h1M103 737h1M104 737h1M105 737h1M107 737h1M108 737h1M110 737h1M112 737h1M119 737h1M62 738h1M69 738h1M71 738h1M73 738h1M74 738h1M75 738h1M76 738h1M77 738h1M78 738h1M79 738h1M80 738h1M81 738h1M82 738h1M83 738h1M84 738h1M85 738h1M86 738h1M87 738h1M88 738h1M89 738h1M90 738h1M91 738h1M92 738h1M93 738h1M95 738h1M96 738h1M97 738h1M98 738h1M99 738h1M101 738h1M102 738h1M103 738h1M104 738h1M105 738h1M106 738h1M107 738h1M108 738h1M109 738h1M110 738h1M68 739h1M71 739h1M72 739h1M73 739h1M77 739h1M78 739h1M79 739h1M80 739h1M81 739h1M82 739h1M83 739h1M85 739h1M86 739h1M87 739h1M88 739h1M89 739h1M90 739h1M91 739h1M92 739h1M93 739h1M94 739h1M95 739h1M96 739h1M97 739h1M98 739h1M99 739h1M100 739h1M101 739h1M102 739h1M105 739h1M106 739h1M113 739h1M68 740h1M74 740h1M75 740h1M76 740h1M77 740h1M78 740h1M79 740h1M81 740h1M82 740h1M83 740h1M84 740h1M85 740h1M86 740h1M87 740h1M88 740h1M89 740h1M90 740h1M91 740h1M92 740h1M93 740h1M94 740h1M95 740h1M96 740h1M97 740h1M99 740h1M100 740h1M101 740h1M103 740h1M104 740h1M106 740h1M109 740h1M119 740h1M130 740h1M65 741h1M67 741h1M72 741h1M76 741h1M79 741h1M80 741h1M81 741h1M82 741h1M83 741h1M84 741h1M85 741h1M86 741h1M87 741h1M88 741h1M89 741h1M90 741h1M91 741h1M92 741h1M93 741h1M94 741h1M95 741h1M96 741h1M98 741h1M100 741h1M101 741h1M102 741h1M103 741h1M107 741h1M70 742h1M71 742h1M73 742h1M76 742h1M79 742h1M80 742h1M81 742h1M82 742h1M84 742h1M85 742h1M86 742h1M87 742h1M88 742h1M89 742h1M90 742h1M91 742h1M93 742h1M94 742h1M95 742h1M97 742h1M98 742h1M99 742h1M100 742h1M101 742h1M108 742h1M110 742h1M112 742h1M114 742h1M115 742h1M72 743h1M74 743h1M80 743h1M82 743h1M83 743h1M84 743h1M86 743h1M87 743h1M88 743h1M89 743h1M90 743h1M91 743h1M92 743h1M93 743h1M94 743h1M96 743h1M97 743h1M98 743h1M99 743h1M100 743h1M106 743h1M76 744h1M78 744h1M79 744h1M80 744h1M82 744h1M84 744h1M85 744h1M87 744h1M89 744h1M91 744h1M92 744h1M95 744h1M97 744h1M100 744h1M102 744h1M103 744h1M104 744h1M106 744h1M108 744h1M110 744h1M115 744h1M125 744h1M68 745h1M75 745h1M82 745h1M83 745h1M86 745h1M87 745h1M88 745h1M89 745h1M90 745h1M91 745h1M94 745h1M95 745h1M96 745h1M98 745h1M99 745h1M100 745h1M101 745h1M103 745h1M104 745h1M108 745h1M111 745h1M79 746h1M80 746h1M82 746h1M83 746h1M86 746h1M87 746h1M89 746h1M90 746h1M91 746h1M92 746h1M93 746h1M94 746h1M95 746h1M96 746h1M100 746h1M101 746h1M59 747h1M75 747h1M81 747h1M84 747h1M87 747h1M88 747h1M89 747h1M91 747h1M93 747h1M94 747h1M98 747h1M99 747h1M105 747h1M111 747h1M82 748h1M83 748h1M84 748h1M92 748h1M93 748h1M96 748h1M105 748h1M110 748h1M117 748h1M75 749h1M77 749h1M81 749h1M83 749h1M85 749h1M86 749h1M94 749h1M96 749h1M99 749h1M106 749h1M88 750h1M89 750h1M90 750h1M106 750h1M107 750h1M109 750h1M84 751h1M86 751h1M92 751h1M94 751h1M99 751h1M80 752h1M83 752h1M97 752h1M100 752h1M84 753h1M98 753h1M118 753h1M95 754h1M101 755h1M76 756h1M83 756h1M87 761h1" stroke="#111" stroke-opacity="0.78" stroke-width="1"/><path d="M85 716h1M93 716h1M101 716h1M95 717h1M98 717h1M100 717h1M91 719h1M81 720h1M104 720h1M80 721h1M82 721h1M106 721h1M95 722h1M103 722h1M73 723h1M76 723h1M81 723h1M85 723h1M86 723h1M87 723h1M91 723h1M92 723h1M94 723h1M105 723h1M106 723h1M119 723h1M76 724h1M84 724h1M86 724h1M88 724h1M90 724h1M93 724h1M94 724h1M96 724h1M101 724h1M102 724h1M106 724h1M73 725h1M75 725h1M80 725h1M83 725h1M84 725h1M86 725h1M87 725h1M89 725h1M90 725h1M91 725h1M92 725h1M93 725h1M94 725h1M99 725h1M108 725h1M117 725h1M73 726h1M74 726h1M78 726h1M80 726h1M81 726h1M82 726h1M84 726h1M85 726h1M86 726h1M87 726h1M89 726h1M91 726h1M92 726h1M93 726h1M99 726h1M100 726h1M108 726h1M67 727h1M71 727h1M75 727h1M78 727h1M81 727h1M82 727h1M83 727h1M87 727h1M90 727h1M91 727h1M92 727h1M93 727h1M94 727h1M96 727h1M97 727h1M98 727h1M99 727h1M100 727h1M101 727h1M111 727h1M74 728h1M77 728h1M81 728h1M82 728h1M83 728h1M84 728h1M85 728h1M86 728h1M88 728h1M89 728h1M90 728h1M94 728h1M95 728h1M96 728h1M97 728h1M98 728h1M102 728h1M105 728h1M112 728h1M115 728h1M120 728h1M59 729h1M70 729h1M71 729h1M72 729h1M74 729h1M79 729h1M81 729h1M82 729h1M85 729h1M86 729h1M87 729h1M89 729h1M90 729h1M91 729h1M92 729h1M93 729h1M95 729h1M96 729h1M97 729h1M98 729h1M101 729h1M102 729h1M103 729h1M105 729h1M107 729h1M109 729h1M110 729h1M115 729h1M73 730h1M74 730h1M76 730h1M78 730h1M80 730h1M81 730h1M82 730h1M83 730h1M85 730h1M86 730h1M87 730h1M88 730h1M89 730h1M90 730h1M91 730h1M92 730h1M93 730h1M94 730h1M95 730h1M96 730h1M97 730h1M99 730h1M100 730h1M101 730h1M102 730h1M103 730h1M104 730h1M105 730h1M109 730h1M111 730h1M65 731h1M69 731h1M72 731h1M75 731h1M76 731h1M77 731h1M78 731h1M79 731h1M81 731h1M83 731h1M84 731h1M85 731h1M86 731h1M87 731h1M88 731h1M89 731h1M93 731h1M94 731h1M95 731h1M96 731h1M98 731h1M99 731h1M100 731h1M101 731h1M102 731h1M103 731h1M104 731h1M105 731h1M106 731h1M108 731h1M109 731h1M112 731h1M114 731h1M77 732h1M78 732h1M80 732h1M81 732h1M82 732h1M83 732h1M84 732h1M85 732h1M86 732h1M87 732h1M88 732h1M89 732h1M90 732h1M91 732h1M92 732h1M93 732h1M94 732h1M96 732h1M97 732h1M99 732h1M100 732h1M102 732h1M105 732h1M109 732h1M112 732h1M117 732h1M67 733h1M68 733h1M71 733h1M72 733h1M75 733h1M77 733h1M78 733h1M79 733h1M80 733h1M81 733h1M82 733h1M83 733h1M84 733h1M85 733h1M86 733h1M87 733h1M88 733h1M89 733h1M90 733h1M91 733h1M92 733h1M93 733h1M94 733h1M95 733h1M96 733h1M97 733h1M99 733h1M100 733h1M101 733h1M102 733h1M103 733h1M104 733h1M106 733h1M107 733h1M108 733h1M110 733h1M72 734h1M73 734h1M74 734h1M79 734h1M80 734h1M81 734h1M82 734h1M83 734h1M84 734h1M85 734h1M87 734h1M88 734h1M89 734h1M90 734h1M91 734h1M92 734h1M93 734h1M94 734h1M95 734h1M96 734h1M97 734h1M98 734h1M100 734h1M101 734h1M102 734h1M103 734h1M105 734h1M106 734h1M107 734h1M111 734h1M113 734h1M70 735h1M75 735h1M76 735h1M77 735h1M78 735h1M79 735h1M81 735h1M82 735h1M83 735h1M84 735h1M85 735h1M86 735h1M87 735h1M88 735h1M89 735h1M90 735h1M91 735h1M92 735h1M93 735h1M94 735h1M95 735h1M96 735h1M97 735h1M100 735h1M101 735h1M102 735h1M103 735h1M104 735h1M105 735h1M106 735h1M107 735h1M122 735h1M123 735h1M68 736h1M70 736h1M74 736h1M75 736h1M76 736h1M77 736h1M78 736h1M79 736h1M80 736h1M81 736h1M82 736h1M83 736h1M84 736h1M85 736h1M86 736h1M87 736h1M88 736h1M89 736h1M90 736h1M91 736h1M92 736h1M93 736h1M94 736h1M95 736h1M96 736h1M97 736h1M98 736h1M99 736h1M100 736h1M101 736h1M102 736h1M103 736h1M104 736h1M105 736h1M106 736h1M107 736h1M110 736h1M112 736h1M114 736h1M123 736h1M71 737h1M75 737h1M77 737h1M79 737h1M80 737h1M82 737h1M83 737h1M85 737h1M86 737h1M87 737h1M88 737h1M89 737h1M90 737h1M91 737h1M93 737h1M94 737h1M95 737h1M96 737h1M97 737h1M98 737h1M99 737h1M100 737h1M101 737h1M102 737h1M103 737h1M104 737h1M106 737h1M107 737h1M112 737h1M57 738h1M67 738h1M75 738h1M77 738h1M78 738h1M79 738h1M81 738h1M83 738h1M84 738h1M85 738h1M86 738h1M87 738h1M88 738h1M89 738h1M90 738h1M91 738h1M92 738h1M93 738h1M94 738h1M95 738h1M96 738h1M97 738h1M98 738h1M99 738h1M100 738h1M102 738h1M103 738h1M105 738h1M110 738h1M111 738h1M113 738h1M118 738h1M58 739h1M74 739h1M76 739h1M77 739h1M79 739h1M80 739h1M82 739h1M83 739h1M84 739h1M86 739h1M87 739h1M88 739h1M89 739h1M90 739h1M91 739h1M92 739h1M93 739h1M94 739h1M95 739h1M96 739h1M97 739h1M98 739h1M100 739h1M101 739h1M102 739h1M103 739h1M104 739h1M106 739h1M107 739h1M110 739h1M111 739h1M112 739h1M115 739h1M76 740h1M78 740h1M79 740h1M81 740h1M82 740h1M84 740h1M85 740h1M87 740h1M88 740h1M89 740h1M90 740h1M91 740h1M92 740h1M94 740h1M95 740h1M96 740h1M97 740h1M98 740h1M99 740h1M101 740h1M102 740h1M103 740h1M105 740h1M106 740h1M109 740h1M111 740h1M113 740h1M71 741h1M74 741h1M78 741h1M79 741h1M83 741h1M84 741h1M86 741h1M89 741h1M90 741h1M91 741h1M93 741h1M94 741h1M95 741h1M97 741h1M98 741h1M99 741h1M101 741h1M102 741h1M107 741h1M108 741h1M113 741h1M114 741h1M79 742h1M80 742h1M81 742h1M82 742h1M85 742h1M86 742h1M88 742h1M89 742h1M90 742h1M92 742h1M93 742h1M95 742h1M96 742h1M97 742h1M99 742h1M101 742h1M104 742h1M106 742h1M107 742h1M108 742h1M109 742h1M110 742h1M112 742h1M64 743h1M72 743h1M79 743h1M80 743h1M81 743h1M82 743h1M85 743h1M86 743h1M89 743h1M90 743h1M91 743h1M92 743h1M93 743h1M94 743h1M95 743h1M96 743h1M97 743h1M98 743h1M99 743h1M101 743h1M107 743h1M111 743h1M69 744h1M77 744h1M78 744h1M82 744h1M83 744h1M85 744h1M86 744h1M87 744h1M88 744h1M89 744h1M90 744h1M91 744h1M92 744h1M93 744h1M95 744h1M96 744h1M97 744h1M99 744h1M100 744h1M101 744h1M103 744h1M105 744h1M58 745h1M70 745h1M76 745h1M78 745h1M81 745h1M84 745h1M85 745h1M89 745h1M91 745h1M92 745h1M93 745h1M94 745h1M98 745h1M100 745h1M101 745h1M102 745h1M103 745h1M107 745h1M108 745h1M114 745h1M115 745h1M70 746h1M72 746h1M73 746h1M77 746h1M80 746h1M87 746h1M89 746h1M90 746h1M91 746h1M93 746h1M98 746h1M99 746h1M100 746h1M104 746h1M107 746h1M108 746h1M111 746h1M119 746h1M65 747h1M78 747h1M80 747h1M82 747h1M85 747h1M87 747h1M88 747h1M89 747h1M98 747h1M99 747h1M101 747h1M103 747h1M107 747h1M114 747h1M83 748h1M84 748h1M85 748h1M88 748h1M90 748h1M91 748h1M93 748h1M95 748h1M100 748h1M103 748h1M111 748h1M68 749h1M77 749h1M82 749h1M84 749h1M85 749h1M86 749h1M87 749h1M91 749h1M92 749h1M99 749h1M103 749h1M86 750h1M95 750h1M98 750h1M100 750h1M101 750h1M72 751h1M82 751h1M83 751h1M86 751h1M88 751h1M96 751h1M97 751h1M82 752h1M83 752h1M89 752h1M78 754h1M113 755h1M78 756h1" stroke="#111" stroke-opacity="0.78" stroke-width="1"/><path d="M114 752h1M106 755h1M115 755h1M108 758h1M117 758h1M113 759h1M119 759h1M99 760h1M109 760h1M115 760h1M106 761h1M110 761h1M111 761h1M115 761h1M116 761h1M117 761h1M122 761h1M108 762h1M111 762h1M115 762h1M107 763h1M109 763h1M114 763h1M115 763h1M118 763h1M104 764h1M106 764h1M107 764h1M110 764h1M112 764h1M114 764h1M116 764h1M119 764h1M104 765h1M105 765h1M106 765h1M109 765h1M110 765h1M111 765h1M112 765h1M113 765h1M114 765h1M115 765h1M116 765h1M117 765h1M118 765h1M107 766h1M108 766h1M110 766h1M111 766h1M112 766h1M113 766h1M115 766h1M117 766h1M103 767h1M109 767h1M110 767h1M111 767h1M112 767h1M113 767h1M115 767h1M117 767h1M118 767h1M107 768h1M108 768h1M109 768h1M110 768h1M111 768h1M113 768h1M114 768h1M115 768h1M118 768h1M123 768h1M105 769h1M106 769h1M108 769h1M111 769h1M112 769h1M113 769h1M114 769h1M115 769h1M121 769h1M122 769h1M103 770h1M105 770h1M108 770h1M109 770h1M110 770h1M111 770h1M113 770h1M114 770h1M119 770h1M97 771h1M105 771h1M109 771h1M113 771h1M115 771h1M117 771h1M118 771h1M125 771h1M103 772h1M107 772h1M108 772h1M110 772h1M112 772h1M116 772h1M121 772h1M107 773h1M109 773h1M110 773h1M112 773h1M114 773h1M118 773h1M120 773h1M121 773h1M124 773h1M103 774h1M107 774h1M108 774h1M109 774h1M110 774h1M111 774h1M112 774h1M113 774h1M114 774h1M115 774h1M116 774h1M118 774h1M121 774h1M104 775h1M107 775h1M109 775h1M107 776h1M108 776h1M111 776h1M113 776h1M121 776h1M109 777h1M111 777h1M112 777h1M113 777h1M114 777h1M102 778h1M121 778h1M108 779h1M115 779h1" stroke="#111" stroke-opacity="0.68" stroke-width="1"/><path d="M115 755h1M119 755h1M122 755h1M109 756h1M114 756h1M119 756h1M97 758h1M102 759h1M114 759h1M118 759h1M99 760h1M111 760h1M116 760h1M121 760h1M105 761h1M106 761h1M110 761h1M111 761h1M112 761h1M113 761h1M114 761h1M107 762h1M108 762h1M110 762h1M111 762h1M113 762h1M114 762h1M115 762h1M117 762h1M106 763h1M108 763h1M111 763h1M112 763h1M113 763h1M117 763h1M105 764h1M109 764h1M111 764h1M112 764h1M113 764h1M114 764h1M115 764h1M117 764h1M120 764h1M124 764h1M103 765h1M107 765h1M108 765h1M109 765h1M110 765h1M111 765h1M112 765h1M114 765h1M115 765h1M119 765h1M121 765h1M107 766h1M108 766h1M109 766h1M111 766h1M112 766h1M113 766h1M114 766h1M115 766h1M104 767h1M105 767h1M106 767h1M110 767h1M111 767h1M112 767h1M113 767h1M115 767h1M116 767h1M117 767h1M118 767h1M122 767h1M108 768h1M109 768h1M110 768h1M111 768h1M113 768h1M114 768h1M115 768h1M117 768h1M118 768h1M119 768h1M100 769h1M106 769h1M108 769h1M110 769h1M111 769h1M112 769h1M113 769h1M114 769h1M117 769h1M119 769h1M120 769h1M106 770h1M108 770h1M110 770h1M112 770h1M113 770h1M114 770h1M117 770h1M118 770h1M105 771h1M106 771h1M108 771h1M110 771h1M111 771h1M112 771h1M116 771h1M105 772h1M106 772h1M108 772h1M112 772h1M113 772h1M115 772h1M120 772h1M122 772h1M110 773h1M111 773h1M113 773h1M117 773h1M106 774h1M108 774h1M110 774h1M112 774h1M114 774h1M108 775h1M109 775h1M110 775h1M112 775h1M115 775h1M117 775h1M118 775h1M119 775h1M106 776h1M108 776h1M109 776h1M110 776h1M111 776h1M112 776h1M113 776h1M114 776h1M118 776h1M121 776h1M107 777h1M111 777h1M113 777h1M117 777h1M105 778h1M112 778h1M118 779h1M120 779h1M103 780h1M111 780h1M119 780h1" stroke="#111" stroke-opacity="0.68" stroke-width="1"/><path d="M111 755h1M112 755h1M112 757h1M120 757h1M113 758h1M101 759h1M111 759h1M113 759h1M114 759h1M116 759h1M110 760h1M118 760h1M123 760h1M109 761h1M111 761h1M113 761h1M105 762h1M109 762h1M112 762h1M114 762h1M116 762h1M118 762h1M108 763h1M109 763h1M110 763h1M111 763h1M113 763h1M114 763h1M117 763h1M118 763h1M106 764h1M107 764h1M109 764h1M111 764h1M112 764h1M114 764h1M115 764h1M117 764h1M118 764h1M107 765h1M111 765h1M112 765h1M115 765h1M121 765h1M106 766h1M107 766h1M110 766h1M112 766h1M114 766h1M115 766h1M116 766h1M118 766h1M119 766h1M107 767h1M108 767h1M109 767h1M110 767h1M111 767h1M112 767h1M113 767h1M114 767h1M115 767h1M116 767h1M118 767h1M120 767h1M103 768h1M104 768h1M105 768h1M106 768h1M109 768h1M110 768h1M111 768h1M112 768h1M113 768h1M114 768h1M115 768h1M117 768h1M120 768h1M105 769h1M106 769h1M107 769h1M110 769h1M111 769h1M113 769h1M118 769h1M119 769h1M121 769h1M101 770h1M103 770h1M108 770h1M109 770h1M112 770h1M113 770h1M114 770h1M117 770h1M108 771h1M109 771h1M110 771h1M111 771h1M112 771h1M113 771h1M114 771h1M115 771h1M118 771h1M119 771h1M106 772h1M108 772h1M109 772h1M111 772h1M115 772h1M117 772h1M119 772h1M108 773h1M109 773h1M111 773h1M112 773h1M113 773h1M116 773h1M108 774h1M109 774h1M111 774h1M112 774h1M115 774h1M119 774h1M108 775h1M110 775h1M112 775h1M115 775h1M116 775h1M121 775h1M111 776h1M112 776h1M117 776h1M121 776h1M106 777h1M111 777h1M107 778h1M107 780h1M110 780h1M111 780h1M119 781h1M106 782h1" stroke="#111" stroke-opacity="0.68" stroke-width="1"/><path d="M81 711h1M98 713h1M130 717h1M52 719h1M101 721h1M78 723h1M105 726h1M80 728h1M88 728h1M118 728h1M95 729h1M106 729h1M104 731h1M79 732h1M111 733h1M57 734h1M90 734h1M99 734h1M92 735h1M69 736h1M53 737h1M123 737h1M74 738h1M108 738h1M81 740h1M111 740h1M126 740h1M88 741h1M108 741h1M126 741h1M96 743h1M76 744h1M93 744h1M89 745h1M76 747h1M96 747h1M97 747h1M84 749h1M85 749h1M102 749h1M112 749h1M78 750h1M92 750h1M95 750h1M106 750h1M107 750h1M70 752h1M96 752h1M98 752h1M106 752h1M108 752h1M76 753h1M140 753h1M60 754h1M114 754h1M115 754h1M75 755h1M86 755h1M90 755h1M92 755h1M94 755h1M95 755h1M101 757h1M102 757h1M110 757h1M100 759h1M104 759h1M108 759h1M123 759h1M72 760h1M85 760h1M107 760h1M109 761h1M115 761h1M103 762h1M105 762h1M90 763h1M99 763h1M100 763h1M113 763h1M117 763h1M94 764h1M96 764h1M100 764h1M101 764h1M106 764h1M111 764h1M113 764h1M90 765h1M92 765h1M97 765h1M98 765h1M104 765h1M120 765h1M78 766h1M79 766h1M80 766h1M104 766h1M114 766h1M100 767h1M80 768h1M97 768h1M102 768h1M122 768h1M95 769h1M101 769h1M103 769h1M104 769h1M93 771h1M98 771h1M119 771h1M101 772h1M109 772h1M125 772h1M94 773h1M127 773h1M95 774h1M114 774h1M101 775h1M101 776h1M108 776h1M111 776h1M92 777h1M107 777h1M120 778h1M89 782h1" stroke="#111" stroke-opacity="0.5" stroke-width="1"/><path d="M102 707h1M109 716h1M79 720h1M76 723h1M100 723h1M102 723h1M120 724h1M78 725h1M83 725h1M93 725h1M101 725h1M86 726h1M101 727h1M85 728h1M96 729h1M90 730h1M92 730h1M112 731h1M91 732h1M92 732h1M79 733h1M90 733h1M100 734h1M73 735h1M80 736h1M88 736h1M61 738h1M76 738h1M108 738h1M78 739h1M100 739h1M88 741h1M90 741h1M96 741h1M88 742h1M116 742h1M118 742h1M121 742h1M81 743h1M91 743h1M81 745h1M91 745h1M99 745h1M114 745h1M118 745h1M94 746h1M112 746h1M83 747h1M93 747h1M94 747h1M80 748h1M83 748h1M96 748h1M99 748h1M114 748h1M75 749h1M96 749h1M101 749h1M114 749h1M123 749h1M91 750h1M95 750h1M61 751h1M94 751h1M96 751h1M101 751h1M95 752h1M106 752h1M90 753h1M97 753h1M100 753h1M104 753h1M105 753h1M81 754h1M94 754h1M95 754h1M99 754h1M112 754h1M74 755h1M96 755h1M113 755h1M93 756h1M104 756h1M109 756h1M88 757h1M106 757h1M79 758h1M100 758h1M105 758h1M95 759h1M114 759h1M63 760h1M93 760h1M99 760h1M107 760h1M113 760h1M116 760h1M79 761h1M103 761h1M121 761h1M105 762h1M115 762h1M121 762h1M61 763h1M77 763h1M114 763h1M120 763h1M87 764h1M90 764h1M98 764h1M104 764h1M84 765h1M87 765h1M91 765h1M95 765h1M102 765h1M84 766h1M96 766h1M102 766h1M128 766h1M101 767h1M102 767h1M111 767h1M96 768h1M109 768h1M110 768h1M86 769h1M91 769h1M102 769h1M108 769h1M111 769h1M114 769h1M121 769h1M88 770h1M89 770h1M102 771h1M109 771h1M100 772h1M117 772h1M96 774h1M93 775h1M96 777h1M99 777h1M100 777h1M101 777h1M104 777h1M90 778h1M78 779h1M109 781h1" stroke="#111" stroke-opacity="0.5" stroke-width="1"/><path d="M90 712h1M62 722h1M118 723h1M90 727h1M123 727h1M104 728h1M67 729h1M94 729h1M103 729h1M98 730h1M102 731h1M80 732h1M90 732h1M100 732h1M84 733h1M88 733h1M99 733h1M100 733h1M70 734h1M105 734h1M68 736h1M96 736h1M98 736h1M90 737h1M99 737h1M105 737h1M87 738h1M101 738h1M110 738h1M72 739h1M83 739h1M89 739h1M109 739h1M117 739h1M104 740h1M83 741h1M103 743h1M114 743h1M118 743h1M97 744h1M99 744h1M84 745h1M85 745h1M88 745h1M79 747h1M99 747h1M86 748h1M90 748h1M93 748h1M100 748h1M77 749h1M99 749h1M107 749h1M116 749h1M79 750h1M88 750h1M92 750h1M104 750h1M106 750h1M98 751h1M110 751h1M114 751h1M106 752h1M114 752h1M82 754h1M100 754h1M89 756h1M111 756h1M129 756h1M79 757h1M112 757h1M88 758h1M106 758h1M76 759h1M85 759h1M103 759h1M111 759h1M114 759h1M74 760h1M91 760h1M107 760h1M79 761h1M102 761h1M131 761h1M105 762h1M112 762h1M84 763h1M93 763h1M104 763h1M80 764h1M87 764h1M91 764h1M100 764h1M117 764h1M75 765h1M99 765h1M100 765h1M101 765h1M116 765h1M95 766h1M102 766h1M106 766h1M78 767h1M100 767h1M101 767h1M108 767h1M88 768h1M90 768h1M102 768h1M111 768h1M89 769h1M104 770h1M108 770h1M69 771h1M84 771h1M94 772h1M100 772h1M103 772h1M82 773h1M92 773h1M104 773h1M102 774h1M110 774h1M99 775h1M104 775h1M114 775h1M99 776h1M105 776h1M114 776h1M102 779h1M93 780h1" stroke="#111" stroke-opacity="0.5" stroke-width="1"/></g>
<path d="M33.5 661.5H164.5V783.5" fill="none" stroke="#6a6a6a" stroke-width="1"/>
<path d="M33.5 661.5V783.5H164.5" fill="none" stroke="#555" stroke-width="1"/>
<path d="M66.40 661.50L66.40 785.50" stroke="#333" stroke-width="1.3"/>
<path d="M33.50 753.50L164.50 753.50" stroke="#1a1a1a" stroke-width="1.2"/>
<text x="34.40" y="667.50" font-size="5.6" fill="#333" class="n">O1</text>
<text x="67.20" y="667.50" font-size="5.6" fill="#333" class="n">O2</text>
<text x="34.40" y="759.80" font-size="5.6" fill="#333" class="n">O3</text>
<text x="67.20" y="759.80" font-size="5.6" fill="#333" class="n">O4</text>
<text class="n" x="63.35" y="793.40" font-size="4.6" fill="#444">10<tspan font-size="3" dy="-1.8">1</tspan></text>
<text class="n" x="21.60" y="754.62" font-size="4.6" fill="#444">10<tspan font-size="3" dy="-1.8">1</tspan></text>
<text class="n" x="96.10" y="793.40" font-size="4.6" fill="#444">10<tspan font-size="3" dy="-1.8">2</tspan></text>
<text class="n" x="21.60" y="724.15" font-size="4.6" fill="#444">10<tspan font-size="3" dy="-1.8">2</tspan></text>
<text class="n" x="128.85" y="793.40" font-size="4.6" fill="#444">10<tspan font-size="3" dy="-1.8">3</tspan></text>
<text class="n" x="21.60" y="693.68" font-size="4.6" fill="#444">10<tspan font-size="3" dy="-1.8">3</tspan></text>
<text class="n" x="161.60" y="793.40" font-size="4.6" fill="#444">10<tspan font-size="3" dy="-1.8">4</tspan></text>
<text class="n" x="21.60" y="663.20" font-size="4.6" fill="#444">10<tspan font-size="3" dy="-1.8">4</tspan></text>
<text x="42.30" y="654.70" font-size="10.3">AMD3100-mobilized cells</text>
<text transform="translate(12.90,724.50) rotate(-90)" font-size="10.4" text-anchor="middle">VLA-4 (FL1)</text>
<text x="72.60" y="815.70" font-size="10.4">CD34 (FL2)</text>
<text x="137.50" y="676.70" font-size="10.1">89%</text>
<text x="138.50" y="769.00" font-size="10.1">11%</text>
<path d="M210.50 784.60v5M210.50 784.60h-5M220.37 784.60v3M210.50 775.40h-3M226.14 784.60v3M210.50 770.01h-3M230.23 784.60v3M210.50 766.19h-3M233.41 784.60v3M210.50 763.23h-3M236.00 784.60v3M210.50 760.81h-3M238.20 784.60v3M210.50 758.76h-3M240.10 784.60v3M210.50 756.99h-3M241.78 784.60v3M210.50 755.42h-3M243.28 784.60v5M210.50 754.02h-5M253.14 784.60v3M210.50 744.82h-3M258.91 784.60v3M210.50 739.44h-3M263.01 784.60v3M210.50 735.62h-3M266.18 784.60v3M210.50 732.65h-3M268.78 784.60v3M210.50 730.23h-3M270.97 784.60v3M210.50 728.19h-3M272.87 784.60v3M210.50 726.41h-3M274.55 784.60v3M210.50 724.85h-3M276.05 784.60v5M210.50 723.45h-5M285.92 784.60v3M210.50 714.25h-3M291.69 784.60v3M210.50 708.86h-3M295.78 784.60v3M210.50 705.04h-3M298.96 784.60v3M210.50 702.08h-3M301.55 784.60v3M210.50 699.66h-3M303.75 784.60v3M210.50 697.61h-3M305.65 784.60v3M210.50 695.84h-3M307.33 784.60v3M210.50 694.27h-3M308.83 784.60v5M210.50 692.88h-5M318.69 784.60v3M210.50 683.67h-3M324.46 784.60v3M210.50 678.29h-3M328.56 784.60v3M210.50 674.47h-3M331.73 784.60v3M210.50 671.50h-3M334.33 784.60v3M210.50 669.08h-3M336.52 784.60v3M210.50 667.04h-3M338.42 784.60v3M210.50 665.26h-3M340.10 784.60v3M210.50 663.70h-3M341.60 784.60v5M210.50 662.30h-5" stroke="#666" stroke-width="0.75"/>
<g shape-rendering="crispEdges" transform="translate(0,0.5)" ><path d="M267 720h1M276 721h1M264 722h1M273 722h1M257 725h1M268 725h1M272 725h1M273 726h1M274 726h1M275 726h1M263 727h1M271 727h1M274 727h1M275 727h1M276 727h1M282 727h1M265 728h1M270 728h1M271 728h1M273 728h1M280 728h1M264 729h1M270 729h1M271 729h1M273 729h1M277 729h1M278 729h1M279 729h1M263 730h1M266 730h1M270 730h1M273 730h1M275 730h1M277 730h1M278 730h1M282 730h1M256 731h1M263 731h1M268 731h1M269 731h1M271 731h1M273 731h1M274 731h1M277 731h1M279 731h1M288 731h1M256 732h1M257 732h1M261 732h1M265 732h1M266 732h1M267 732h1M268 732h1M269 732h1M270 732h1M271 732h1M272 732h1M274 732h1M279 732h1M280 732h1M253 733h1M260 733h1M263 733h1M265 733h1M266 733h1M267 733h1M268 733h1M270 733h1M272 733h1M273 733h1M275 733h1M277 733h1M278 733h1M279 733h1M280 733h1M284 733h1M260 734h1M262 734h1M264 734h1M267 734h1M268 734h1M270 734h1M273 734h1M274 734h1M275 734h1M277 734h1M282 734h1M257 735h1M258 735h1M262 735h1M263 735h1M265 735h1M266 735h1M272 735h1M273 735h1M274 735h1M277 735h1M265 736h1M273 736h1M274 736h1M275 736h1M284 736h1M264 737h1M265 737h1M270 737h1M271 737h1M276 737h1M277 737h1M289 737h1M260 738h1M266 738h1M267 738h1M275 738h1M284 738h1M259 739h1M267 739h1M268 739h1M270 739h1M272 739h1M275 739h1M265 740h1M269 740h1M274 740h1M285 740h1M272 741h1M278 741h1M269 742h1M270 742h1M272 743h1M278 743h1M288 754h1M287 755h1M279 756h1M292 757h1M286 758h1M291 758h1M283 759h1M286 759h1M289 759h1M288 760h1M291 760h1M278 761h1M283 761h1M289 761h1M297 761h1M278 762h1M289 762h1M290 762h1M291 762h1M292 762h1M276 763h1M278 763h1M279 763h1M282 763h1M286 763h1M287 763h1M288 763h1M296 763h1M280 764h1M286 764h1M278 765h1M282 765h1M283 765h1M285 765h1M287 765h1M290 765h1M293 765h1M298 765h1M280 766h1M282 766h1M291 766h1M293 766h1M298 766h1M280 767h1M281 767h1M283 767h1M284 767h1M286 767h1M289 767h1M298 767h1M280 768h1M281 768h1M283 768h1M284 768h1M286 768h1M287 768h1M288 768h1M292 768h1M295 768h1M277 769h1M280 769h1M282 769h1M283 769h1M285 769h1M287 769h1M288 769h1M289 769h1M290 769h1M291 769h1M292 769h1M293 769h1M294 769h1M275 770h1M281 770h1M284 770h1M286 770h1M287 770h1M290 770h1M291 770h1M293 770h1M279 771h1M282 771h1M283 771h1M284 771h1M285 771h1M287 771h1M293 771h1M277 772h1M282 772h1M287 772h1M288 772h1M289 772h1M296 772h1M277 773h1M280 773h1M282 773h1M284 773h1M287 773h1M289 773h1M294 773h1M295 773h1M279 774h1M281 774h1M284 774h1M290 774h1M292 774h1M278 775h1M287 775h1M289 775h1M290 775h1M292 775h1M285 776h1M290 776h1M292 776h1M294 776h1M272 777h1M285 777h1M288 777h1M289 777h1M293 777h1M286 778h1M288 778h1M294 778h1M281 779h1M289 781h1M288 782h1M293 782h1M295 782h1M284 783h1" stroke="#111" stroke-opacity="0.78" stroke-width="1"/><path d="M272 716h1M278 719h1M272 722h1M274 722h1M260 724h1M271 724h1M272 724h1M258 725h1M261 725h1M267 725h1M276 725h1M277 725h1M279 725h1M266 726h1M267 726h1M270 726h1M279 726h1M260 727h1M261 727h1M264 727h1M267 727h1M269 727h1M271 727h1M272 727h1M276 727h1M277 727h1M264 728h1M268 728h1M271 728h1M272 728h1M273 728h1M270 729h1M271 729h1M277 729h1M263 730h1M265 730h1M270 730h1M272 730h1M273 730h1M274 730h1M275 730h1M277 730h1M266 731h1M267 731h1M268 731h1M272 731h1M274 731h1M276 731h1M277 731h1M280 731h1M266 732h1M267 732h1M270 732h1M271 732h1M273 732h1M280 732h1M266 733h1M268 733h1M269 733h1M271 733h1M274 733h1M275 733h1M276 733h1M277 733h1M255 734h1M258 734h1M261 734h1M265 734h1M266 734h1M272 734h1M273 734h1M275 734h1M276 734h1M278 734h1M279 734h1M280 734h1M282 734h1M262 735h1M267 735h1M268 735h1M271 735h1M272 735h1M274 735h1M275 735h1M276 735h1M278 735h1M261 736h1M262 736h1M270 736h1M271 736h1M281 736h1M257 737h1M262 737h1M263 737h1M267 737h1M268 737h1M270 737h1M272 737h1M273 737h1M275 737h1M262 738h1M266 738h1M267 738h1M271 738h1M283 738h1M262 739h1M270 739h1M273 739h1M274 739h1M277 739h1M278 739h1M281 739h1M278 740h1M264 741h1M266 741h1M269 741h1M274 741h1M278 741h1M263 742h1M267 742h1M271 743h1M260 746h1M267 746h1M292 752h1M298 755h1M287 757h1M279 758h1M284 759h1M292 760h1M286 761h1M276 762h1M279 762h1M283 762h1M286 762h1M289 762h1M296 762h1M286 763h1M287 763h1M277 764h1M278 764h1M289 764h1M283 765h1M286 765h1M289 765h1M292 765h1M285 766h1M287 766h1M291 766h1M280 767h1M285 767h1M293 767h1M282 768h1M284 768h1M289 768h1M290 768h1M293 768h1M298 768h1M281 769h1M282 769h1M283 769h1M286 769h1M289 769h1M291 769h1M294 769h1M295 769h1M277 770h1M281 770h1M286 771h1M288 771h1M295 771h1M279 772h1M282 772h1M284 772h1M286 772h1M287 772h1M291 772h1M292 772h1M296 772h1M282 773h1M283 773h1M284 773h1M285 773h1M286 773h1M288 773h1M292 773h1M274 774h1M284 774h1M285 774h1M288 774h1M289 774h1M294 774h1M280 775h1M289 775h1M285 776h1M287 776h1M288 776h1M290 776h1M291 776h1M278 777h1M283 777h1M281 778h1M282 778h1M280 779h1M284 779h1M290 779h1M295 779h1M279 780h1M279 781h1M276 782h1M287 783h1" stroke="#111" stroke-opacity="0.78" stroke-width="1"/><path d="M271 721h1M277 721h1M257 723h1M272 723h1M271 724h1M277 724h1M269 725h1M272 725h1M284 725h1M260 726h1M272 726h1M273 726h1M265 727h1M267 727h1M268 727h1M269 727h1M271 727h1M272 727h1M277 727h1M278 727h1M266 728h1M269 728h1M273 728h1M259 729h1M260 729h1M265 729h1M266 729h1M270 729h1M271 729h1M273 729h1M278 729h1M252 730h1M257 730h1M261 730h1M267 730h1M268 730h1M269 730h1M270 730h1M278 730h1M280 730h1M260 731h1M262 731h1M263 731h1M266 731h1M268 731h1M270 731h1M271 731h1M273 731h1M278 731h1M259 732h1M263 732h1M267 732h1M268 732h1M269 732h1M270 732h1M271 732h1M273 732h1M275 732h1M276 732h1M277 732h1M279 732h1M280 732h1M284 732h1M287 732h1M261 733h1M262 733h1M263 733h1M264 733h1M265 733h1M270 733h1M271 733h1M272 733h1M273 733h1M275 733h1M276 733h1M277 733h1M278 733h1M281 733h1M259 734h1M260 734h1M262 734h1M269 734h1M270 734h1M271 734h1M274 734h1M275 734h1M278 734h1M264 735h1M265 735h1M267 735h1M273 735h1M275 735h1M276 735h1M277 735h1M283 735h1M284 735h1M261 736h1M262 736h1M263 736h1M273 736h1M274 736h1M278 736h1M279 736h1M264 737h1M267 737h1M269 737h1M277 737h1M282 737h1M264 738h1M266 738h1M267 738h1M274 738h1M277 738h1M281 738h1M282 738h1M265 739h1M270 739h1M282 739h1M262 740h1M270 740h1M273 740h1M276 740h1M260 741h1M263 742h1M264 742h1M266 742h1M272 742h1M272 743h1M283 753h1M287 756h1M282 758h1M286 759h1M276 760h1M288 760h1M281 762h1M288 762h1M293 762h1M286 763h1M287 763h1M290 763h1M292 763h1M289 764h1M284 765h1M286 765h1M293 765h1M279 766h1M282 766h1M284 766h1M285 766h1M287 766h1M288 766h1M290 766h1M282 767h1M286 767h1M289 767h1M280 768h1M281 768h1M283 768h1M284 768h1M286 768h1M287 768h1M288 768h1M292 768h1M293 768h1M297 768h1M299 768h1M278 769h1M282 769h1M283 769h1M284 769h1M286 769h1M287 769h1M288 769h1M289 769h1M290 769h1M291 769h1M295 769h1M279 770h1M286 770h1M288 770h1M290 770h1M293 770h1M283 771h1M284 771h1M285 771h1M286 771h1M288 771h1M294 771h1M280 772h1M288 772h1M291 772h1M294 772h1M279 773h1M281 773h1M287 773h1M288 773h1M289 773h1M296 773h1M289 774h1M277 775h1M282 775h1M284 775h1M286 775h1M302 775h1M283 776h1M287 776h1M279 777h1M293 777h1M276 778h1M285 778h1M286 778h1M291 779h1M283 781h1M290 781h1" stroke="#111" stroke-opacity="0.78" stroke-width="1"/><path d="M259 710h1M289 714h1M270 717h1M278 720h1M284 720h1M293 720h1M262 721h1M268 721h1M269 721h1M270 721h1M276 721h1M243 722h1M246 722h1M255 722h1M259 722h1M272 722h1M295 722h1M302 722h1M256 723h1M261 723h1M270 723h1M259 724h1M269 724h1M271 724h1M285 724h1M266 725h1M270 725h1M272 725h1M281 725h1M284 725h1M293 725h1M241 726h1M250 726h1M258 726h1M262 726h1M263 726h1M269 726h1M271 726h1M273 726h1M277 726h1M281 726h1M295 726h1M299 726h1M246 727h1M254 727h1M259 727h1M279 727h1M291 727h1M256 728h1M257 728h1M263 728h1M264 728h1M267 728h1M270 728h1M276 728h1M278 728h1M280 728h1M283 728h1M248 729h1M252 729h1M258 729h1M260 729h1M265 729h1M271 729h1M272 729h1M278 729h1M284 729h1M287 729h1M247 730h1M255 730h1M258 730h1M270 730h1M275 730h1M284 730h1M245 731h1M249 731h1M250 731h1M252 731h1M255 731h1M256 731h1M258 731h1M260 731h1M263 731h1M264 731h1M265 731h1M267 731h1M271 731h1M272 731h1M274 731h1M285 731h1M289 731h1M230 732h1M242 732h1M247 732h1M249 732h1M255 732h1M257 732h1M260 732h1M263 732h1M265 732h1M268 732h1M275 732h1M289 732h1M255 733h1M257 733h1M258 733h1M260 733h1M261 733h1M263 733h1M264 733h1M266 733h1M267 733h1M274 733h1M277 733h1M282 733h1M296 733h1M244 734h1M255 734h1M257 734h1M263 734h1M265 734h1M266 734h1M268 734h1M270 734h1M271 734h1M272 734h1M275 734h1M276 734h1M278 734h1M284 734h1M250 735h1M263 735h1M271 735h1M273 735h1M278 735h1M279 735h1M281 735h1M282 735h1M249 736h1M250 736h1M251 736h1M260 736h1M261 736h1M262 736h1M267 736h1M273 736h1M287 736h1M289 736h1M243 737h1M256 737h1M261 737h1M262 737h1M263 737h1M266 737h1M267 737h1M270 737h1M273 737h1M275 737h1M277 737h1M278 737h1M284 737h1M291 737h1M240 738h1M245 738h1M250 738h1M259 738h1M260 738h1M261 738h1M263 738h1M269 738h1M271 738h1M272 738h1M274 738h1M278 738h1M287 738h1M288 738h1M237 739h1M241 739h1M242 739h1M254 739h1M257 739h1M259 739h1M264 739h1M277 739h1M278 739h1M285 739h1M286 739h1M289 739h1M233 740h1M243 740h1M250 740h1M257 740h1M258 740h1M260 740h1M263 740h1M264 740h1M265 740h1M268 740h1M273 740h1M278 740h1M290 740h1M250 741h1M252 741h1M254 741h1M256 741h1M260 741h1M262 741h1M263 741h1M264 741h1M275 741h1M280 741h1M287 741h1M232 742h1M250 742h1M261 742h1M266 742h1M267 742h1M281 742h1M288 742h1M242 743h1M248 743h1M257 743h1M258 743h1M259 743h1M260 743h1M262 743h1M276 743h1M283 743h1M287 743h1M291 743h1M247 744h1M258 744h1M262 744h1M271 744h1M273 744h1M274 744h1M276 744h1M277 744h1M280 744h1M281 744h1M288 744h1M254 745h1M271 745h1M273 745h1M275 745h1M282 745h1M284 745h1M288 745h1M255 746h1M262 746h1M264 746h1M267 746h1M275 746h1M277 746h1M287 746h1M290 746h1M291 746h1M236 747h1M261 747h1M263 747h1M277 747h1M281 747h1M283 747h1M285 747h1M289 747h1M273 748h1M278 748h1M279 748h1M280 748h1M286 748h1M247 749h1M267 749h1M272 749h1M280 749h1M286 749h1M275 750h1M278 750h1M280 750h1M286 750h1M289 750h1M263 751h1M273 751h1M276 751h1M280 751h1M285 751h1M243 752h1M261 752h1M274 752h1M276 752h1M281 752h1M247 753h1M276 753h1M292 753h1M279 754h1M283 754h1M286 754h1M294 754h1M277 755h1M272 756h1M276 756h1M284 756h1M300 756h1M258 757h1M280 757h1M296 757h1M280 758h1M289 758h1M292 758h1M289 759h1M291 759h1M293 760h1M276 761h1M279 761h1M284 761h1M286 761h1M288 761h1M289 761h1M292 761h1M279 762h1M284 762h1M290 762h1M282 763h1M287 763h1M294 763h1M296 763h1M273 764h1M278 764h1M284 764h1M285 764h1M287 764h1M292 764h1M279 765h1M286 765h1M290 765h1M298 765h1M300 765h1M301 765h1M279 766h1M282 766h1M284 766h1M285 766h1M288 766h1M293 766h1M265 767h1M273 767h1M290 767h1M292 767h1M294 767h1M299 767h1M306 767h1M274 768h1M285 768h1M287 768h1M293 768h1M301 768h1M286 769h1M290 769h1M292 769h1M294 769h1M299 769h1M273 770h1M274 770h1M282 770h1M287 770h1M272 771h1M275 771h1M282 771h1M283 771h1M286 771h1M287 771h1M291 771h1M300 771h1M282 772h1M285 772h1M290 772h1M291 772h1M295 772h1M277 773h1M280 773h1M288 773h1M289 773h1M277 774h1M284 774h1M285 774h1M286 774h1M292 774h1M297 774h1M270 775h1M274 776h1M281 776h1M295 776h1M287 777h1M288 777h1M289 777h1M297 777h1M267 778h1M277 778h1M279 778h1M302 778h1M293 779h1M297 779h1M301 779h1M272 780h1M276 780h1M279 782h1M285 783h1" stroke="#111" stroke-opacity="0.62" stroke-width="1"/><path d="M281 703h1M285 706h1M251 718h1M269 718h1M246 719h1M243 720h1M261 720h1M275 720h1M250 721h1M253 721h1M259 721h1M266 721h1M273 721h1M276 721h1M256 722h1M261 722h1M277 722h1M262 723h1M265 723h1M262 724h1M265 724h1M267 724h1M270 724h1M280 724h1M240 725h1M254 725h1M260 725h1M262 725h1M271 725h1M277 725h1M302 725h1M243 726h1M261 726h1M262 726h1M268 726h1M254 727h1M259 727h1M261 727h1M264 727h1M266 727h1M271 727h1M272 727h1M278 727h1M292 727h1M247 728h1M255 728h1M256 728h1M258 728h1M261 728h1M262 728h1M264 728h1M265 728h1M274 728h1M275 728h1M286 728h1M235 729h1M256 729h1M265 729h1M266 729h1M270 729h1M273 729h1M277 729h1M282 729h1M249 730h1M253 730h1M256 730h1M258 730h1M263 730h1M268 730h1M276 730h1M238 731h1M239 731h1M252 731h1M254 731h1M258 731h1M260 731h1M262 731h1M264 731h1M265 731h1M266 731h1M268 731h1M271 731h1M272 731h1M277 731h1M278 731h1M285 731h1M300 731h1M249 732h1M252 732h1M253 732h1M263 732h1M265 732h1M267 732h1M278 732h1M280 732h1M281 732h1M243 733h1M246 733h1M249 733h1M251 733h1M252 733h1M256 733h1M260 733h1M265 733h1M266 733h1M267 733h1M271 733h1M272 733h1M290 733h1M294 733h1M295 733h1M235 734h1M246 734h1M257 734h1M259 734h1M265 734h1M269 734h1M271 734h1M272 734h1M273 734h1M275 734h1M276 734h1M279 734h1M281 734h1M296 734h1M250 735h1M255 735h1M257 735h1M258 735h1M262 735h1M263 735h1M264 735h1M265 735h1M269 735h1M274 735h1M282 735h1M285 735h1M289 735h1M253 736h1M256 736h1M258 736h1M264 736h1M267 736h1M268 736h1M269 736h1M270 736h1M271 736h1M272 736h1M274 736h1M275 736h1M276 736h1M285 736h1M249 737h1M251 737h1M254 737h1M260 737h1M262 737h1M265 737h1M267 737h1M269 737h1M270 737h1M271 737h1M272 737h1M281 737h1M283 737h1M253 738h1M254 738h1M258 738h1M266 738h1M270 738h1M275 738h1M280 738h1M282 738h1M284 738h1M288 738h1M290 738h1M291 738h1M243 739h1M245 739h1M248 739h1M252 739h1M253 739h1M254 739h1M256 739h1M257 739h1M260 739h1M261 739h1M264 739h1M268 739h1M270 739h1M271 739h1M272 739h1M273 739h1M274 739h1M277 739h1M281 739h1M236 740h1M242 740h1M251 740h1M255 740h1M266 740h1M271 740h1M272 740h1M282 740h1M297 740h1M242 741h1M259 741h1M261 741h1M265 741h1M266 741h1M267 741h1M270 741h1M271 741h1M273 741h1M274 741h1M277 741h1M282 741h1M288 741h1M289 741h1M245 742h1M250 742h1M252 742h1M253 742h1M260 742h1M265 742h1M268 742h1M270 742h1M271 742h1M278 742h1M282 742h1M284 742h1M248 743h1M254 743h1M257 743h1M258 743h1M263 743h1M266 743h1M268 743h1M269 743h1M281 743h1M283 743h1M284 743h1M286 743h1M289 743h1M290 743h1M241 744h1M250 744h1M251 744h1M253 744h1M259 744h1M266 744h1M267 744h1M268 744h1M270 744h1M271 744h1M288 744h1M290 744h1M241 745h1M242 745h1M255 745h1M257 745h1M264 745h1M269 745h1M274 745h1M282 745h1M285 745h1M240 746h1M248 746h1M253 746h1M255 746h1M256 746h1M279 746h1M281 746h1M283 746h1M285 746h1M287 746h1M288 746h1M244 747h1M274 747h1M276 747h1M283 747h1M284 747h1M286 747h1M253 748h1M258 748h1M270 748h1M276 748h1M277 748h1M281 748h1M285 748h1M287 748h1M288 748h1M306 748h1M232 749h1M260 749h1M276 749h1M277 749h1M279 749h1M280 749h1M283 749h1M243 750h1M270 750h1M279 750h1M273 751h1M274 751h1M281 751h1M257 752h1M267 752h1M279 752h1M263 753h1M267 753h1M268 753h1M276 753h1M279 753h1M272 754h1M276 754h1M281 754h1M286 754h1M287 754h1M247 755h1M265 755h1M282 755h1M291 755h1M283 757h1M284 757h1M286 757h1M291 757h1M283 758h1M291 759h1M273 760h1M284 760h1M293 760h1M270 761h1M285 761h1M290 761h1M292 761h1M281 762h1M285 762h1M291 762h1M300 762h1M274 763h1M280 763h1M286 763h1M294 763h1M295 763h1M274 764h1M281 764h1M293 764h1M279 765h1M288 765h1M290 765h1M282 766h1M283 766h1M290 766h1M292 766h1M276 767h1M284 767h1M285 767h1M287 767h1M289 767h1M300 767h1M278 768h1M280 768h1M282 768h1M285 768h1M288 768h1M289 768h1M291 768h1M292 768h1M296 768h1M285 769h1M274 770h1M283 770h1M287 770h1M288 770h1M289 770h1M301 770h1M273 771h1M280 771h1M285 771h1M288 771h1M292 771h1M293 771h1M294 771h1M295 771h1M305 771h1M269 772h1M276 772h1M291 772h1M264 773h1M278 773h1M285 773h1M282 774h1M290 774h1M279 775h1M281 775h1M292 775h1M275 777h1M286 777h1M294 777h1M280 778h1M281 778h1M278 779h1M286 779h1M293 779h1M289 780h1M299 780h1M293 783h1" stroke="#111" stroke-opacity="0.62" stroke-width="1"/><path d="M277 714h1M274 716h1M279 716h1M278 718h1M260 719h1M279 719h1M283 719h1M267 720h1M277 720h1M281 720h1M283 720h1M241 721h1M256 721h1M260 721h1M274 721h1M287 721h1M269 722h1M277 722h1M273 723h1M275 723h1M247 724h1M258 724h1M259 724h1M263 724h1M264 724h1M265 724h1M270 724h1M249 725h1M278 725h1M279 725h1M284 725h1M251 726h1M266 726h1M267 726h1M274 726h1M304 726h1M237 727h1M257 727h1M258 727h1M259 727h1M262 727h1M272 727h1M246 728h1M250 728h1M253 728h1M272 728h1M278 728h1M283 728h1M285 728h1M245 729h1M248 729h1M250 729h1M260 729h1M261 729h1M263 729h1M266 729h1M268 729h1M272 729h1M274 729h1M295 729h1M258 730h1M263 730h1M266 730h1M272 730h1M273 730h1M274 730h1M277 730h1M281 730h1M241 731h1M250 731h1M252 731h1M255 731h1M259 731h1M262 731h1M264 731h1M268 731h1M276 731h1M279 731h1M290 731h1M245 732h1M253 732h1M254 732h1M258 732h1M259 732h1M260 732h1M261 732h1M262 732h1M264 732h1M265 732h1M269 732h1M273 732h1M275 732h1M278 732h1M285 732h1M249 733h1M251 733h1M255 733h1M258 733h1M259 733h1M262 733h1M263 733h1M266 733h1M268 733h1M270 733h1M271 733h1M277 733h1M279 733h1M280 733h1M283 733h1M246 734h1M249 734h1M264 734h1M268 734h1M269 734h1M274 734h1M275 734h1M276 734h1M282 734h1M283 734h1M234 735h1M239 735h1M244 735h1M253 735h1M260 735h1M261 735h1M262 735h1M267 735h1M268 735h1M276 735h1M277 735h1M285 735h1M287 735h1M250 736h1M255 736h1M266 736h1M272 736h1M273 736h1M278 736h1M280 736h1M285 736h1M286 736h1M246 737h1M248 737h1M256 737h1M264 737h1M266 737h1M271 737h1M273 737h1M275 737h1M277 737h1M279 737h1M281 737h1M246 738h1M251 738h1M254 738h1M258 738h1M259 738h1M262 738h1M265 738h1M267 738h1M270 738h1M274 738h1M275 738h1M285 738h1M286 738h1M249 739h1M250 739h1M255 739h1M259 739h1M260 739h1M263 739h1M264 739h1M267 739h1M269 739h1M271 739h1M273 739h1M278 739h1M281 739h1M284 739h1M285 739h1M287 739h1M240 740h1M242 740h1M244 740h1M245 740h1M255 740h1M258 740h1M260 740h1M261 740h1M262 740h1M265 740h1M267 740h1M268 740h1M269 740h1M273 740h1M274 740h1M285 740h1M287 740h1M249 741h1M255 741h1M263 741h1M264 741h1M269 741h1M270 741h1M275 741h1M277 741h1M291 741h1M248 742h1M249 742h1M253 742h1M263 742h1M264 742h1M269 742h1M270 742h1M271 742h1M277 742h1M278 742h1M280 742h1M282 742h1M249 743h1M254 743h1M264 743h1M284 743h1M286 743h1M256 744h1M259 744h1M260 744h1M266 744h1M272 744h1M283 744h1M292 744h1M228 745h1M255 745h1M257 745h1M258 745h1M261 745h1M272 745h1M284 745h1M290 745h1M241 746h1M247 746h1M250 746h1M259 746h1M265 746h1M266 746h1M272 746h1M273 746h1M275 746h1M281 746h1M282 746h1M284 746h1M285 746h1M286 746h1M273 747h1M277 747h1M284 747h1M288 747h1M292 747h1M240 748h1M246 748h1M247 748h1M253 748h1M254 748h1M261 748h1M272 748h1M278 748h1M295 748h1M241 749h1M247 749h1M260 749h1M267 749h1M268 749h1M269 749h1M274 749h1M278 749h1M281 749h1M282 749h1M251 750h1M266 750h1M282 750h1M289 750h1M293 750h1M276 752h1M280 752h1M255 753h1M258 753h1M276 753h1M277 753h1M266 756h1M273 756h1M279 757h1M293 757h1M268 758h1M280 758h1M297 758h1M288 759h1M278 760h1M288 760h1M288 761h1M293 761h1M274 762h1M285 762h1M291 762h1M293 762h1M295 762h1M305 762h1M263 763h1M276 763h1M278 763h1M288 763h1M291 763h1M294 763h1M273 764h1M283 764h1M284 764h1M289 764h1M294 764h1M295 764h1M297 764h1M299 764h1M302 764h1M273 765h1M295 765h1M283 766h1M278 767h1M287 767h1M288 767h1M289 767h1M292 767h1M281 768h1M285 768h1M288 768h1M275 769h1M277 769h1M281 769h1M287 769h1M294 769h1M303 769h1M306 769h1M277 770h1M285 770h1M286 770h1M288 770h1M290 770h1M293 770h1M294 770h1M295 770h1M296 770h1M283 771h1M285 771h1M286 771h1M288 771h1M290 771h1M293 771h1M276 772h1M280 772h1M283 772h1M285 772h1M286 772h1M294 772h1M295 772h1M300 772h1M285 773h1M289 773h1M295 773h1M272 774h1M286 774h1M293 774h1M294 774h1M297 774h1M306 774h1M282 776h1M287 776h1M290 776h1M301 776h1M290 777h1M295 777h1M281 778h1M281 779h1M283 779h1M294 780h1M284 782h1M288 782h1" stroke="#111" stroke-opacity="0.62" stroke-width="1"/><path d="M278 751h1M273 752h1M259 754h1M270 754h1M273 754h1M289 754h1M258 755h1M270 756h1M266 758h1M257 759h1M289 759h1M260 760h1M272 760h1M268 761h1M295 761h1M262 762h1M267 762h1M274 762h1M246 763h1M250 763h1M266 763h1M267 763h1M272 763h1M277 763h1M285 763h1M267 765h1M274 765h1M290 765h1M251 766h1M256 766h1M259 766h1M268 766h1M264 767h1M269 767h1M286 767h1M263 768h1M264 768h1M267 768h1M271 768h1M279 768h1M260 769h1M261 769h1M279 769h1M283 769h1M289 769h1M252 770h1M260 770h1M264 770h1M272 770h1M273 770h1M250 771h1M253 771h1M256 771h1M257 771h1M267 771h1M271 771h1M275 771h1M276 771h1M260 772h1M261 772h1M266 772h1M269 772h1M273 772h1M274 772h1M279 772h1M280 772h1M282 772h1M268 773h1M291 774h1M271 775h1M278 775h1M290 777h1M251 781h1M261 781h1M276 781h1M290 782h1M245 783h1" stroke="#111" stroke-opacity="0.5" stroke-width="1"/><path d="M276 753h1M266 754h1M281 754h1M273 755h1M262 759h1M270 759h1M275 759h1M276 759h1M249 760h1M294 760h1M295 761h1M256 762h1M264 762h1M276 762h1M264 763h1M270 763h1M257 764h1M259 764h1M275 764h1M259 765h1M273 765h1M275 765h1M252 766h1M256 766h1M264 766h1M282 767h1M269 768h1M250 769h1M256 769h1M261 769h1M266 769h1M268 769h1M276 769h1M283 769h1M239 770h1M262 770h1M265 770h1M274 770h1M277 770h1M279 770h1M265 771h1M276 771h1M277 771h1M265 772h1M256 774h1M267 774h1M283 774h1M262 777h1M271 777h1M272 778h1M269 779h1M274 779h1M256 782h1" stroke="#111" stroke-opacity="0.5" stroke-width="1"/><path d="M258 753h1M256 754h1M273 754h1M265 756h1M267 757h1M267 758h1M280 758h1M296 758h1M279 759h1M266 760h1M267 762h1M269 762h1M285 762h1M258 763h1M263 763h1M274 763h1M247 764h1M253 764h1M281 764h1M247 765h1M292 765h1M251 766h1M261 766h1M277 766h1M280 766h1M272 767h1M277 767h1M261 768h1M269 768h1M275 768h1M281 768h1M274 769h1M281 769h1M246 770h1M248 770h1M253 770h1M261 770h1M270 770h1M242 771h1M267 771h1M277 771h1M281 771h1M245 772h1M262 772h1M263 772h1M264 772h1M275 772h1M259 773h1M263 773h1M285 773h1M260 774h1M267 774h1M270 774h1M269 775h1M253 776h1M269 776h1M275 776h1M269 777h1M259 778h1M252 779h1M262 779h1M253 781h1M256 783h1" stroke="#111" stroke-opacity="0.5" stroke-width="1"/></g>
<path d="M210.5 662.5H341.5V784.5" fill="none" stroke="#6a6a6a" stroke-width="1"/>
<path d="M210.5 662.5V784.5H341.5" fill="none" stroke="#555" stroke-width="1"/>
<path d="M242.70 662.50L242.70 786.50" stroke="#333" stroke-width="1.3"/>
<path d="M210.50 755.50L341.50 755.50" stroke="#1a1a1a" stroke-width="1.2"/>
<text x="211.30" y="668.30" font-size="5.6" fill="#333" class="n">O1</text>
<text x="243.50" y="668.30" font-size="5.6" fill="#333" class="n">O2</text>
<text x="211.30" y="761.20" font-size="5.6" fill="#333" class="n">O3</text>
<text x="243.50" y="761.20" font-size="5.6" fill="#333" class="n">O4</text>
<text class="n" x="240.28" y="794.60" font-size="4.6" fill="#444">10<tspan font-size="3" dy="-1.8">1</tspan></text>
<text class="n" x="198.50" y="755.73" font-size="4.6" fill="#444">10<tspan font-size="3" dy="-1.8">1</tspan></text>
<text class="n" x="273.05" y="794.60" font-size="4.6" fill="#444">10<tspan font-size="3" dy="-1.8">2</tspan></text>
<text class="n" x="198.50" y="725.15" font-size="4.6" fill="#444">10<tspan font-size="3" dy="-1.8">2</tspan></text>
<text class="n" x="305.83" y="794.60" font-size="4.6" fill="#444">10<tspan font-size="3" dy="-1.8">3</tspan></text>
<text class="n" x="198.50" y="694.58" font-size="4.6" fill="#444">10<tspan font-size="3" dy="-1.8">3</tspan></text>
<text class="n" x="338.60" y="794.60" font-size="4.6" fill="#444">10<tspan font-size="3" dy="-1.8">4</tspan></text>
<text class="n" x="198.50" y="664.00" font-size="4.6" fill="#444">10<tspan font-size="3" dy="-1.8">4</tspan></text>
<text x="223.70" y="654.50" font-size="10.3">G-CSF-mobilized cells</text>
<text transform="translate(184.60,724.50) rotate(-90)" font-size="10.4" text-anchor="middle">VLA-4 (FL1)</text>
<text x="254.00" y="815.80" font-size="10.4">CD34 (FL2)</text>
<text x="318.00" y="676.60" font-size="10.1">71%</text>
<text x="315.40" y="769.40" font-size="10.1">29%</text>
<path d="M386.00 786.00v5M386.00 786.00h-5M395.96 786.00v3M386.00 776.73h-3M401.78 786.00v3M386.00 771.30h-3M405.91 786.00v3M386.00 767.46h-3M409.12 786.00v3M386.00 764.47h-3M411.74 786.00v3M386.00 762.03h-3M413.95 786.00v3M386.00 759.97h-3M415.87 786.00v3M386.00 758.18h-3M417.56 786.00v3M386.00 756.61h-3M419.07 786.00v5M386.00 755.20h-5M429.03 786.00v3M386.00 745.93h-3M434.86 786.00v3M386.00 740.50h-3M438.99 786.00v3M386.00 736.66h-3M442.19 786.00v3M386.00 733.67h-3M444.81 786.00v3M386.00 731.23h-3M447.03 786.00v3M386.00 729.17h-3M448.94 786.00v3M386.00 727.38h-3M450.64 786.00v3M386.00 725.81h-3M452.15 786.00v5M386.00 724.40h-5M462.11 786.00v3M386.00 715.13h-3M467.93 786.00v3M386.00 709.70h-3M472.06 786.00v3M386.00 705.86h-3M475.27 786.00v3M386.00 702.87h-3M477.89 786.00v3M386.00 700.43h-3M480.10 786.00v3M386.00 698.37h-3M482.02 786.00v3M386.00 696.58h-3M483.71 786.00v3M386.00 695.01h-3M485.22 786.00v5M386.00 693.60h-5M495.18 786.00v3M386.00 684.33h-3M501.01 786.00v3M386.00 678.90h-3M505.14 786.00v3M386.00 675.06h-3M508.34 786.00v3M386.00 672.07h-3M510.96 786.00v3M386.00 669.63h-3M513.18 786.00v3M386.00 667.57h-3M515.09 786.00v3M386.00 665.78h-3M516.79 786.00v3M386.00 664.21h-3M518.30 786.00v5M386.00 662.80h-5" stroke="#666" stroke-width="0.75"/>
<g shape-rendering="crispEdges" transform="translate(0,0.5)" ><path d="M454 712h1M439 717h1M426 719h1M450 719h1M451 719h1M467 719h1M432 720h1M437 720h1M450 720h1M456 720h1M466 720h1M436 721h1M416 722h1M440 722h1M443 723h1M444 723h1M455 723h1M461 723h1M465 723h1M436 724h1M458 724h1M465 724h1M473 724h1M433 725h1M436 725h1M449 725h1M452 725h1M448 726h1M458 726h1M432 727h1M440 727h1M443 727h1M453 727h1M454 727h1M458 727h1M426 728h1M427 728h1M444 728h1M447 728h1M449 728h1M452 728h1M455 728h1M470 728h1M426 729h1M428 729h1M429 729h1M436 729h1M437 729h1M441 729h1M454 729h1M455 729h1M462 729h1M463 729h1M466 729h1M432 730h1M435 730h1M436 730h1M438 730h1M442 730h1M445 730h1M448 730h1M456 730h1M468 730h1M421 731h1M426 731h1M428 731h1M431 731h1M438 731h1M440 731h1M441 731h1M442 731h1M443 731h1M444 731h1M446 731h1M451 731h1M456 731h1M458 731h1M459 731h1M462 731h1M463 731h1M433 732h1M434 732h1M437 732h1M441 732h1M443 732h1M444 732h1M445 732h1M446 732h1M447 732h1M449 732h1M453 732h1M429 733h1M430 733h1M435 733h1M438 733h1M445 733h1M446 733h1M450 733h1M451 733h1M452 733h1M454 733h1M456 733h1M460 733h1M461 733h1M462 733h1M464 733h1M429 734h1M430 734h1M433 734h1M440 734h1M441 734h1M445 734h1M446 734h1M447 734h1M450 734h1M453 734h1M454 734h1M459 734h1M469 734h1M425 735h1M427 735h1M430 735h1M434 735h1M438 735h1M440 735h1M441 735h1M444 735h1M446 735h1M447 735h1M449 735h1M451 735h1M452 735h1M454 735h1M455 735h1M456 735h1M457 735h1M459 735h1M460 735h1M467 735h1M468 735h1M430 736h1M433 736h1M436 736h1M438 736h1M440 736h1M441 736h1M443 736h1M445 736h1M447 736h1M449 736h1M451 736h1M452 736h1M453 736h1M457 736h1M464 736h1M467 736h1M470 736h1M474 736h1M425 737h1M432 737h1M433 737h1M435 737h1M441 737h1M445 737h1M446 737h1M448 737h1M449 737h1M450 737h1M451 737h1M452 737h1M453 737h1M454 737h1M455 737h1M456 737h1M457 737h1M458 737h1M461 737h1M467 737h1M428 738h1M435 738h1M436 738h1M437 738h1M439 738h1M440 738h1M442 738h1M443 738h1M444 738h1M446 738h1M447 738h1M448 738h1M449 738h1M454 738h1M458 738h1M460 738h1M462 738h1M429 739h1M430 739h1M431 739h1M434 739h1M435 739h1M436 739h1M439 739h1M440 739h1M441 739h1M442 739h1M445 739h1M449 739h1M450 739h1M451 739h1M452 739h1M453 739h1M455 739h1M456 739h1M457 739h1M460 739h1M461 739h1M464 739h1M466 739h1M478 739h1M423 740h1M424 740h1M426 740h1M429 740h1M437 740h1M439 740h1M440 740h1M441 740h1M442 740h1M445 740h1M448 740h1M449 740h1M451 740h1M453 740h1M454 740h1M455 740h1M457 740h1M458 740h1M459 740h1M461 740h1M464 740h1M473 740h1M421 741h1M424 741h1M429 741h1M430 741h1M434 741h1M437 741h1M440 741h1M442 741h1M444 741h1M447 741h1M448 741h1M449 741h1M451 741h1M455 741h1M456 741h1M458 741h1M460 741h1M466 741h1M470 741h1M422 742h1M425 742h1M430 742h1M432 742h1M433 742h1M436 742h1M440 742h1M441 742h1M442 742h1M443 742h1M444 742h1M447 742h1M449 742h1M451 742h1M452 742h1M454 742h1M455 742h1M456 742h1M457 742h1M459 742h1M463 742h1M473 742h1M427 743h1M431 743h1M433 743h1M434 743h1M435 743h1M436 743h1M437 743h1M439 743h1M440 743h1M441 743h1M444 743h1M445 743h1M449 743h1M450 743h1M453 743h1M456 743h1M468 743h1M470 743h1M419 744h1M430 744h1M432 744h1M434 744h1M439 744h1M441 744h1M442 744h1M443 744h1M444 744h1M445 744h1M447 744h1M448 744h1M449 744h1M451 744h1M452 744h1M455 744h1M458 744h1M463 744h1M466 744h1M425 745h1M426 745h1M438 745h1M442 745h1M443 745h1M444 745h1M445 745h1M446 745h1M447 745h1M449 745h1M451 745h1M455 745h1M458 745h1M467 745h1M469 745h1M472 745h1M420 746h1M429 746h1M433 746h1M434 746h1M435 746h1M437 746h1M438 746h1M439 746h1M441 746h1M443 746h1M456 746h1M457 746h1M429 747h1M430 747h1M431 747h1M436 747h1M437 747h1M439 747h1M441 747h1M444 747h1M445 747h1M446 747h1M447 747h1M450 747h1M451 747h1M454 747h1M458 747h1M468 747h1M469 747h1M416 748h1M432 748h1M436 748h1M443 748h1M446 748h1M449 748h1M450 748h1M452 748h1M454 748h1M455 748h1M456 748h1M458 748h1M461 748h1M429 749h1M442 749h1M443 749h1M446 749h1M448 749h1M449 749h1M454 749h1M464 749h1M472 749h1M435 750h1M437 750h1M441 750h1M443 750h1M444 750h1M445 750h1M460 750h1M466 750h1M433 751h1M439 751h1M446 751h1M456 751h1M442 752h1M448 752h1M449 752h1M455 752h1M463 752h1M464 752h1M427 753h1M439 753h1M458 753h1M460 753h1M443 754h1M449 754h1M423 755h1M441 755h1M449 755h1M456 755h1M459 755h1M443 756h1M449 757h1M463 757h1M469 757h1M448 758h1M449 758h1M450 758h1M454 758h1M458 758h1M463 758h1M466 758h1M435 759h1M451 759h1M414 760h1M442 760h1M451 760h1M455 760h1M459 760h1M463 760h1M438 761h1M445 761h1M449 761h1M459 761h1M470 761h1M438 762h1M441 762h1M446 762h1M448 762h1M450 762h1M451 762h1M464 762h1M467 762h1M424 763h1M425 763h1M430 763h1M437 763h1M440 763h1M442 763h1M443 763h1M445 763h1M447 763h1M451 763h1M456 763h1M425 764h1M437 764h1M438 764h1M439 764h1M444 764h1M447 764h1M448 764h1M458 764h1M463 764h1M465 764h1M468 764h1M432 765h1M440 765h1M443 765h1M444 765h1M446 765h1M448 765h1M449 765h1M452 765h1M456 765h1M461 765h1M462 765h1M432 766h1M442 766h1M443 766h1M447 766h1M448 766h1M449 766h1M450 766h1M451 766h1M453 766h1M454 766h1M456 766h1M457 766h1M460 766h1M461 766h1M423 767h1M426 767h1M431 767h1M434 767h1M437 767h1M438 767h1M439 767h1M440 767h1M442 767h1M445 767h1M447 767h1M449 767h1M451 767h1M452 767h1M453 767h1M455 767h1M458 767h1M461 767h1M462 767h1M464 767h1M469 767h1M473 767h1M426 768h1M430 768h1M431 768h1M436 768h1M438 768h1M439 768h1M441 768h1M447 768h1M448 768h1M449 768h1M452 768h1M453 768h1M455 768h1M456 768h1M457 768h1M458 768h1M465 768h1M466 768h1M424 769h1M427 769h1M432 769h1M436 769h1M440 769h1M441 769h1M443 769h1M444 769h1M446 769h1M447 769h1M448 769h1M450 769h1M452 769h1M454 769h1M455 769h1M456 769h1M457 769h1M458 769h1M465 769h1M469 769h1M425 770h1M433 770h1M436 770h1M439 770h1M440 770h1M441 770h1M442 770h1M443 770h1M448 770h1M451 770h1M454 770h1M456 770h1M459 770h1M461 770h1M431 771h1M432 771h1M434 771h1M435 771h1M437 771h1M438 771h1M440 771h1M441 771h1M446 771h1M448 771h1M449 771h1M450 771h1M452 771h1M454 771h1M455 771h1M459 771h1M461 771h1M464 771h1M483 771h1M424 772h1M431 772h1M432 772h1M433 772h1M434 772h1M435 772h1M437 772h1M438 772h1M439 772h1M441 772h1M446 772h1M447 772h1M449 772h1M450 772h1M451 772h1M453 772h1M454 772h1M457 772h1M458 772h1M460 772h1M462 772h1M464 772h1M431 773h1M432 773h1M433 773h1M434 773h1M437 773h1M439 773h1M440 773h1M441 773h1M442 773h1M443 773h1M444 773h1M445 773h1M447 773h1M448 773h1M449 773h1M451 773h1M452 773h1M453 773h1M454 773h1M455 773h1M456 773h1M457 773h1M458 773h1M459 773h1M461 773h1M462 773h1M465 773h1M469 773h1M433 774h1M434 774h1M439 774h1M441 774h1M442 774h1M443 774h1M444 774h1M448 774h1M449 774h1M450 774h1M451 774h1M453 774h1M455 774h1M458 774h1M459 774h1M461 774h1M466 774h1M467 774h1M468 774h1M432 775h1M435 775h1M436 775h1M438 775h1M440 775h1M441 775h1M442 775h1M443 775h1M444 775h1M445 775h1M454 775h1M455 775h1M456 775h1M459 775h1M471 775h1M419 776h1M431 776h1M433 776h1M434 776h1M437 776h1M439 776h1M440 776h1M442 776h1M448 776h1M451 776h1M460 776h1M463 776h1M467 776h1M468 776h1M471 776h1M425 777h1M430 777h1M432 777h1M436 777h1M437 777h1M439 777h1M444 777h1M445 777h1M447 777h1M448 777h1M450 777h1M452 777h1M427 778h1M431 778h1M437 778h1M441 778h1M442 778h1M444 778h1M445 778h1M447 778h1M448 778h1M451 778h1M478 778h1M433 779h1M436 779h1M437 779h1M439 779h1M446 779h1M448 779h1M449 779h1M451 779h1M452 779h1M457 779h1M458 779h1M463 779h1M425 780h1M442 780h1M444 780h1M450 780h1M460 780h1M446 781h1M450 781h1M416 782h1M425 782h1M443 782h1M446 782h1M446 783h1M434 784h1M445 784h1" stroke="#111" stroke-opacity="0.66" stroke-width="1"/><path d="M423 717h1M446 717h1M455 717h1M458 719h1M463 719h1M445 720h1M447 721h1M436 722h1M440 722h1M440 723h1M441 723h1M451 723h1M465 723h1M430 724h1M444 724h1M430 725h1M441 725h1M454 725h1M434 726h1M441 726h1M445 726h1M454 726h1M455 726h1M458 726h1M434 727h1M436 727h1M441 727h1M446 727h1M447 727h1M448 727h1M453 727h1M459 727h1M421 728h1M432 728h1M437 728h1M441 728h1M442 728h1M446 728h1M449 728h1M450 728h1M454 728h1M457 728h1M461 728h1M464 728h1M429 729h1M438 729h1M439 729h1M440 729h1M442 729h1M444 729h1M445 729h1M446 729h1M448 729h1M454 729h1M455 729h1M431 730h1M435 730h1M436 730h1M440 730h1M444 730h1M446 730h1M448 730h1M452 730h1M454 730h1M455 730h1M418 731h1M426 731h1M432 731h1M434 731h1M436 731h1M442 731h1M443 731h1M444 731h1M445 731h1M446 731h1M447 731h1M448 731h1M449 731h1M450 731h1M451 731h1M454 731h1M455 731h1M467 731h1M426 732h1M427 732h1M429 732h1M433 732h1M434 732h1M437 732h1M438 732h1M441 732h1M443 732h1M445 732h1M446 732h1M447 732h1M448 732h1M450 732h1M452 732h1M455 732h1M457 732h1M430 733h1M431 733h1M433 733h1M436 733h1M440 733h1M442 733h1M443 733h1M446 733h1M449 733h1M451 733h1M452 733h1M453 733h1M457 733h1M459 733h1M464 733h1M465 733h1M424 734h1M428 734h1M430 734h1M431 734h1M434 734h1M435 734h1M439 734h1M440 734h1M441 734h1M443 734h1M444 734h1M445 734h1M446 734h1M447 734h1M449 734h1M450 734h1M452 734h1M453 734h1M454 734h1M456 734h1M458 734h1M459 734h1M461 734h1M469 734h1M426 735h1M430 735h1M434 735h1M436 735h1M437 735h1M439 735h1M440 735h1M441 735h1M442 735h1M443 735h1M445 735h1M446 735h1M447 735h1M449 735h1M451 735h1M452 735h1M453 735h1M459 735h1M460 735h1M461 735h1M424 736h1M430 736h1M436 736h1M437 736h1M441 736h1M443 736h1M446 736h1M448 736h1M449 736h1M450 736h1M452 736h1M453 736h1M454 736h1M455 736h1M456 736h1M458 736h1M459 736h1M428 737h1M430 737h1M434 737h1M435 737h1M438 737h1M440 737h1M443 737h1M444 737h1M447 737h1M448 737h1M450 737h1M451 737h1M453 737h1M454 737h1M455 737h1M459 737h1M465 737h1M466 737h1M422 738h1M429 738h1M430 738h1M434 738h1M435 738h1M437 738h1M440 738h1M442 738h1M443 738h1M444 738h1M445 738h1M446 738h1M448 738h1M449 738h1M450 738h1M451 738h1M452 738h1M455 738h1M457 738h1M460 738h1M424 739h1M428 739h1M430 739h1M433 739h1M438 739h1M442 739h1M443 739h1M444 739h1M445 739h1M446 739h1M447 739h1M448 739h1M449 739h1M450 739h1M451 739h1M454 739h1M455 739h1M456 739h1M457 739h1M458 739h1M461 739h1M472 739h1M421 740h1M422 740h1M424 740h1M425 740h1M430 740h1M431 740h1M432 740h1M433 740h1M436 740h1M437 740h1M438 740h1M439 740h1M440 740h1M443 740h1M444 740h1M446 740h1M447 740h1M449 740h1M450 740h1M451 740h1M452 740h1M457 740h1M462 740h1M478 740h1M417 741h1M426 741h1M429 741h1M431 741h1M432 741h1M434 741h1M436 741h1M438 741h1M439 741h1M441 741h1M444 741h1M445 741h1M447 741h1M449 741h1M451 741h1M452 741h1M453 741h1M454 741h1M455 741h1M456 741h1M458 741h1M459 741h1M460 741h1M461 741h1M469 741h1M475 741h1M432 742h1M434 742h1M435 742h1M437 742h1M438 742h1M439 742h1M440 742h1M441 742h1M442 742h1M443 742h1M444 742h1M446 742h1M447 742h1M448 742h1M449 742h1M451 742h1M453 742h1M454 742h1M455 742h1M456 742h1M457 742h1M458 742h1M459 742h1M463 742h1M471 742h1M415 743h1M428 743h1M429 743h1M433 743h1M434 743h1M436 743h1M437 743h1M438 743h1M443 743h1M444 743h1M446 743h1M447 743h1M449 743h1M450 743h1M451 743h1M452 743h1M454 743h1M456 743h1M460 743h1M466 743h1M467 743h1M470 743h1M417 744h1M429 744h1M433 744h1M436 744h1M438 744h1M439 744h1M441 744h1M442 744h1M443 744h1M444 744h1M446 744h1M447 744h1M450 744h1M451 744h1M452 744h1M454 744h1M455 744h1M457 744h1M458 744h1M460 744h1M465 744h1M424 745h1M429 745h1M430 745h1M434 745h1M436 745h1M439 745h1M441 745h1M443 745h1M448 745h1M452 745h1M453 745h1M455 745h1M459 745h1M460 745h1M464 745h1M465 745h1M468 745h1M433 746h1M437 746h1M440 746h1M442 746h1M443 746h1M444 746h1M446 746h1M449 746h1M453 746h1M456 746h1M458 746h1M474 746h1M423 747h1M430 747h1M431 747h1M435 747h1M438 747h1M440 747h1M441 747h1M445 747h1M447 747h1M448 747h1M451 747h1M454 747h1M455 747h1M458 747h1M422 748h1M430 748h1M433 748h1M435 748h1M436 748h1M441 748h1M446 748h1M449 748h1M451 748h1M453 748h1M455 748h1M456 748h1M460 748h1M461 748h1M468 748h1M469 748h1M434 749h1M443 749h1M445 749h1M446 749h1M448 749h1M449 749h1M452 749h1M456 749h1M462 749h1M463 749h1M426 750h1M432 750h1M445 750h1M447 750h1M448 750h1M451 750h1M453 750h1M454 750h1M423 751h1M436 751h1M437 751h1M448 751h1M456 751h1M422 752h1M428 752h1M437 752h1M438 752h1M439 752h1M440 752h1M444 752h1M450 752h1M451 752h1M460 752h1M429 753h1M437 753h1M448 753h1M460 753h1M466 753h1M453 754h1M444 755h1M461 755h1M442 756h1M447 756h1M459 756h1M446 757h1M453 757h1M469 757h1M438 758h1M447 758h1M448 758h1M449 758h1M452 758h1M454 758h1M444 759h1M450 759h1M454 759h1M457 759h1M430 760h1M433 760h1M447 760h1M449 760h1M456 760h1M438 761h1M439 761h1M442 761h1M444 761h1M445 761h1M446 761h1M450 761h1M460 761h1M461 761h1M462 761h1M467 761h1M435 762h1M438 762h1M441 762h1M444 762h1M446 762h1M449 762h1M456 762h1M457 762h1M458 762h1M466 762h1M429 763h1M434 763h1M435 763h1M436 763h1M437 763h1M438 763h1M439 763h1M440 763h1M441 763h1M444 763h1M448 763h1M449 763h1M453 763h1M455 763h1M457 763h1M461 763h1M438 764h1M440 764h1M441 764h1M442 764h1M444 764h1M445 764h1M447 764h1M452 764h1M454 764h1M456 764h1M459 764h1M461 764h1M463 764h1M420 765h1M435 765h1M436 765h1M440 765h1M441 765h1M444 765h1M446 765h1M448 765h1M450 765h1M451 765h1M455 765h1M456 765h1M457 765h1M460 765h1M423 766h1M424 766h1M436 766h1M440 766h1M441 766h1M444 766h1M445 766h1M446 766h1M447 766h1M448 766h1M451 766h1M458 766h1M461 766h1M463 766h1M464 766h1M466 766h1M414 767h1M426 767h1M436 767h1M439 767h1M443 767h1M445 767h1M446 767h1M448 767h1M451 767h1M452 767h1M453 767h1M460 767h1M461 767h1M462 767h1M463 767h1M466 767h1M473 767h1M474 767h1M428 768h1M435 768h1M436 768h1M437 768h1M438 768h1M440 768h1M441 768h1M442 768h1M445 768h1M446 768h1M447 768h1M448 768h1M449 768h1M451 768h1M452 768h1M456 768h1M459 768h1M465 768h1M467 768h1M424 769h1M431 769h1M432 769h1M433 769h1M435 769h1M436 769h1M440 769h1M441 769h1M442 769h1M443 769h1M445 769h1M447 769h1M450 769h1M451 769h1M452 769h1M453 769h1M456 769h1M458 769h1M461 769h1M462 769h1M463 769h1M465 769h1M436 770h1M442 770h1M445 770h1M446 770h1M448 770h1M449 770h1M450 770h1M451 770h1M456 770h1M459 770h1M421 771h1M427 771h1M431 771h1M433 771h1M435 771h1M437 771h1M438 771h1M439 771h1M443 771h1M444 771h1M445 771h1M446 771h1M447 771h1M448 771h1M450 771h1M453 771h1M454 771h1M455 771h1M456 771h1M459 771h1M460 771h1M461 771h1M462 771h1M465 771h1M431 772h1M433 772h1M437 772h1M439 772h1M444 772h1M447 772h1M450 772h1M451 772h1M452 772h1M454 772h1M456 772h1M459 772h1M463 772h1M465 772h1M470 772h1M433 773h1M435 773h1M436 773h1M438 773h1M441 773h1M443 773h1M445 773h1M448 773h1M451 773h1M453 773h1M454 773h1M455 773h1M456 773h1M457 773h1M458 773h1M475 773h1M486 773h1M414 774h1M424 774h1M429 774h1M430 774h1M431 774h1M438 774h1M439 774h1M440 774h1M443 774h1M444 774h1M447 774h1M449 774h1M452 774h1M453 774h1M454 774h1M455 774h1M457 774h1M458 774h1M460 774h1M462 774h1M467 774h1M436 775h1M438 775h1M440 775h1M446 775h1M447 775h1M449 775h1M450 775h1M453 775h1M458 775h1M461 775h1M462 775h1M463 775h1M429 776h1M430 776h1M435 776h1M443 776h1M445 776h1M447 776h1M448 776h1M450 776h1M452 776h1M454 776h1M455 776h1M456 776h1M457 776h1M458 776h1M459 776h1M466 776h1M427 777h1M429 777h1M436 777h1M437 777h1M439 777h1M441 777h1M446 777h1M453 777h1M454 777h1M455 777h1M467 777h1M431 778h1M434 778h1M439 778h1M440 778h1M447 778h1M450 778h1M451 778h1M456 778h1M457 778h1M458 778h1M466 778h1M467 778h1M436 779h1M441 779h1M443 779h1M451 779h1M452 779h1M457 779h1M460 779h1M462 779h1M463 779h1M451 780h1M439 781h1M444 781h1M445 781h1M453 782h1M458 782h1M441 783h1" stroke="#111" stroke-opacity="0.66" stroke-width="1"/><path d="M459 715h1M420 721h1M446 721h1M437 722h1M438 722h1M439 722h1M442 722h1M448 722h1M449 722h1M459 722h1M437 723h1M442 723h1M461 723h1M438 724h1M440 724h1M442 724h1M445 724h1M447 724h1M449 724h1M464 724h1M426 725h1M435 725h1M442 725h1M445 725h1M434 726h1M437 726h1M438 726h1M439 726h1M435 727h1M438 727h1M446 727h1M447 727h1M451 727h1M452 727h1M454 727h1M463 727h1M418 728h1M429 728h1M434 728h1M436 728h1M438 728h1M445 728h1M446 728h1M448 728h1M449 728h1M450 728h1M453 728h1M458 728h1M461 728h1M462 728h1M468 728h1M428 729h1M435 729h1M436 729h1M442 729h1M443 729h1M445 729h1M447 729h1M463 729h1M426 730h1M436 730h1M439 730h1M443 730h1M448 730h1M452 730h1M453 730h1M454 730h1M455 730h1M456 730h1M423 731h1M430 731h1M433 731h1M434 731h1M437 731h1M438 731h1M439 731h1M440 731h1M442 731h1M443 731h1M449 731h1M450 731h1M451 731h1M452 731h1M453 731h1M455 731h1M457 731h1M459 731h1M430 732h1M435 732h1M440 732h1M441 732h1M442 732h1M443 732h1M445 732h1M448 732h1M449 732h1M451 732h1M453 732h1M455 732h1M456 732h1M458 732h1M459 732h1M460 732h1M462 732h1M417 733h1M421 733h1M425 733h1M433 733h1M436 733h1M437 733h1M438 733h1M439 733h1M440 733h1M442 733h1M444 733h1M445 733h1M449 733h1M451 733h1M453 733h1M460 733h1M463 733h1M468 733h1M418 734h1M429 734h1M430 734h1M432 734h1M435 734h1M437 734h1M439 734h1M440 734h1M441 734h1M442 734h1M443 734h1M446 734h1M447 734h1M448 734h1M453 734h1M454 734h1M455 734h1M456 734h1M460 734h1M463 734h1M427 735h1M429 735h1M433 735h1M434 735h1M435 735h1M436 735h1M438 735h1M439 735h1M440 735h1M441 735h1M443 735h1M444 735h1M445 735h1M446 735h1M447 735h1M448 735h1M450 735h1M451 735h1M452 735h1M453 735h1M455 735h1M456 735h1M458 735h1M460 735h1M461 735h1M463 735h1M465 735h1M466 735h1M472 735h1M424 736h1M427 736h1M429 736h1M430 736h1M434 736h1M435 736h1M436 736h1M439 736h1M440 736h1M443 736h1M444 736h1M445 736h1M446 736h1M448 736h1M449 736h1M451 736h1M453 736h1M455 736h1M456 736h1M460 736h1M463 736h1M476 736h1M420 737h1M428 737h1M429 737h1M432 737h1M436 737h1M438 737h1M441 737h1M442 737h1M443 737h1M444 737h1M445 737h1M447 737h1M448 737h1M449 737h1M452 737h1M453 737h1M454 737h1M457 737h1M461 737h1M470 737h1M476 737h1M424 738h1M429 738h1M433 738h1M434 738h1M436 738h1M437 738h1M439 738h1M441 738h1M442 738h1M443 738h1M446 738h1M447 738h1M448 738h1M449 738h1M450 738h1M451 738h1M453 738h1M454 738h1M455 738h1M457 738h1M459 738h1M461 738h1M462 738h1M429 739h1M434 739h1M436 739h1M437 739h1M438 739h1M439 739h1M440 739h1M446 739h1M447 739h1M448 739h1M449 739h1M450 739h1M452 739h1M455 739h1M462 739h1M464 739h1M420 740h1M435 740h1M438 740h1M439 740h1M440 740h1M441 740h1M443 740h1M445 740h1M446 740h1M448 740h1M449 740h1M450 740h1M452 740h1M453 740h1M454 740h1M455 740h1M460 740h1M430 741h1M431 741h1M434 741h1M435 741h1M436 741h1M437 741h1M438 741h1M439 741h1M440 741h1M442 741h1M443 741h1M446 741h1M447 741h1M448 741h1M453 741h1M455 741h1M457 741h1M458 741h1M460 741h1M469 741h1M435 742h1M438 742h1M439 742h1M441 742h1M442 742h1M443 742h1M446 742h1M448 742h1M450 742h1M451 742h1M452 742h1M453 742h1M454 742h1M456 742h1M457 742h1M458 742h1M461 742h1M462 742h1M466 742h1M467 742h1M421 743h1M422 743h1M423 743h1M426 743h1M438 743h1M440 743h1M441 743h1M442 743h1M443 743h1M445 743h1M446 743h1M447 743h1M448 743h1M449 743h1M453 743h1M454 743h1M455 743h1M456 743h1M466 743h1M468 743h1M472 743h1M473 743h1M420 744h1M424 744h1M425 744h1M428 744h1M433 744h1M434 744h1M435 744h1M436 744h1M440 744h1M445 744h1M446 744h1M447 744h1M448 744h1M451 744h1M452 744h1M454 744h1M455 744h1M456 744h1M458 744h1M459 744h1M462 744h1M463 744h1M464 744h1M470 744h1M428 745h1M432 745h1M433 745h1M440 745h1M441 745h1M442 745h1M444 745h1M445 745h1M448 745h1M449 745h1M450 745h1M454 745h1M455 745h1M458 745h1M461 745h1M470 745h1M418 746h1M425 746h1M429 746h1M432 746h1M433 746h1M434 746h1M437 746h1M439 746h1M442 746h1M443 746h1M444 746h1M446 746h1M447 746h1M448 746h1M449 746h1M453 746h1M463 746h1M464 746h1M465 746h1M418 747h1M435 747h1M443 747h1M449 747h1M453 747h1M454 747h1M455 747h1M458 747h1M467 747h1M468 747h1M471 747h1M422 748h1M433 748h1M434 748h1M435 748h1M438 748h1M439 748h1M440 748h1M445 748h1M449 748h1M459 748h1M468 748h1M429 749h1M447 749h1M452 749h1M455 749h1M457 749h1M466 749h1M474 749h1M433 750h1M445 750h1M446 750h1M447 750h1M449 750h1M451 750h1M456 750h1M457 750h1M459 750h1M460 750h1M432 751h1M438 751h1M441 751h1M451 751h1M457 751h1M435 752h1M449 752h1M450 752h1M455 752h1M462 752h1M471 752h1M426 753h1M431 753h1M441 753h1M444 753h1M447 753h1M453 753h1M465 753h1M444 755h1M452 755h1M461 755h1M442 756h1M441 757h1M448 757h1M451 757h1M425 758h1M450 758h1M452 758h1M437 759h1M443 759h1M458 759h1M469 759h1M445 760h1M450 760h1M454 760h1M456 760h1M458 760h1M463 760h1M435 761h1M438 761h1M458 761h1M419 762h1M431 762h1M438 762h1M441 762h1M442 762h1M449 762h1M453 762h1M454 762h1M460 762h1M462 762h1M464 762h1M432 763h1M433 763h1M434 763h1M436 763h1M442 763h1M444 763h1M445 763h1M450 763h1M453 763h1M457 763h1M463 763h1M469 763h1M426 764h1M429 764h1M440 764h1M442 764h1M448 764h1M450 764h1M451 764h1M457 764h1M460 764h1M462 764h1M428 765h1M432 765h1M433 765h1M434 765h1M436 765h1M437 765h1M443 765h1M445 765h1M447 765h1M448 765h1M449 765h1M450 765h1M453 765h1M456 765h1M457 765h1M466 765h1M431 766h1M434 766h1M437 766h1M441 766h1M442 766h1M445 766h1M446 766h1M448 766h1M449 766h1M456 766h1M457 766h1M460 766h1M463 766h1M464 766h1M468 766h1M472 766h1M418 767h1M431 767h1M433 767h1M435 767h1M436 767h1M438 767h1M440 767h1M442 767h1M446 767h1M449 767h1M451 767h1M452 767h1M454 767h1M455 767h1M456 767h1M457 767h1M460 767h1M462 767h1M468 767h1M437 768h1M438 768h1M441 768h1M442 768h1M443 768h1M445 768h1M446 768h1M447 768h1M448 768h1M449 768h1M450 768h1M451 768h1M453 768h1M454 768h1M455 768h1M456 768h1M457 768h1M459 768h1M461 768h1M465 768h1M467 768h1M424 769h1M429 769h1M432 769h1M433 769h1M436 769h1M438 769h1M441 769h1M443 769h1M444 769h1M445 769h1M446 769h1M447 769h1M448 769h1M450 769h1M453 769h1M454 769h1M455 769h1M456 769h1M457 769h1M465 769h1M466 769h1M468 769h1M469 769h1M473 769h1M429 770h1M438 770h1M439 770h1M441 770h1M442 770h1M444 770h1M445 770h1M446 770h1M448 770h1M452 770h1M454 770h1M455 770h1M457 770h1M460 770h1M465 770h1M472 770h1M479 770h1M426 771h1M434 771h1M436 771h1M438 771h1M440 771h1M441 771h1M442 771h1M443 771h1M444 771h1M445 771h1M447 771h1M448 771h1M449 771h1M452 771h1M453 771h1M454 771h1M455 771h1M456 771h1M457 771h1M458 771h1M459 771h1M461 771h1M465 771h1M467 771h1M426 772h1M430 772h1M433 772h1M434 772h1M435 772h1M437 772h1M438 772h1M439 772h1M440 772h1M441 772h1M442 772h1M444 772h1M445 772h1M446 772h1M448 772h1M450 772h1M451 772h1M455 772h1M457 772h1M458 772h1M459 772h1M460 772h1M466 772h1M430 773h1M431 773h1M432 773h1M436 773h1M437 773h1M439 773h1M441 773h1M443 773h1M444 773h1M446 773h1M447 773h1M448 773h1M449 773h1M450 773h1M451 773h1M452 773h1M453 773h1M454 773h1M455 773h1M456 773h1M458 773h1M460 773h1M462 773h1M465 773h1M425 774h1M436 774h1M440 774h1M441 774h1M444 774h1M445 774h1M446 774h1M447 774h1M449 774h1M452 774h1M454 774h1M455 774h1M456 774h1M457 774h1M458 774h1M459 774h1M464 774h1M468 774h1M476 774h1M425 775h1M428 775h1M429 775h1M435 775h1M437 775h1M440 775h1M442 775h1M443 775h1M444 775h1M447 775h1M448 775h1M449 775h1M450 775h1M452 775h1M456 775h1M457 775h1M458 775h1M435 776h1M437 776h1M439 776h1M441 776h1M442 776h1M444 776h1M447 776h1M448 776h1M454 776h1M466 776h1M472 776h1M429 777h1M430 777h1M434 777h1M436 777h1M442 777h1M443 777h1M445 777h1M447 777h1M450 777h1M451 777h1M453 777h1M456 777h1M457 777h1M459 777h1M462 777h1M463 777h1M466 777h1M470 777h1M474 777h1M452 778h1M434 779h1M445 779h1M450 779h1M451 779h1M464 779h1M437 780h1M439 780h1M447 780h1M450 780h1M464 780h1M438 781h1M451 781h1M458 781h1M460 781h1M438 782h1M443 782h1M446 782h1M447 782h1M448 782h1M452 782h1M461 782h1M461 783h1M446 784h1" stroke="#111" stroke-opacity="0.66" stroke-width="1"/><path d="M445 717h1M451 725h1M446 732h1M424 733h1M460 733h1M429 734h1M444 736h1M459 739h1M460 740h1M445 743h1M455 743h1M434 744h1M450 744h1M459 744h1M460 744h1M477 744h1M448 745h1M468 745h1M443 746h1M448 747h1M451 747h1M445 748h1M451 748h1M457 748h1M423 750h1M435 750h1M446 750h1M449 752h1M456 752h1M452 756h1M456 756h1M448 757h1M451 757h1M417 759h1M437 764h1M434 765h1M440 765h1M454 767h1M448 768h1M468 769h1M437 770h1M444 770h1M453 772h1M426 774h1M444 774h1M444 777h1" stroke="#111" stroke-opacity="0.5" stroke-width="1"/><path d="M431 720h1M435 727h1M444 727h1M443 730h1M444 736h1M435 738h1M447 739h1M463 739h1M439 740h1M445 740h1M453 740h1M441 741h1M445 741h1M451 741h1M459 743h1M453 744h1M447 745h1M445 746h1M436 747h1M450 748h1M432 749h1M453 749h1M425 750h1M453 750h1M458 750h1M464 750h1M433 751h1M450 752h1M455 752h1M458 752h1M483 752h1M437 753h1M441 753h1M460 753h1M436 755h1M441 755h1M430 757h1M440 757h1M452 759h1M455 759h1M452 760h1M445 761h1M453 761h1M434 762h1M436 764h1M444 765h1M453 767h1M426 770h1M445 772h1M445 779h1" stroke="#111" stroke-opacity="0.5" stroke-width="1"/><path d="M452 725h1M468 726h1M445 727h1M432 729h1M437 730h1M454 730h1M452 736h1M425 740h1M430 743h1M446 743h1M457 743h1M427 745h1M437 745h1M444 745h1M441 746h1M449 746h1M437 747h1M442 747h1M452 747h1M453 747h1M456 747h1M466 747h1M430 748h1M444 749h1M450 749h1M448 750h1M452 751h1M438 752h1M441 752h1M443 752h1M448 754h1M453 755h1M457 755h1M464 757h1M452 758h1M457 759h1M450 760h1M462 760h1M441 761h1M430 762h1M439 765h1M466 765h1M439 766h1M442 769h1M448 770h1M451 772h1M459 777h1M435 780h1" stroke="#111" stroke-opacity="0.5" stroke-width="1"/></g>
<path d="M386.5 662.5H518.5V786.5" fill="none" stroke="#6a6a6a" stroke-width="1"/>
<path d="M386.5 662.5V786.5H518.5" fill="none" stroke="#555" stroke-width="1"/>
<path d="M419.00 662.50L419.00 788.50" stroke="#333" stroke-width="1.3"/>
<path d="M386.50 755.50L518.50 755.50" stroke="#1a1a1a" stroke-width="1.2"/>
<text x="386.80" y="668.80" font-size="5.6" fill="#333" class="n">O1</text>
<text x="419.80" y="668.80" font-size="5.6" fill="#333" class="n">O2</text>
<text x="386.80" y="761.50" font-size="5.6" fill="#333" class="n">O3</text>
<text x="419.80" y="761.50" font-size="5.6" fill="#333" class="n">O4</text>
<text class="n" x="416.07" y="796.00" font-size="4.6" fill="#444">10<tspan font-size="3" dy="-1.8">1</tspan></text>
<text class="n" x="374.00" y="756.90" font-size="4.6" fill="#444">10<tspan font-size="3" dy="-1.8">1</tspan></text>
<text class="n" x="449.15" y="796.00" font-size="4.6" fill="#444">10<tspan font-size="3" dy="-1.8">2</tspan></text>
<text class="n" x="374.00" y="726.10" font-size="4.6" fill="#444">10<tspan font-size="3" dy="-1.8">2</tspan></text>
<text class="n" x="482.22" y="796.00" font-size="4.6" fill="#444">10<tspan font-size="3" dy="-1.8">3</tspan></text>
<text class="n" x="374.00" y="695.30" font-size="4.6" fill="#444">10<tspan font-size="3" dy="-1.8">3</tspan></text>
<text class="n" x="515.30" y="796.00" font-size="4.6" fill="#444">10<tspan font-size="3" dy="-1.8">4</tspan></text>
<text class="n" x="374.00" y="664.50" font-size="4.6" fill="#444">10<tspan font-size="3" dy="-1.8">4</tspan></text>
<text x="411.60" y="655.00" font-size="10.3">Bone marrow cells</text>
<text transform="translate(366.00,724.40) rotate(-90)" font-size="10.4" text-anchor="middle">VLA-4 (FL1)</text>
<text x="430.70" y="815.60" font-size="10.4">CD34 (FL2)</text>
<text x="491.00" y="676.50" font-size="10.1">67%</text>
<text x="491.20" y="770.00" font-size="10.1">33%</text>
<text x="153.80" y="840.20" font-size="19" font-weight="bold" fill="#000">ii</text>
<path d="M188.00 906.68H339.30M188.00 892.86H339.30M188.00 879.04H339.30M188.00 865.22H339.30M188.00 851.40H339.30" stroke="#d9d9d9" stroke-width="1"/>
<path d="M188.00 851.40V920.50M339.30 851.40V920.50" stroke="#cfcfcf" stroke-width="0.8"/>
<text x="182.30" y="923.20" font-size="7.6" text-anchor="end">0</text>
<path d="M186.00 920.50H188.00" stroke="#bbb" stroke-width="0.7"/>
<text x="182.30" y="909.38" font-size="7.6" text-anchor="end">20</text>
<path d="M186.00 906.68H188.00" stroke="#bbb" stroke-width="0.7"/>
<text x="182.30" y="895.56" font-size="7.6" text-anchor="end">40</text>
<path d="M186.00 892.86H188.00" stroke="#bbb" stroke-width="0.7"/>
<text x="182.30" y="881.74" font-size="7.6" text-anchor="end">60</text>
<path d="M186.00 879.04H188.00" stroke="#bbb" stroke-width="0.7"/>
<text x="182.30" y="867.92" font-size="7.6" text-anchor="end">80</text>
<path d="M186.00 865.22H188.00" stroke="#bbb" stroke-width="0.7"/>
<text x="182.30" y="854.10" font-size="7.6" text-anchor="end">100</text>
<path d="M186.00 851.40H188.00" stroke="#bbb" stroke-width="0.7"/>
<rect x="195.30" y="859.00" width="8.40" height="61.50" fill="#0a0a0a" stroke="#000" stroke-width="0.8"/>
<rect x="204.50" y="879.73" width="8.40" height="40.77" fill="#767676" stroke="#333" stroke-width="0.8"/>
<rect x="213.70" y="871.44" width="8.40" height="49.06" fill="#b4b4b4" stroke="#444" stroke-width="0.8"/>
<rect x="222.90" y="875.59" width="8.40" height="44.92" fill="#f8f8f8" stroke="#444" stroke-width="0.8"/>
<rect x="245.73" y="871.44" width="8.40" height="49.06" fill="#0a0a0a" stroke="#000" stroke-width="0.8"/>
<rect x="254.93" y="890.79" width="8.40" height="29.71" fill="#767676" stroke="#333" stroke-width="0.8"/>
<rect x="264.13" y="896.31" width="8.40" height="24.19" fill="#b4b4b4" stroke="#444" stroke-width="0.8"/>
<rect x="273.33" y="909.44" width="8.40" height="11.06" fill="#f8f8f8" stroke="#444" stroke-width="0.8"/>
<rect x="296.17" y="874.20" width="8.40" height="46.30" fill="#0a0a0a" stroke="#000" stroke-width="0.8"/>
<rect x="305.37" y="879.73" width="8.40" height="40.77" fill="#767676" stroke="#333" stroke-width="0.8"/>
<rect x="314.57" y="895.62" width="8.40" height="24.88" fill="#b4b4b4" stroke="#444" stroke-width="0.8"/>
<rect x="323.77" y="875.59" width="8.40" height="44.92" fill="#f8f8f8" stroke="#444" stroke-width="0.8"/>
<text transform="translate(142.20,884.90) rotate(-90)" font-size="7.0" text-anchor="middle" font-weight="bold">% cells expressing VLA-4</text>
<rect x="345.30" y="860.30" width="39.70" height="50.10" fill="none" stroke="#d0d0d0" stroke-width="0.8"/>
<rect x="347.50" y="866.00" width="4.00" height="4.00" fill="#0a0a0a" stroke="#000" stroke-width="0.7"/>
<text x="355.00" y="869.50" font-size="7.4">RQ3636</text>
<rect x="347.50" y="878.00" width="4.00" height="4.00" fill="#767676" stroke="#333" stroke-width="0.7"/>
<text x="355.00" y="881.50" font-size="7.4">RQ3590</text>
<rect x="347.50" y="890.70" width="4.00" height="4.00" fill="#b4b4b4" stroke="#444" stroke-width="0.7"/>
<text x="355.00" y="894.20" font-size="7.4">RQ3565</text>
<rect x="347.50" y="903.00" width="4.00" height="4.00" fill="#f8f8f8" stroke="#444" stroke-width="0.7"/>
<text x="355.00" y="906.50" font-size="7.4">RQ4380</text>
<path d="M147.60 933.80H339.30M147.60 947.00H339.30M147.60 960.10H339.30M147.60 973.00H339.30M147.60 985.20H339.30M147.60 933.80V985.20M188.00 920.50V985.20M238.43 920.50V985.20M288.87 920.50V985.20M339.30 920.50V985.20" stroke="#cdcdcd" stroke-width="0.8"/>
<path d="M188.00 920.50H339.30" stroke="#999" stroke-width="0.8"/>
<text x="213.22" y="930.00" font-size="7.6" text-anchor="middle" font-style="italic">AMD</text>
<text x="263.65" y="930.00" font-size="7.6" text-anchor="middle" font-style="italic">G-CSF</text>
<text x="314.08" y="930.00" font-size="7.6" text-anchor="middle" font-style="italic">BM</text>
<rect x="150.00" y="939.40" width="4.00" height="4.00" fill="#0a0a0a" stroke="#000" stroke-width="0.7"/>
<text x="156.80" y="943.50" font-size="7.4" font-style="italic">RQ3636</text>
<text x="213.22" y="943.50" font-size="7.6" text-anchor="middle" font-style="italic">89</text>
<text x="263.65" y="943.50" font-size="7.6" text-anchor="middle" font-style="italic">71</text>
<text x="314.08" y="943.50" font-size="7.6" text-anchor="middle" font-style="italic">67</text>
<rect x="150.00" y="952.55" width="4.00" height="4.00" fill="#767676" stroke="#333" stroke-width="0.7"/>
<text x="156.80" y="956.65" font-size="7.4" font-style="italic">RQ3590</text>
<text x="213.22" y="956.65" font-size="7.6" text-anchor="middle" font-style="italic">59</text>
<text x="263.65" y="956.65" font-size="7.6" text-anchor="middle" font-style="italic">43</text>
<text x="314.08" y="956.65" font-size="7.6" text-anchor="middle" font-style="italic">59</text>
<rect x="150.00" y="965.55" width="4.00" height="4.00" fill="#b4b4b4" stroke="#444" stroke-width="0.7"/>
<text x="156.80" y="969.65" font-size="7.4" font-style="italic">RQ3565</text>
<text x="213.22" y="969.65" font-size="7.6" text-anchor="middle" font-style="italic">71</text>
<text x="263.65" y="969.65" font-size="7.6" text-anchor="middle" font-style="italic">35</text>
<text x="314.08" y="969.65" font-size="7.6" text-anchor="middle" font-style="italic">36</text>
<rect x="150.00" y="978.10" width="4.00" height="4.00" fill="#f8f8f8" stroke="#444" stroke-width="0.7"/>
<text x="156.80" y="982.20" font-size="7.4" font-style="italic">RQ4380</text>
<text x="213.22" y="982.20" font-size="7.6" text-anchor="middle" font-style="italic">65</text>
<text x="263.65" y="982.20" font-size="7.6" text-anchor="middle" font-style="italic">16</text>
<text x="314.08" y="982.20" font-size="7.6" text-anchor="middle" font-style="italic">65</text>
<text x="149.90" y="1008.80" font-size="7.75">Mean <tspan text-decoration="underline">+</tspan> SD</text>
<text x="217.40" y="1008.80" font-size="7.75" text-anchor="middle">71 <tspan text-decoration="underline">+</tspan> 13%</text>
<text x="265.00" y="1008.80" font-size="7.75" text-anchor="middle">41 <tspan text-decoration="underline">+</tspan> 23%</text>
<text x="316.20" y="1008.80" font-size="7.75" text-anchor="middle">57 <tspan text-decoration="underline">+</tspan> 14%</text>
</g>
</svg>
</body></html>
